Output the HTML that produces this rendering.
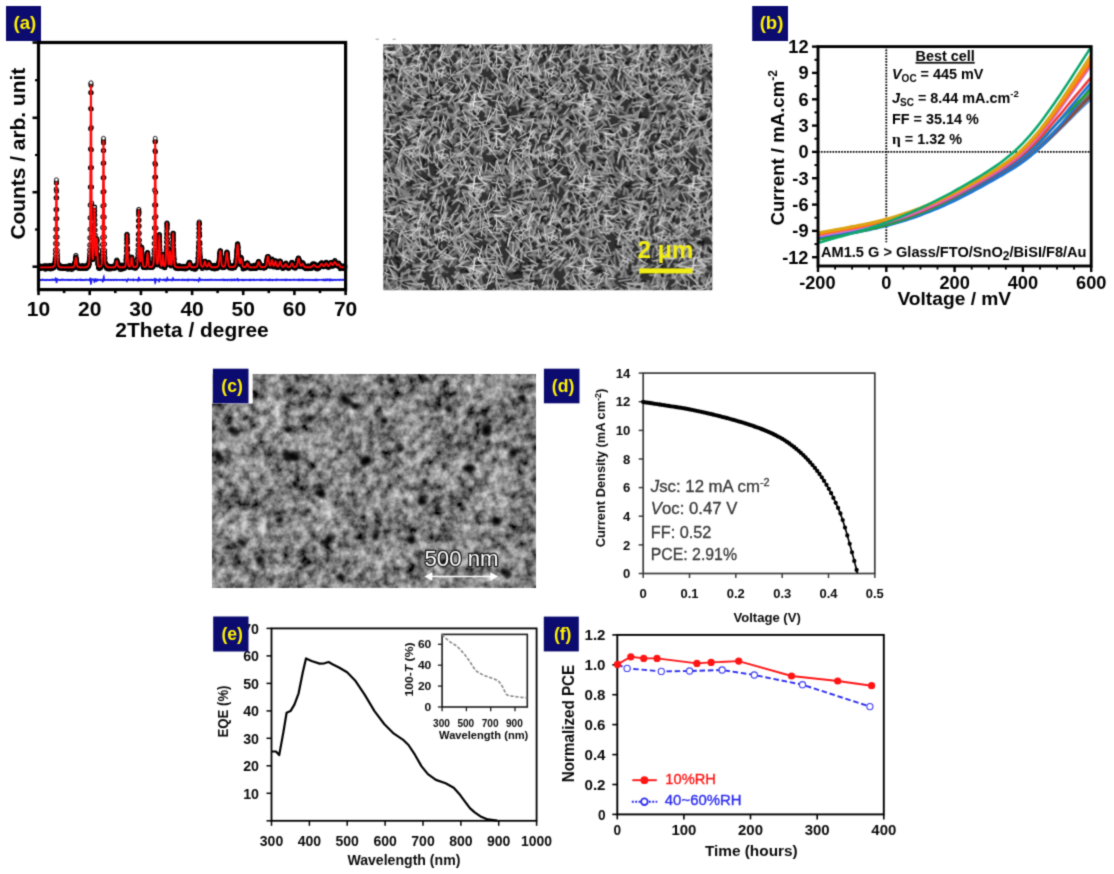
<!DOCTYPE html>
<html><head><meta charset="utf-8"><title>figure</title>
<style>html,body{margin:0;padding:0;background:#fff;overflow:hidden}svg{display:block}</style></head>
<body>
<svg width="1114" height="874" viewBox="0 0 1114 874" font-family="'Liberation Sans', sans-serif">
<defs><filter id="soft" x="0" y="0" width="1114" height="874" filterUnits="userSpaceOnUse" color-interpolation-filters="sRGB"><feConvolveMatrix order="3" kernelMatrix="1 4 1 4 16 4 1 4 1" divisor="36" edgeMode="duplicate" preserveAlpha="true"/></filter></defs>
<g filter="url(#soft)">
<rect width="1114" height="874" fill="#fff"/>
<defs>
<pattern id="ndA" x="383.3" y="44.2" width="131.6" height="123.0" patternUnits="userSpaceOnUse">
<rect width="131.6" height="123.0" fill="#303030"/>
<path d="M64 68l-9 2M63 70l8 5M79 96l8 2M14 97l-4 5M132 114l-5 9M132 -9l-5 9M0 114l-5 9M0 -9l-5 9M21 -1l-1 6M21 122l-1 6M20 29l9 1M58 98l-1 10M65 78l1 8M136 120l-10 5M136 -3l-10 5M4 120l-10 5M4 -3l-10 5M39 26l4 5M105 47l-8 4M122 104l7 0M124 58l-9 1M13 75l-6 5M17 40l-11 1M12 29l6 2M106 17l-2 9M20 88l10 4M12 49l6 5M124 94l7 10M-7 94l7 10M32 46l-9 5M10 119l6 5M10 -4l6 5M100 38l4 5M8 68l7 7M54 55l-9 1M73 105l6 4M117 98l5 5M92 112l10 7M115 71l2 7M1 115l8 7M1 -8l8 7M35 97l-2 8M19 88l7 2M75 101l-3 7M117 25l8 0M55 5l7 5M73 11l5 11M132 77l-6 8M0 77l-6 8M12 4l12 1M87 118l10 1M60 84l7 11M14 63l-8 9M102 83l-10 8M52 82l-12 4M59 95l-9 4M84 42l-3 10M17 79l-12 0M99 44l-7 7M53 102l11 3M4 70l0 8M94 55l-4 12M31 -3l6 9M31 120l6 9M32 19l-10 3M55 105l6 9M31 49l-10 7M117 43l-2 8M23 58l-10 6M91 114l5 5M56 31l7 6M79 56l7 10M126 55l6 1M-5 55l6 1M118 1l-6 8M37 97l7 0M63 1l-7 4M20 2l-4 8M88 77l-10 7M90 21l1 7M4 55l-5 6M135 55l-5 6M39 39l-6 8M79 88l4 11M125 10l-11 2M19 50l-5 11M55 68l-11 4M126 54l-3 7M97 96l-5 10M34 110l-13 1M67 92l7 10M108 42l9 2M72 91l0 6M109 6l-6 4M41 95l6 3M73 86l-9 5M128 60l-7 1M26 60l7 9M88 62l-9 5M46 44l-11 6M32 104l-10 1M76 20l-1 9M84 3l-10 1M54 94l-2 9M91 4l-1 9M123 110l6 7M22 50l-10 7M58 36l9 6M124 14l-5 4M28 25l-5 7M42 74l11 4M14 60l5 5M68 50l3 8M65 17l8 6M89 63l-9 5M117 24l-8 8M115 34l7 10M32 122l-7 2M32 -1l-7 2M29 87l5 5M112 50l-5 4M49 84l7 0M93 112l-7 1M67 88l-0 11M22 8l6 2" stroke="#5c5c5c" stroke-width="2.8" stroke-linecap="round" fill="none"/>
<path d="M73 60l-2 7M30 22l-12 7M115 10l13 3M58 90l5 8M69 50l-2 6M88 101l8 5M94 48l6 4M73 -0l-12 4M73 123l-12 4M95 102l-4 8M85 62l-12 1M38 108l-8 9M113 48l-12 4M95 91l-7 6M93 4l5 9M4 39l-5 10M135 39l-5 10M33 112l-4 8M87 66l-1 9M135 74l-7 10M4 74l-7 10M131 -3l-4 11M131 120l-4 11M-1 -3l-4 11M-1 120l-4 11M30 49l7 1M45 7l9 9M78 62l-10 1M134 77l-5 4M2 77l-5 4M72 92l13 2M17 56l9 5M85 6l-9 2M68 70l3 8M83 64l7 9M37 -0l5 4M37 123l5 4M18 87l4 12M105 6l-14 0M9 107l2 10M129 23l-1 13M101 57l-13 1M81 10l-4 9M27 3l-1 7M58 78l1 8M81 48l-8 7M134 114l-5 6M2 114l-5 6M19 106l-9 7M50 29l-6 9M81 75l-5 5M39 119l-13 3M39 -4l-13 3M2 4l6 7M82 9l-1 7M12 78l-2 11M46 56l7 5M95 102l7 2M109 74l-6 5M60 29l-7 5M83 117l5 9M83 -6l5 9M97 109l2 9M10 107l6 2M77 56l-5 7M98 6l9 7M15 33l-8 9M35 12l5 11M51 10l-6 8M125 114l-9 3M103 34l5 8M120 107l6 6M47 40l3 9M30 66l-8 6M105 66l10 6M111 34l10 1M77 69l-11 1M107 2l-2 12M16 5l-9 10M6 75l11 5M81 26l9 8M67 90l3 8M127 78l0 10M99 86l-9 2M114 79l-11 6M115 109l-11 1M73 85l-8 5M60 13l-10 10M46 18l8 6M34 118l8 2M18 77l-6 5M10 50l-3 13M2 11l6 4M32 84l-2 7M19 31l10 6M45 65l-8 5M38 108l-8 2M72 114l0 8M10 114l-7 5M65 58l9 11M82 29l10 0M52 94l-7 9M19 16l4 7M117 57l-6 13M30 63l11 6M6 98l-11 6M137 98l-11 6M13 31l-4 5M68 57l-11 1M117 34l-7 6M124 9l-7 4M66 62l11 6M37 37l8 2M59 83l5 10M13 42l2 14M105 80l9 0M94 24l-2 9M4 120l-6 5M4 -3l-6 5M136 120l-6 5M136 -3l-6 5M79 31l4 10M37 36l4 11M37 21l-6 6M127 66l-6 7M106 10l6 3M85 85l8 5M106 72l8 2M20 12l2 6M121 47l-0 11M99 97l3 8M52 -4l4 11M52 119l4 11M132 92l-5 10M0 92l-5 10M-0 36l5 10M131 36l5 10M14 40l-0 12" stroke="#6e6e6e" stroke-width="2.6" stroke-linecap="round" fill="none"/>
<path d="M103 72l11 6M117 63l4 9M24 88l-10 0M89 99l11 8M79 23l8 2M72 80l7 12M41 54l13 5M19 106l-1 10M80 31l-13 4M102 72l12 5M34 107l8 7M110 20l-1 7M11 22l-14 1M143 22l-14 1M90 33l-6 10M53 71l-5 4M22 56l8 4M75 17l-1 8M76 38l-3 6M94 17l-11 1M64 45l-4 11M99 85l1 14M109 101l3 9M75 106l-1 10M55 109l3 5M99 107l-7 8M100 34l-2 6M16 50l-0 9M7 82l-1 8M38 46l5 4M123 113l-6 11M123 -10l-6 11M51 95l9 8M69 109l12 4M19 66l-6 1M30 34l3 6M116 96l3 8M70 5l13 1M47 60l-14 3M58 20l8 11M122 22l-8 4M69 19l-13 5M21 74l11 7M9 10l-6 6M121 104l-4 6M91 112l1 7M32 35l-5 6M27 24l-6 11M54 80l-10 4M36 36l-11 3M30 77l13 4M58 62l-1 6M75 31l9 9M14 32l-6 6M31 64l11 7M129 -2l1 12M129 121l1 12M-2 -2l1 12M-2 121l1 12M51 111l0 7M71 74l5 10M103 57l-0 13M94 63l-7 1M104 17l-3 7M63 91l-10 8M27 57l8 7M67 -1l-4 11M67 122l-4 11M72 105l6 4M1 56l2 9M28 97l13 3M78 64l-6 5M15 38l8 1M78 61l7 8M8 99l7 4M26 82l-11 6M6 47l3 7M128 -1l0 12M128 122l0 12M129 12l2 12M-3 12l2 12M9 28l-7 2M51 33l2 6M9 119l-9 8M9 -4l-9 8M140 119l-9 8M140 -4l-9 8M31 27l-1 8M59 111l4 8M125 75l9 1M-7 75l9 1M83 2l5 10M118 71l-9 3M49 98l4 11M24 40l9 6M18 22l8 6M46 55l-11 0M112 22l2 6M89 42l4 5M22 26l4 13M93 30l3 7M128 40l-9 8M117 -1l5 8M117 122l5 8M8 103l6 10M67 3l3 7M6 16l-2 6M42 49l-1 7M97 28l-7 9M16 21l7 9M57 46l-7 3M36 40l5 4M5 71l-3 12M132 31l-7 11M0 31l-7 11M32 79l-7 12M116 26l-3 6M52 47l9 2M41 58l5 6M48 56l10 6M29 7l4 8M23 67l-6 8M91 -1l3 8M91 122l3 8M3 49l10 2M75 54l4 7M8 41l-10 4M140 41l-10 4M30 79l8 5M79 113l4 10M79 -10l4 10M126 90l-4 10M50 46l8 10M119 46l-6 2M15 59l5 7M125 16l6 4M-6 16l6 4M84 29l10 0" stroke="#808080" stroke-width="2.4" stroke-linecap="round" fill="none"/>
<path d="M52 24l0 11M73 71l-2 12M124 35l6 12M45 83l-7 9M122 99l10 5M-10 99l10 5M63 66l3 8M96 63l6 5M43 18l-0 7M3 7l11 4M19 52l-7 6M24 105l-6 3M37 60l-7 5M97 28l-5 7M49 90l-11 6M78 47l-7 9M105 97l8 3M86 27l5 3M81 115l-7 1M92 47l-4 8M117 121l12 2M117 -2l12 2M12 1l7 9M12 124l7 9M129 12l3 5M-2 12l3 5M70 56l3 8M102 100l6 7M86 94l-9 1M94 65l-6 4M27 12l-8 2M63 12l3 5M76 14l-3 8M28 56l3 7M11 7l-8 3M10 15l1 14M26 102l0 9M101 48l10 2M82 71l9 10M113 116l2 12M113 -7l2 12M92 21l7 1M13 4l5 11M37 63l8 0M127 -5l-1 12M127 118l-1 12M102 85l4 12M112 94l-7 0M127 46l-5 6M121 -1l-2 8M121 122l-2 8M54 40l-6 11M46 75l4 7M115 38l8 3M101 22l-7 7M86 21l7 2M41 53l10 0M54 33l-2 14M24 103l6 10M13 115l3 13M13 -8l3 13M31 47l-4 6M40 83l-8 1M28 44l-7 0M85 43l-3 7M86 107l-10 5M60 68l12 4M93 52l-5 8M52 23l-3 10M70 -0l-4 9M70 123l-4 9M82 72l-7 2M65 119l-6 6M65 -4l-6 6M95 116l4 12M95 -7l4 12M17 118l0 8M17 -5l0 8M117 79l-12 2M108 63l-7 0M110 83l9 9M63 64l-7 3M32 78l10 2M99 56l9 9M114 88l-2 13M103 16l3 6M11 40l-12 5M142 40l-12 5M13 16l4 12M74 109l14 3M33 75l-11 4M25 79l1 6M46 35l-3 8M76 84l6 4M88 56l6 3M122 72l3 7M134 82l-6 7M2 82l-6 7M36 48l10 5M55 96l3 9M64 111l5 10M27 66l8 10M40 101l-5 8M127 44l-7 8M58 4l2 8M55 113l7 9M55 -10l7 9M87 27l2 7M117 27l2 8M109 100l-3 10M9 109l9 2M51 85l-4 8M113 116l11 1M61 40l1 8M95 74l-14 1M135 46l-10 6M4 46l-10 6M88 122l9 2M88 -1l9 2M47 76l11 9M23 44l8 4M93 7l10 6" stroke="#909090" stroke-width="2.1" stroke-linecap="round" fill="none"/>
<path d="M80 90l3 3M95 95l3 1M4 105l-5 1M136 105l-5 1M3 42l-0 3M14 96l2 3M16 69l2 1M68 35l-2 2M53 6l2 2M74 56l-2 1M114 19l-3 0M56 74l-4 2M52 0l4 2M52 123l4 2M95 87l3 2M2 12l3 4M83 104l3 0M8 31l4 2M44 58l-2 4M125 68l-0 5M53 36l-2 2M48 51l0 3M54 55l4 1M8 63l-0 3M29 11l1 2M65 27l-2 2M2 50l-2 0M134 50l-2 0M77 117l1 3M49 35l-1 3M42 59l-0 4M6 11l2 2M106 52l-3 1M35 83l5 1M108 39l2 4M102 79l4 1M7 74l-1 5M86 2l-4 1M77 -0l-2 2M77 123l-2 2M90 121l-2 0M104 53l-2 2M58 53l2 1M95 8l4 2M87 67l2 1M41 115l-1 5M28 49l-1 4M16 107l0 2M58 44l-2 4M64 83l1 4M12 90l3 2M25 42l2 1M77 62l1 3M111 43l-1 3M130 39l-1 2M35 89l-1 2M8 100l2 4M57 74l-1 5M120 55l0 2" stroke="#141414" stroke-width="2.4" stroke-linecap="round" fill="none"/>
</pattern>
<pattern id="ndB" x="383.3" y="44.2" width="109.7" height="82.0" patternUnits="userSpaceOnUse">
<path d="M79 3l7 10M5 52l-2 10M43 11l-12 2M91 6l-6 5M23 41l-2 7M90 46l-13 4M81 29l-12 2M35 67l-5 6M28 -2l-1 8M28 80l-1 8M28 19l9 4M27 20l6 8M102 10l-12 5M70 41l-7 8M75 73l-6 5M3 71l5 11M3 -11l5 11M23 32l5 11M104 37l-2 9M19 76l13 5M75 5l-6 2M66 10l-8 0M97 2l-3 6M9 47l-11 1M119 47l-11 1M94 61l-0 7M58 11l-1 9M58 12l-6 7M53 1l0 10M103 44l8 3M-7 44l8 3M44 56l-14 3M110 73l-12 6M1 73l-12 6M4 35l-3 11M114 35l-3 11M70 50l-7 1M54 78l7 1M92 78l6 0M91 51l-1 11M80 66l7 0M91 78l-8 5M91 -4l-8 5M31 28l12 1M29 44l-1 9M69 33l10 9M16 9l7 7M82 23l8 8M24 38l9 9M18 16l5 7M84 52l-8 6M6 60l6 5M44 77l3 8M44 -5l3 8M99 78l2 7M99 -4l2 7M84 59l6 11M43 18l-3 11M47 67l10 0M45 4l-7 2M29 71l-13 2M32 74l11 5M99 13l10 5M-11 13l10 5M102 59l-10 2M36 5l9 10M6 12l3 6M29 13l9 4M63 43l-7 7M101 5l5 4M39 61l-10 2M18 23l-2 8" stroke="#a0a0a0" stroke-width="1.6" stroke-linecap="round" fill="none"/>
<path d="M86 74l1 11M86 -8l1 11M87 34l11 8M111 -1l-7 6M111 81l-7 6M1 -1l-7 6M1 81l-7 6M1 10l10 6M110 10l10 6M18 -2l10 8M18 80l10 8M54 50l1 7M-2 24l8 1M107 24l8 1M67 25l1 11M40 27l-10 4M45 40l1 9M107 18l-13 3M97 6l-0 14M34 11l-5 6M68 12l-8 1M8 52l5 9M55 71l-0 9M-3 37l7 8M106 37l7 8M65 37l10 3M57 52l-8 1M52 5l-6 5M86 61l9 9M56 28l-2 13M50 35l8 10M52 26l6 4M98 65l-13 1M79 60l-8 10M91 12l-7 5M22 75l10 1M40 59l-5 12M97 52l11 2M16 79l-8 3M16 -3l-8 3M25 52l-10 10M70 8l-4 5M100 59l-10 8M65 73l-4 9M65 -9l-4 9M39 29l7 1M90 13l-6 11M74 39l4 7M24 47l-7 11M40 75l-8 2M110 50l-12 1M1 50l-12 1M37 18l-1 10M4 66l-1 10M77 17l9 6M23 26l6 1M44 42l-11 2M42 30l7 7M104 4l2 11M87 39l-6 12M100 14l-2 14M60 13l-5 4M13 41l8 9M84 22l-8 7M77 34l1 7M55 77l-6 2M11 18l-5 8" stroke="#b6b6b6" stroke-width="1.3" stroke-linecap="round" fill="none"/>
<path d="M14 33l-1 4M45 52l-2 3M4 58l2 1M51 1l3 1M53 8l-4 1M52 46l2 4M12 24l3 3M55 32l1 4M29 64l-2 2M40 35l0 2M67 32l2 3M51 38l-3 1M43 73l-4 0M45 54l-2 2M80 76l-2 3M46 52l3 2M58 79l2 3M58 -3l2 3M3 33l-2 2M112 33l-2 2M67 16l1 4M20 75l3 1M90 67l1 3M79 61l-2 2M28 56l-1 3M109 10l-2 2M-0 10l-2 2M79 77l2 2M56 40l3 2" stroke="#1a1a1a" stroke-width="1.8" stroke-linecap="round" fill="none"/>
<path d="M94 49l8 10M48 7l-3 10M60 74l-3 14M60 -8l-3 14M34 61l8 2M80 54l-8 5M30 26l-1 6M37 52l8 4M93 74l5 5M18 3l-10 8M31 38l-4 5M85 67l10 8M80 26l-7 3M51 19l2 13M67 50l-8 0M18 47l13 7M36 30l3 13M96 53l8 5M84 15l-13 5M20 26l9 8M-1 56l13 3M108 56l13 3M57 47l6 2M41 74l-4 13M41 -8l-4 13M1 8l12 1M110 8l12 1M22 17l-6 11M32 34l7 9M36 26l6 6M25 -3l6 9M25 79l6 9M34 7l-9 5M62 23l-12 4M71 50l-6 9M45 27l-0 10M64 39l-11 9M23 -1l4 5M23 81l4 5M85 48l5 6M99 63l-7 10M80 32l3 10M103 80l-13 3M103 -2l-13 3M14 20l-11 1M61 23l-10 4M112 6l-6 0M2 6l-6 0M18 29l-3 6M60 71l3 13M60 -11l3 13M61 45l9 5M95 52l8 6M61 22l-3 11M4 15l-4 7M114 15l-4 7M4 56l7 13M63 5l-3 8" stroke="#cccccc" stroke-width="1.05" stroke-linecap="round" fill="none"/>
<path d="M92 57l-5 5M0 64l7 3M110 64l7 3M3 6l1 16M39 19l-7 4M73 50l-6 1M65 29l-7 4M78 7l0 16M32 21l-12 3M4 12l7 6M99 57l-13 1M72 27l-7 8M4 35l4 11M10 2l-10 1M120 2l-10 1M38 5l-4 15M20 34l0 14M57 16l11 7M5 70l8 1M54 63l-5 13M76 58l14 2M13 13l6 1M93 30l6 2M96 49l-6 2M9 21l6 4M19 51l7 4M54 28l10 5M55 29l1 6M66 13l3 5M95 43l4 11M101 5l5 12M44 57l-6 2M36 19l-10 10M73 73l8 5M86 60l15 5M79 66l5 11M107 66l-4 14M113 62l-7 14M4 62l-7 14" stroke="#e4e4e4" stroke-width="0.95" stroke-linecap="round" fill="none"/>
<path d="M16 30l-1 7M87 1l-3 8M31 47l9 6M91 77l7 7M91 -5l7 7M80 14l-7 4M58 28l6 0M-5 21l10 12M105 21l10 12M73 2l-5 6M60 56l-14 7M45 22l3 9M83 35l-4 6M81 76l10 7M81 -6l10 7M17 -1l2 8M17 81l2 8M84 40l-8 13M1 7l11 1M92 49l-2 14M42 6l-3 6M22 1l6 3M22 83l6 3M61 4l-5 13M41 4l-7 11M99 38l-4 14" stroke="#fcfcfc" stroke-width="0.85" stroke-linecap="round" fill="none"/>
</pattern>
</defs>
<rect x="383.3" y="44.2" width="329.0" height="246.0" fill="url(#ndA)"/>
<rect x="383.3" y="44.2" width="329.0" height="246.0" fill="url(#ndB)"/>
<path d="M375.6 39.3h3.2M392.6 39.3h3.2" stroke="#9a9a9a" stroke-width="1.1"/>
<rect x="639.3" y="268.4" width="53.2" height="5" fill="#f2ee14"/>
<text x="665.4" y="258.2" font-size="24.5" font-weight="bold" text-anchor="middle" fill="#f2ee14" textLength="56" lengthAdjust="spacingAndGlyphs">2 µm</text>
<g id="pb">
<clipPath id="cb"><rect x="818.0" y="46.6" width="273.20000000000005" height="219.4"/></clipPath>
<line x1="818.0" y1="151.9" x2="1091.2" y2="151.9" stroke="#000" stroke-width="1.8" stroke-dasharray="1.7 1.2"/>
<line x1="886.3" y1="46.6" x2="886.3" y2="242.3" stroke="#000" stroke-width="1.8" stroke-dasharray="1.7 1.2"/>
<polyline points="818.0,238.9 821.4,238.3 824.8,237.7 828.2,237.1 831.7,236.5 835.1,235.9 838.5,235.3 841.9,234.7 845.3,234.0 848.7,233.4 852.1,232.8 855.6,232.2 859.0,231.5 862.4,230.8 865.8,230.2 869.2,229.4 872.6,228.7 876.1,227.9 879.5,227.1 882.9,226.3 886.3,225.4 889.7,224.5 893.1,223.5 896.5,222.5 900.0,221.5 903.4,220.4 906.8,219.3 910.2,218.1 913.6,216.9 917.0,215.6 920.5,214.4 923.9,213.0 927.3,211.7 930.7,210.3 934.1,208.8 937.5,207.4 940.9,205.9 944.4,204.3 947.8,202.8 951.2,201.2 954.6,199.5 958.0,197.9 961.4,196.1 964.8,194.4 968.3,192.6 971.7,190.8 975.1,189.0 978.5,187.2 981.9,185.3 985.3,183.5 988.8,181.6 992.2,179.7 995.6,177.8 999.0,175.9 1002.4,173.9 1005.8,171.9 1009.2,169.9 1012.7,167.8 1016.1,165.7 1019.5,163.4 1022.9,161.1 1026.3,158.7 1029.7,156.2 1033.1,153.5 1036.6,150.7 1040.0,147.8 1043.4,144.8 1046.8,141.7 1050.2,138.6 1053.6,135.3 1057.0,132.0 1060.5,128.6 1063.9,125.3 1067.3,121.9 1070.7,118.5 1074.1,115.1 1077.5,111.7 1081.0,108.4 1084.4,105.0 1087.8,101.7 1091.2,98.3" fill="none" stroke="#5b8fd0" stroke-width="2.6" clip-path="url(#cb)"/>
<polyline points="818.0,237.1 821.4,236.5 824.8,236.0 828.2,235.4 831.7,234.8 835.1,234.2 838.5,233.6 841.9,233.1 845.3,232.5 848.7,231.9 852.1,231.3 855.6,230.7 859.0,230.0 862.4,229.4 865.8,228.7 869.2,228.0 872.6,227.3 876.1,226.5 879.5,225.7 882.9,224.9 886.3,224.0 889.7,223.1 893.1,222.2 896.5,221.1 900.0,220.1 903.4,219.0 906.8,217.9 910.2,216.7 913.6,215.4 917.0,214.2 920.5,212.9 923.9,211.5 927.3,210.1 930.7,208.7 934.1,207.2 937.5,205.8 940.9,204.2 944.4,202.7 947.8,201.1 951.2,199.5 954.6,197.9 958.0,196.2 961.4,194.5 964.8,192.8 968.3,191.0 971.7,189.2 975.1,187.4 978.5,185.6 981.9,183.8 985.3,181.9 988.8,180.1 992.2,178.2 995.6,176.3 999.0,174.4 1002.4,172.4 1005.8,170.5 1009.2,168.4 1012.7,166.3 1016.1,164.1 1019.5,161.8 1022.9,159.4 1026.3,156.9 1029.7,154.3 1033.1,151.5 1036.6,148.6 1040.0,145.5 1043.4,142.3 1046.8,139.0 1050.2,135.6 1053.6,132.2 1057.0,128.6 1060.5,125.1 1063.9,121.5 1067.3,117.9 1070.7,114.3 1074.1,110.8 1077.5,107.2 1081.0,103.7 1084.4,100.1 1087.8,96.6 1091.2,93.1" fill="none" stroke="#6b6b6b" stroke-width="2.6" clip-path="url(#cb)"/>
<polyline points="818.0,238.0 821.4,237.4 824.8,236.8 828.2,236.2 831.7,235.6 835.1,235.0 838.5,234.4 841.9,233.8 845.3,233.2 848.7,232.6 852.1,231.9 855.6,231.3 859.0,230.6 862.4,230.0 865.8,229.3 869.2,228.6 872.6,227.8 876.1,227.0 879.5,226.2 882.9,225.4 886.3,224.5 889.7,223.6 893.1,222.6 896.5,221.6 900.0,220.6 903.4,219.5 906.8,218.4 910.2,217.2 913.6,216.0 917.0,214.7 920.5,213.4 923.9,212.1 927.3,210.8 930.7,209.4 934.1,207.9 937.5,206.5 940.9,205.0 944.4,203.5 947.8,201.9 951.2,200.3 954.6,198.7 958.0,197.1 961.4,195.4 964.8,193.7 968.3,192.0 971.7,190.2 975.1,188.4 978.5,186.6 981.9,184.8 985.3,183.0 988.8,181.2 992.2,179.3 995.6,177.5 999.0,175.6 1002.4,173.7 1005.8,171.8 1009.2,169.8 1012.7,167.7 1016.1,165.6 1019.5,163.4 1022.9,161.1 1026.3,158.7 1029.7,156.1 1033.1,153.4 1036.6,150.6 1040.0,147.6 1043.4,144.5 1046.8,141.3 1050.2,138.0 1053.6,134.6 1057.0,131.1 1060.5,127.6 1063.9,124.1 1067.3,120.5 1070.7,116.9 1074.1,113.4 1077.5,109.8 1081.0,106.3 1084.4,102.7 1087.8,99.2 1091.2,95.7" fill="none" stroke="#8a4a3a" stroke-width="2.6" clip-path="url(#cb)"/>
<polyline points="818.0,239.3 821.4,238.7 824.8,238.1 828.2,237.5 831.7,236.9 835.1,236.3 838.5,235.7 841.9,235.1 845.3,234.5 848.7,233.9 852.1,233.2 855.6,232.6 859.0,231.9 862.4,231.3 865.8,230.6 869.2,229.9 872.6,229.1 876.1,228.4 879.5,227.6 882.9,226.8 886.3,225.9 889.7,225.0 893.1,224.1 896.5,223.1 900.0,222.1 903.4,221.0 906.8,220.0 910.2,218.8 913.6,217.7 917.0,216.5 920.5,215.2 923.9,213.9 927.3,212.6 930.7,211.3 934.1,209.9 937.5,208.5 940.9,207.0 944.4,205.5 947.8,203.9 951.2,202.3 954.6,200.7 958.0,199.1 961.4,197.3 964.8,195.6 968.3,193.8 971.7,192.0 975.1,190.2 978.5,188.3 981.9,186.5 985.3,184.6 988.8,182.7 992.2,180.8 995.6,178.9 999.0,176.9 1002.4,175.0 1005.8,173.0 1009.2,170.9 1012.7,168.8 1016.1,166.6 1019.5,164.3 1022.9,161.9 1026.3,159.4 1029.7,156.7 1033.1,153.8 1036.6,150.8 1040.0,147.6 1043.4,144.2 1046.8,140.6 1050.2,137.0 1053.6,133.1 1057.0,129.2 1060.5,125.2 1063.9,121.1 1067.3,116.9 1070.7,112.7 1074.1,108.4 1077.5,104.2 1081.0,99.9 1084.4,95.6 1087.8,91.3 1091.2,87.0" fill="none" stroke="#1f77d4" stroke-width="2.6" clip-path="url(#cb)"/>
<polyline points="818.0,239.8 821.4,239.1 824.8,238.4 828.2,237.7 831.7,237.1 835.1,236.4 838.5,235.7 841.9,235.1 845.3,234.4 848.7,233.7 852.1,233.0 855.6,232.3 859.0,231.6 862.4,230.9 865.8,230.1 869.2,229.3 872.6,228.5 876.1,227.7 879.5,226.8 882.9,225.9 886.3,225.0 889.7,224.0 893.1,223.0 896.5,221.9 900.0,220.8 903.4,219.6 906.8,218.4 910.2,217.2 913.6,215.9 917.0,214.6 920.5,213.3 923.9,211.9 927.3,210.5 930.7,209.0 934.1,207.5 937.5,206.0 940.9,204.4 944.4,202.8 947.8,201.1 951.2,199.4 954.6,197.7 958.0,196.0 961.4,194.2 964.8,192.3 968.3,190.5 971.7,188.6 975.1,186.6 978.5,184.7 981.9,182.7 985.3,180.7 988.8,178.7 992.2,176.7 995.6,174.6 999.0,172.5 1002.4,170.4 1005.8,168.2 1009.2,165.9 1012.7,163.6 1016.1,161.2 1019.5,158.6 1022.9,155.9 1026.3,153.1 1029.7,150.2 1033.1,147.2 1036.6,144.0 1040.0,140.7 1043.4,137.3 1046.8,133.9 1050.2,130.4 1053.6,126.9 1057.0,123.4 1060.5,119.8 1063.9,116.3 1067.3,112.9 1070.7,109.4 1074.1,106.1 1077.5,102.7 1081.0,99.4 1084.4,96.1 1087.8,92.8 1091.2,89.5" fill="none" stroke="#2aa02a" stroke-width="2.6" clip-path="url(#cb)"/>
<polyline points="818.0,237.6 821.4,236.9 824.8,236.3 828.2,235.6 831.7,235.0 835.1,234.3 838.5,233.7 841.9,233.0 845.3,232.4 848.7,231.7 852.1,231.1 855.6,230.4 859.0,229.7 862.4,229.0 865.8,228.2 869.2,227.5 872.6,226.7 876.1,225.9 879.5,225.0 882.9,224.2 886.3,223.2 889.7,222.3 893.1,221.3 896.5,220.3 900.0,219.2 903.4,218.1 906.8,216.9 910.2,215.7 913.6,214.5 917.0,213.2 920.5,211.9 923.9,210.5 927.3,209.2 930.7,207.8 934.1,206.3 937.5,204.8 940.9,203.3 944.4,201.8 947.8,200.2 951.2,198.6 954.6,196.9 958.0,195.2 961.4,193.5 964.8,191.8 968.3,190.0 971.7,188.2 975.1,186.4 978.5,184.5 981.9,182.7 985.3,180.8 988.8,178.9 992.2,177.0 995.6,175.0 999.0,173.1 1002.4,171.1 1005.8,169.0 1009.2,166.9 1012.7,164.7 1016.1,162.3 1019.5,159.9 1022.9,157.3 1026.3,154.6 1029.7,151.7 1033.1,148.6 1036.6,145.4 1040.0,142.0 1043.4,138.4 1046.8,134.8 1050.2,131.0 1053.6,127.1 1057.0,123.1 1060.5,119.1 1063.9,115.1 1067.3,111.0 1070.7,106.9 1074.1,102.9 1077.5,98.8 1081.0,94.7 1084.4,90.7 1087.8,86.6 1091.2,82.6" fill="none" stroke="#1f77d4" stroke-width="2.6" clip-path="url(#cb)"/>
<polyline points="818.0,234.1 821.4,233.6 824.8,233.1 828.2,232.6 831.7,232.1 835.1,231.6 838.5,231.1 841.9,230.6 845.3,230.1 848.7,229.6 852.1,229.1 855.6,228.6 859.0,228.0 862.4,227.5 865.8,226.9 869.2,226.2 872.6,225.6 876.1,224.9 879.5,224.2 882.9,223.4 886.3,222.6 889.7,221.7 893.1,220.8 896.5,219.8 900.0,218.8 903.4,217.7 906.8,216.6 910.2,215.4 913.6,214.2 917.0,212.9 920.5,211.6 923.9,210.2 927.3,208.8 930.7,207.3 934.1,205.8 937.5,204.3 940.9,202.7 944.4,201.1 947.8,199.4 951.2,197.8 954.6,196.0 958.0,194.3 961.4,192.5 964.8,190.7 968.3,188.9 971.7,187.0 975.1,185.1 978.5,183.2 981.9,181.2 985.3,179.3 988.8,177.3 992.2,175.3 995.6,173.2 999.0,171.1 1002.4,169.0 1005.8,166.8 1009.2,164.5 1012.7,162.1 1016.1,159.6 1019.5,157.0 1022.9,154.2 1026.3,151.2 1029.7,148.1 1033.1,144.8 1036.6,141.3 1040.0,137.7 1043.4,134.0 1046.8,130.2 1050.2,126.2 1053.6,122.2 1057.0,118.2 1060.5,114.1 1063.9,110.0 1067.3,105.8 1070.7,101.7 1074.1,97.6 1077.5,93.6 1081.0,89.5 1084.4,85.4 1087.8,81.4 1091.2,77.3" fill="none" stroke="#f03c3c" stroke-width="2.6" clip-path="url(#cb)"/>
<polyline points="818.0,236.3 821.4,235.6 824.8,235.0 828.2,234.4 831.7,233.8 835.1,233.1 838.5,232.5 841.9,231.9 845.3,231.3 848.7,230.6 852.1,230.0 855.6,229.3 859.0,228.6 862.4,227.9 865.8,227.2 869.2,226.5 872.6,225.7 876.1,224.9 879.5,224.1 882.9,223.2 886.3,222.3 889.7,221.3 893.1,220.3 896.5,219.3 900.0,218.2 903.4,217.0 906.8,215.9 910.2,214.6 913.6,213.4 917.0,212.0 920.5,210.7 923.9,209.3 927.3,207.9 930.7,206.4 934.1,204.9 937.5,203.4 940.9,201.8 944.4,200.2 947.8,198.5 951.2,196.9 954.6,195.1 958.0,193.4 961.4,191.6 964.8,189.8 968.3,187.9 971.7,186.1 975.1,184.2 978.5,182.2 981.9,180.3 985.3,178.3 988.8,176.3 992.2,174.3 995.6,172.2 999.0,170.1 1002.4,167.9 1005.8,165.7 1009.2,163.3 1012.7,160.8 1016.1,158.2 1019.5,155.4 1022.9,152.4 1026.3,149.3 1029.7,145.9 1033.1,142.4 1036.6,138.7 1040.0,134.7 1043.4,130.6 1046.8,126.4 1050.2,122.0 1053.6,117.5 1057.0,112.9 1060.5,108.3 1063.9,103.6 1067.3,98.8 1070.7,94.0 1074.1,89.2 1077.5,84.4 1081.0,79.6 1084.4,74.8 1087.8,69.9 1091.2,65.1" fill="none" stroke="#d070d0" stroke-width="2.6" clip-path="url(#cb)"/>
<polyline points="818.0,234.5 821.4,233.9 824.8,233.2 828.2,232.6 831.7,232.0 835.1,231.4 838.5,230.8 841.9,230.1 845.3,229.5 848.7,228.9 852.1,228.2 855.6,227.6 859.0,226.9 862.4,226.2 865.8,225.5 869.2,224.7 872.6,224.0 876.1,223.2 879.5,222.3 882.9,221.4 886.3,220.5 889.7,219.6 893.1,218.6 896.5,217.5 900.0,216.4 903.4,215.3 906.8,214.1 910.2,212.9 913.6,211.6 917.0,210.3 920.5,208.9 923.9,207.5 927.3,206.1 930.7,204.6 934.1,203.1 937.5,201.6 940.9,200.0 944.4,198.4 947.8,196.8 951.2,195.1 954.6,193.4 958.0,191.7 961.4,189.9 964.8,188.1 968.3,186.2 971.7,184.4 975.1,182.5 978.5,180.6 981.9,178.6 985.3,176.6 988.8,174.6 992.2,172.6 995.6,170.5 999.0,168.4 1002.4,166.2 1005.8,163.9 1009.2,161.5 1012.7,158.9 1016.1,156.2 1019.5,153.4 1022.9,150.3 1026.3,147.1 1029.7,143.7 1033.1,140.1 1036.6,136.3 1040.0,132.3 1043.4,128.1 1046.8,123.9 1050.2,119.4 1053.6,114.9 1057.0,110.3 1060.5,105.7 1063.9,100.9 1067.3,96.2 1070.7,91.4 1074.1,86.6 1077.5,81.8 1081.0,77.0 1084.4,72.1 1087.8,67.3 1091.2,62.5" fill="none" stroke="#ff6a10" stroke-width="2.6" clip-path="url(#cb)"/>
<polyline points="818.0,233.2 821.4,232.6 824.8,232.0 828.2,231.4 831.7,230.8 835.1,230.2 838.5,229.6 841.9,229.0 845.3,228.4 848.7,227.7 852.1,227.1 855.6,226.5 859.0,225.8 862.4,225.2 865.8,224.5 869.2,223.7 872.6,223.0 876.1,222.2 879.5,221.4 882.9,220.5 886.3,219.7 889.7,218.7 893.1,217.7 896.5,216.7 900.0,215.6 903.4,214.5 906.8,213.4 910.2,212.2 913.6,210.9 917.0,209.6 920.5,208.3 923.9,206.9 927.3,205.5 930.7,204.1 934.1,202.6 937.5,201.1 940.9,199.5 944.4,197.9 947.8,196.3 951.2,194.6 954.6,192.9 958.0,191.2 961.4,189.4 964.8,187.6 968.3,185.8 971.7,183.9 975.1,182.0 978.5,180.1 981.9,178.1 985.3,176.1 988.8,174.1 992.2,172.0 995.6,169.9 999.0,167.8 1002.4,165.5 1005.8,163.2 1009.2,160.7 1012.7,158.1 1016.1,155.4 1019.5,152.5 1022.9,149.4 1026.3,146.1 1029.7,142.6 1033.1,138.9 1036.6,135.0 1040.0,130.9 1043.4,126.7 1046.8,122.3 1050.2,117.7 1053.6,113.1 1057.0,108.4 1060.5,103.6 1063.9,98.7 1067.3,93.9 1070.7,88.9 1074.1,84.0 1077.5,79.0 1081.0,74.0 1084.4,69.0 1087.8,64.0 1091.2,59.0" fill="none" stroke="#ff8c1a" stroke-width="2.6" clip-path="url(#cb)"/>
<polyline points="818.0,232.7 821.4,232.1 824.8,231.5 828.2,230.9 831.7,230.2 835.1,229.6 838.5,229.0 841.9,228.4 845.3,227.7 848.7,227.1 852.1,226.4 855.6,225.8 859.0,225.1 862.4,224.4 865.8,223.7 869.2,223.0 872.6,222.2 876.1,221.4 879.5,220.6 882.9,219.7 886.3,218.8 889.7,217.9 893.1,216.9 896.5,215.9 900.0,214.8 903.4,213.7 906.8,212.6 910.2,211.4 913.6,210.2 917.0,208.9 920.5,207.6 923.9,206.2 927.3,204.9 930.7,203.4 934.1,202.0 937.5,200.5 940.9,198.9 944.4,197.4 947.8,195.8 951.2,194.1 954.6,192.4 958.0,190.7 961.4,188.9 964.8,187.1 968.3,185.3 971.7,183.4 975.1,181.5 978.5,179.6 981.9,177.6 985.3,175.6 988.8,173.6 992.2,171.5 995.6,169.3 999.0,167.1 1002.4,164.9 1005.8,162.5 1009.2,160.0 1012.7,157.4 1016.1,154.5 1019.5,151.6 1022.9,148.4 1026.3,145.0 1029.7,141.4 1033.1,137.7 1036.6,133.7 1040.0,129.5 1043.4,125.1 1046.8,120.6 1050.2,116.0 1053.6,111.2 1057.0,106.3 1060.5,101.3 1063.9,96.3 1067.3,91.2 1070.7,86.0 1074.1,80.9 1077.5,75.6 1081.0,70.4 1084.4,65.1 1087.8,59.9 1091.2,54.6" fill="none" stroke="#d9a514" stroke-width="2.6" clip-path="url(#cb)"/>
<polyline points="818.0,242.8 821.4,241.9 824.8,240.9 828.2,240.0 831.7,239.0 835.1,238.1 838.5,237.1 841.9,236.2 845.3,235.2 848.7,234.2 852.1,233.3 855.6,232.3 859.0,231.3 862.4,230.3 865.8,229.2 869.2,228.2 872.6,227.1 876.1,225.9 879.5,224.8 882.9,223.6 886.3,222.4 889.7,221.1 893.1,219.9 896.5,218.5 900.0,217.2 903.4,215.8 906.8,214.3 910.2,212.9 913.6,211.3 917.0,209.8 920.5,208.2 923.9,206.6 927.3,205.0 930.7,203.3 934.1,201.6 937.5,199.9 940.9,198.2 944.4,196.4 947.8,194.6 951.2,192.8 954.6,190.9 958.0,189.0 961.4,187.1 964.8,185.1 968.3,183.2 971.7,181.2 975.1,179.1 978.5,177.1 981.9,175.0 985.3,172.8 988.8,170.6 992.2,168.4 995.6,166.1 999.0,163.7 1002.4,161.2 1005.8,158.6 1009.2,155.8 1012.7,152.9 1016.1,149.8 1019.5,146.5 1022.9,143.1 1026.3,139.4 1029.7,135.6 1033.1,131.6 1036.6,127.4 1040.0,123.0 1043.4,118.5 1046.8,113.8 1050.2,109.1 1053.6,104.2 1057.0,99.2 1060.5,94.2 1063.9,89.0 1067.3,83.9 1070.7,78.7 1074.1,73.4 1077.5,68.1 1081.0,62.8 1084.4,57.4 1087.8,52.1 1091.2,46.7" fill="none" stroke="#10a870" stroke-width="2.6" clip-path="url(#cb)"/>
<rect x="818.0" y="46.6" width="273.20000000000005" height="219.4" fill="none" stroke="#000" stroke-width="2.9"/>
<line x1="812.0" y1="257.2" x2="818.0" y2="257.2" stroke="#000" stroke-width="2.4"/>
<text x="808.5" y="263.6" font-size="18.2" font-weight="bold" text-anchor="end" fill="#000">-12</text>
<line x1="812.0" y1="230.9" x2="818.0" y2="230.9" stroke="#000" stroke-width="2.4"/>
<text x="808.5" y="237.3" font-size="18.2" font-weight="bold" text-anchor="end" fill="#000">-9</text>
<line x1="812.0" y1="204.6" x2="818.0" y2="204.6" stroke="#000" stroke-width="2.4"/>
<text x="808.5" y="211.0" font-size="18.2" font-weight="bold" text-anchor="end" fill="#000">-6</text>
<line x1="812.0" y1="178.2" x2="818.0" y2="178.2" stroke="#000" stroke-width="2.4"/>
<text x="808.5" y="184.6" font-size="18.2" font-weight="bold" text-anchor="end" fill="#000">-3</text>
<line x1="812.0" y1="151.9" x2="818.0" y2="151.9" stroke="#000" stroke-width="2.4"/>
<text x="808.5" y="158.3" font-size="18.2" font-weight="bold" text-anchor="end" fill="#000">0</text>
<line x1="812.0" y1="125.6" x2="818.0" y2="125.6" stroke="#000" stroke-width="2.4"/>
<text x="808.5" y="132.0" font-size="18.2" font-weight="bold" text-anchor="end" fill="#000">3</text>
<line x1="812.0" y1="99.3" x2="818.0" y2="99.3" stroke="#000" stroke-width="2.4"/>
<text x="808.5" y="105.7" font-size="18.2" font-weight="bold" text-anchor="end" fill="#000">6</text>
<line x1="812.0" y1="72.9" x2="818.0" y2="72.9" stroke="#000" stroke-width="2.4"/>
<text x="808.5" y="79.3" font-size="18.2" font-weight="bold" text-anchor="end" fill="#000">9</text>
<line x1="812.0" y1="46.6" x2="818.0" y2="46.6" stroke="#000" stroke-width="2.4"/>
<text x="808.5" y="53.0" font-size="18.2" font-weight="bold" text-anchor="end" fill="#000">12</text>
<line x1="814.5" y1="244.1" x2="818.0" y2="244.1" stroke="#000" stroke-width="2"/>
<line x1="814.5" y1="217.7" x2="818.0" y2="217.7" stroke="#000" stroke-width="2"/>
<line x1="814.5" y1="191.4" x2="818.0" y2="191.4" stroke="#000" stroke-width="2"/>
<line x1="814.5" y1="165.1" x2="818.0" y2="165.1" stroke="#000" stroke-width="2"/>
<line x1="814.5" y1="138.7" x2="818.0" y2="138.7" stroke="#000" stroke-width="2"/>
<line x1="814.5" y1="112.4" x2="818.0" y2="112.4" stroke="#000" stroke-width="2"/>
<line x1="814.5" y1="86.1" x2="818.0" y2="86.1" stroke="#000" stroke-width="2"/>
<line x1="814.5" y1="59.8" x2="818.0" y2="59.8" stroke="#000" stroke-width="2"/>
<line x1="818.0" y1="266.0" x2="818.0" y2="272.0" stroke="#000" stroke-width="2.4"/>
<text x="817.4" y="289.4" font-size="18.2" font-weight="bold" text-anchor="middle" fill="#000">-200</text>
<line x1="886.3" y1="266.0" x2="886.3" y2="272.0" stroke="#000" stroke-width="2.4"/>
<text x="886.3" y="289.4" font-size="18.2" font-weight="bold" text-anchor="middle" fill="#000">0</text>
<line x1="954.6" y1="266.0" x2="954.6" y2="272.0" stroke="#000" stroke-width="2.4"/>
<text x="954.6" y="289.4" font-size="18.2" font-weight="bold" text-anchor="middle" fill="#000">200</text>
<line x1="1022.9" y1="266.0" x2="1022.9" y2="272.0" stroke="#000" stroke-width="2.4"/>
<text x="1022.9" y="289.4" font-size="18.2" font-weight="bold" text-anchor="middle" fill="#000">400</text>
<line x1="1091.2" y1="266.0" x2="1091.2" y2="272.0" stroke="#000" stroke-width="2.4"/>
<text x="1091.2" y="289.4" font-size="18.2" font-weight="bold" text-anchor="middle" fill="#000">600</text>
<line x1="835.1" y1="266.0" x2="835.1" y2="269.5" stroke="#000" stroke-width="1.8"/>
<line x1="852.1" y1="266.0" x2="852.1" y2="269.5" stroke="#000" stroke-width="1.8"/>
<line x1="869.2" y1="266.0" x2="869.2" y2="269.5" stroke="#000" stroke-width="1.8"/>
<line x1="903.4" y1="266.0" x2="903.4" y2="269.5" stroke="#000" stroke-width="1.8"/>
<line x1="920.5" y1="266.0" x2="920.5" y2="269.5" stroke="#000" stroke-width="1.8"/>
<line x1="937.5" y1="266.0" x2="937.5" y2="269.5" stroke="#000" stroke-width="1.8"/>
<line x1="971.7" y1="266.0" x2="971.7" y2="269.5" stroke="#000" stroke-width="1.8"/>
<line x1="988.8" y1="266.0" x2="988.8" y2="269.5" stroke="#000" stroke-width="1.8"/>
<line x1="1005.8" y1="266.0" x2="1005.8" y2="269.5" stroke="#000" stroke-width="1.8"/>
<line x1="1040.0" y1="266.0" x2="1040.0" y2="269.5" stroke="#000" stroke-width="1.8"/>
<line x1="1057.0" y1="266.0" x2="1057.0" y2="269.5" stroke="#000" stroke-width="1.8"/>
<line x1="1074.1" y1="266.0" x2="1074.1" y2="269.5" stroke="#000" stroke-width="1.8"/>
<text x="954.3" y="305.4" font-size="19.2" font-weight="bold" text-anchor="middle" fill="#000">Voltage / mV</text>
<text transform="translate(783.6,147.8) rotate(-90)" font-size="18.6" font-weight="bold" text-anchor="middle" fill="#000">Current / mA.cm<tspan font-size="12" dy="-7">-2</tspan></text>
<text x="945.1" y="60.9" font-size="14.4" font-weight="bold" fill="#000" text-anchor="middle" text-decoration="underline">Best cell</text>
<line x1="915.8" y1="63" x2="974.4" y2="63" stroke="#111" stroke-width="1.2"/>
<text x="892" y="78.7" font-size="14.4" font-weight="bold" fill="#000"><tspan font-style="italic">V</tspan><tspan font-size="10" dy="3.5">OC</tspan><tspan dy="-3.5"> = 445 mV</tspan></text>
<text x="892" y="102.6" font-size="14.4" font-weight="bold" fill="#000"><tspan font-style="italic">J</tspan><tspan font-size="10" dy="3.5">SC</tspan><tspan dy="-3.5"> = 8.44 mA.cm</tspan><tspan font-size="9.5" dy="-6">-2</tspan></text>
<text x="892" y="124.4" font-size="14.4" font-weight="bold" fill="#000">FF = 35.14 %</text>
<text x="892" y="143.6" font-size="14.4" font-weight="bold" fill="#000"><tspan font-family="'Liberation Serif', serif" font-size="15.5">η</tspan> = 1.32 %</text>
<text x="821" y="257.2" font-size="14.6" font-weight="bold" fill="#000">AM1.5 G &gt; Glass/FTO/SnO<tspan font-size="12" dy="3">2</tspan><tspan dy="-3">/BiSI/F8/Au</tspan></text>
</g>
<rect x="752.2" y="6" width="35.8" height="35" fill="#0b0b70"/>
<text x="771.5" y="29.4" font-size="18.6" font-weight="bold" fill="#fff200" text-anchor="middle">(b)</text>
<defs><filter id="fc" x="0" y="0" width="100%" height="100%" color-interpolation-filters="sRGB"><feTurbulence type="fractalNoise" baseFrequency="0.035" numOctaves="2" seed="4" result="n1"/><feColorMatrix in="n1" type="matrix" values="1 0 0 0 0  1 0 0 0 0  1 0 0 0 0  0 0 0 0 1" result="a"/><feTurbulence type="fractalNoise" baseFrequency="0.12" numOctaves="3" seed="9" result="n2"/><feColorMatrix in="n2" type="matrix" values="1 0 0 0 0  1 0 0 0 0  1 0 0 0 0  0 0 0 0 1" result="b"/><feComposite in="a" in2="b" operator="arithmetic" k1="0" k2="0.7" k3="1.2" k4="-0.48"/><feComponentTransfer><feFuncR type="gamma" exponent="0.7" amplitude="0.86"/><feFuncG type="gamma" exponent="0.7" amplitude="0.86"/><feFuncB type="gamma" exponent="0.7" amplitude="0.86"/></feComponentTransfer></filter><filter id="hb" x="-20%" y="-20%" width="140%" height="140%"><feGaussianBlur stdDeviation="1.4"/></filter><clipPath id="cc"><rect x="212.1" y="374.4" width="323.5" height="212.9"/></clipPath></defs>
<rect x="212.1" y="374.4" width="323.5" height="212.9" fill="#888" filter="url(#fc)"/>
<g clip-path="url(#cc)"><g filter="url(#hb)" fill="#000" fill-opacity="0.8">
<ellipse cx="296.3" cy="458.3" rx="4.0" ry="3.4" transform="rotate(-29 296.3 458.3)"/>
<ellipse cx="294.3" cy="456.1" rx="4.7" ry="4.6" transform="rotate(27 294.3 456.1)"/>
<ellipse cx="288.0" cy="456.2" rx="6.5" ry="4.7" transform="rotate(42 288.0 456.2)"/>
<ellipse cx="355.8" cy="406.6" rx="3.4" ry="3.7" transform="rotate(14 355.8 406.6)"/>
<ellipse cx="352.0" cy="404.1" rx="2.7" ry="3.0" transform="rotate(-10 352.0 404.1)"/>
<ellipse cx="356.1" cy="406.2" rx="4.3" ry="2.5" transform="rotate(-28 356.1 406.2)"/>
<ellipse cx="343.3" cy="396.9" rx="3.3" ry="2.5" transform="rotate(15 343.3 396.9)"/>
<ellipse cx="344.1" cy="399.6" rx="3.7" ry="3.8" transform="rotate(7 344.1 399.6)"/>
<ellipse cx="346.9" cy="400.8" rx="4.3" ry="3.5" transform="rotate(25 346.9 400.8)"/>
<ellipse cx="309.2" cy="419.6" rx="3.9" ry="2.2" transform="rotate(46 309.2 419.6)"/>
<ellipse cx="309.4" cy="418.4" rx="3.4" ry="2.3" transform="rotate(-15 309.4 418.4)"/>
<ellipse cx="312.4" cy="417.3" rx="3.7" ry="2.5" transform="rotate(8 312.4 417.3)"/>
<ellipse cx="367.0" cy="459.8" rx="4.1" ry="4.1" transform="rotate(42 367.0 459.8)"/>
<ellipse cx="363.9" cy="461.0" rx="4.9" ry="3.9" transform="rotate(-29 363.9 461.0)"/>
<ellipse cx="366.8" cy="460.7" rx="4.5" ry="3.3" transform="rotate(-12 366.8 460.7)"/>
<ellipse cx="321.3" cy="494.4" rx="4.0" ry="3.4" transform="rotate(33 321.3 494.4)"/>
<ellipse cx="318.9" cy="492.6" rx="4.5" ry="3.4" transform="rotate(-4 318.9 492.6)"/>
<ellipse cx="321.1" cy="493.9" rx="3.2" ry="3.9" transform="rotate(42 321.1 493.9)"/>
<ellipse cx="324.6" cy="542.4" rx="4.5" ry="2.4" transform="rotate(23 324.6 542.4)"/>
<ellipse cx="328.7" cy="539.5" rx="3.1" ry="3.6" transform="rotate(-37 328.7 539.5)"/>
<ellipse cx="329.3" cy="538.7" rx="3.2" ry="3.5" transform="rotate(-43 329.3 538.7)"/>
<ellipse cx="259.3" cy="562.9" rx="2.8" ry="2.8" transform="rotate(-28 259.3 562.9)"/>
<ellipse cx="258.2" cy="559.1" rx="2.9" ry="2.4" transform="rotate(-45 258.2 559.1)"/>
<ellipse cx="261.2" cy="559.1" rx="3.2" ry="3.5" transform="rotate(-30 261.2 559.1)"/>
<ellipse cx="243.3" cy="544.0" rx="2.4" ry="2.8" transform="rotate(-19 243.3 544.0)"/>
<ellipse cx="240.0" cy="541.7" rx="3.0" ry="2.9" transform="rotate(45 240.0 541.7)"/>
<ellipse cx="243.4" cy="542.9" rx="3.2" ry="2.4" transform="rotate(20 243.4 542.9)"/>
<ellipse cx="486.4" cy="432.4" rx="5.3" ry="4.2" transform="rotate(29 486.4 432.4)"/>
<ellipse cx="486.0" cy="430.6" rx="3.8" ry="4.0" transform="rotate(-10 486.0 430.6)"/>
<ellipse cx="487.0" cy="427.7" rx="5.0" ry="4.6" transform="rotate(16 487.0 427.7)"/>
<ellipse cx="469.0" cy="467.3" rx="4.4" ry="3.0" transform="rotate(-7 469.0 467.3)"/>
<ellipse cx="466.4" cy="468.7" rx="4.2" ry="2.8" transform="rotate(21 466.4 468.7)"/>
<ellipse cx="471.8" cy="469.1" rx="3.9" ry="3.0" transform="rotate(-29 471.8 469.1)"/>
<ellipse cx="512.6" cy="452.5" rx="3.6" ry="3.8" transform="rotate(-46 512.6 452.5)"/>
<ellipse cx="518.2" cy="450.4" rx="3.5" ry="2.6" transform="rotate(25 518.2 450.4)"/>
<ellipse cx="513.4" cy="453.4" rx="3.8" ry="2.8" transform="rotate(37 513.4 453.4)"/>
<ellipse cx="425.8" cy="482.6" rx="2.4" ry="2.0" transform="rotate(2 425.8 482.6)"/>
<ellipse cx="424.3" cy="482.6" rx="2.5" ry="2.1" transform="rotate(-48 424.3 482.6)"/>
<ellipse cx="424.4" cy="481.2" rx="2.7" ry="2.7" transform="rotate(9 424.4 481.2)"/>
<ellipse cx="421.1" cy="500.5" rx="3.0" ry="3.0" transform="rotate(47 421.1 500.5)"/>
<ellipse cx="424.0" cy="501.4" rx="3.1" ry="2.7" transform="rotate(24 424.0 501.4)"/>
<ellipse cx="421.9" cy="502.1" rx="3.9" ry="2.8" transform="rotate(-38 421.9 502.1)"/>
<ellipse cx="411.2" cy="540.6" rx="3.0" ry="4.2" transform="rotate(-35 411.2 540.6)"/>
<ellipse cx="410.9" cy="539.4" rx="5.0" ry="3.2" transform="rotate(-48 410.9 539.4)"/>
<ellipse cx="412.7" cy="540.2" rx="3.2" ry="2.8" transform="rotate(49 412.7 540.2)"/>
<ellipse cx="377.2" cy="531.6" rx="3.5" ry="2.9" transform="rotate(12 377.2 531.6)"/>
<ellipse cx="375.9" cy="536.3" rx="3.8" ry="2.3" transform="rotate(-47 375.9 536.3)"/>
<ellipse cx="375.3" cy="536.6" rx="2.8" ry="3.4" transform="rotate(-26 375.3 536.6)"/>
<ellipse cx="521.0" cy="397.9" rx="3.5" ry="2.2" transform="rotate(-6 521.0 397.9)"/>
<ellipse cx="522.6" cy="396.7" rx="2.6" ry="2.1" transform="rotate(-8 522.6 396.7)"/>
<ellipse cx="524.0" cy="400.7" rx="3.5" ry="2.0" transform="rotate(34 524.0 400.7)"/>
<ellipse cx="232.1" cy="428.6" rx="3.5" ry="2.4" transform="rotate(8 232.1 428.6)"/>
<ellipse cx="230.3" cy="430.2" rx="3.2" ry="3.2" transform="rotate(42 230.3 430.2)"/>
<ellipse cx="234.8" cy="432.3" rx="3.9" ry="3.2" transform="rotate(-13 234.8 432.3)"/>
<ellipse cx="218.8" cy="455.1" rx="3.4" ry="2.8" transform="rotate(39 218.8 455.1)"/>
<ellipse cx="220.4" cy="458.7" rx="3.3" ry="3.1" transform="rotate(-38 220.4 458.7)"/>
<ellipse cx="217.0" cy="455.1" rx="3.3" ry="3.1" transform="rotate(-42 217.0 455.1)"/>
<ellipse cx="507.3" cy="575.2" rx="3.9" ry="3.5" transform="rotate(-46 507.3 575.2)"/>
<ellipse cx="503.1" cy="571.9" rx="3.1" ry="3.3" transform="rotate(37 503.1 571.9)"/>
<ellipse cx="504.3" cy="571.2" rx="3.2" ry="2.5" transform="rotate(46 504.3 571.2)"/>
<ellipse cx="390.3" cy="380.0" rx="2.4" ry="2.4" transform="rotate(-29 390.3 380.0)"/>
<ellipse cx="392.6" cy="380.5" rx="3.1" ry="2.2" transform="rotate(-5 392.6 380.5)"/>
<ellipse cx="392.1" cy="381.0" rx="2.3" ry="2.3" transform="rotate(-47 392.1 381.0)"/>
<ellipse cx="385.2" cy="421.0" rx="3.1" ry="2.2" transform="rotate(-44 385.2 421.0)"/>
<ellipse cx="383.6" cy="421.1" rx="3.1" ry="2.9" transform="rotate(40 383.6 421.1)"/>
<ellipse cx="384.4" cy="420.9" rx="2.9" ry="2.6" transform="rotate(34 384.4 420.9)"/>
<ellipse cx="288.7" cy="390.5" rx="3.1" ry="2.4" transform="rotate(-26 288.7 390.5)"/>
<ellipse cx="290.3" cy="389.9" rx="3.5" ry="2.5" transform="rotate(-49 290.3 389.9)"/>
<ellipse cx="289.9" cy="389.3" rx="3.4" ry="2.3" transform="rotate(-28 289.9 389.3)"/>
<ellipse cx="289.0" cy="429.2" rx="3.4" ry="2.6" transform="rotate(27 289.0 429.2)"/>
<ellipse cx="286.9" cy="430.0" rx="3.5" ry="2.2" transform="rotate(21 286.9 430.0)"/>
<ellipse cx="288.8" cy="429.9" rx="3.1" ry="2.5" transform="rotate(-26 288.8 429.9)"/>
<ellipse cx="450.0" cy="410.5" rx="2.1" ry="2.6" transform="rotate(11 450.0 410.5)"/>
<ellipse cx="448.8" cy="410.3" rx="2.8" ry="2.0" transform="rotate(47 448.8 410.3)"/>
<ellipse cx="447.9" cy="407.9" rx="2.8" ry="2.8" transform="rotate(34 447.9 407.9)"/>
<ellipse cx="495.6" cy="520.4" rx="3.9" ry="3.3" transform="rotate(8 495.6 520.4)"/>
<ellipse cx="496.7" cy="520.0" rx="2.4" ry="2.1" transform="rotate(46 496.7 520.0)"/>
<ellipse cx="497.1" cy="521.2" rx="3.9" ry="3.4" transform="rotate(-18 497.1 521.2)"/>
<ellipse cx="341.0" cy="576.4" rx="3.8" ry="2.2" transform="rotate(-30 341.0 576.4)"/>
<ellipse cx="340.0" cy="577.4" rx="3.5" ry="2.2" transform="rotate(-14 340.0 577.4)"/>
<ellipse cx="340.3" cy="577.2" rx="3.0" ry="2.8" transform="rotate(-2 340.3 577.2)"/>
<ellipse cx="280.3" cy="518.8" rx="3.0" ry="2.4" transform="rotate(-33 280.3 518.8)"/>
<ellipse cx="279.9" cy="520.2" rx="3.4" ry="1.8" transform="rotate(-10 279.9 520.2)"/>
<ellipse cx="279.0" cy="520.6" rx="3.2" ry="2.6" transform="rotate(0 279.0 520.6)"/>
<ellipse cx="445.1" cy="561.8" rx="2.8" ry="2.0" transform="rotate(26 445.1 561.8)"/>
<ellipse cx="445.1" cy="561.5" rx="3.2" ry="2.5" transform="rotate(-11 445.1 561.5)"/>
<ellipse cx="442.8" cy="561.9" rx="2.9" ry="2.4" transform="rotate(-43 442.8 561.9)"/>
<ellipse cx="401.9" cy="448.6" rx="2.8" ry="1.9" transform="rotate(-4 401.9 448.6)"/>
<ellipse cx="398.8" cy="449.5" rx="2.2" ry="1.9" transform="rotate(13 398.8 449.5)"/>
<ellipse cx="399.8" cy="449.3" rx="2.9" ry="2.5" transform="rotate(6 399.8 449.3)"/>
</g></g>
<rect x="212.3" y="368" width="40.4" height="35.6" fill="#fff"/>
<g stroke="#fff" stroke-width="1.6" fill="#fff"><line x1="428" y1="576.5" x2="494.5" y2="576.5"/><path d="M424.3 576.5l8-4.2v8.4z M498.3 576.5l-8-4.2v8.4z" stroke="none"/></g>
<text x="461.5" y="565.9" font-size="22" text-anchor="middle" fill="#fff" stroke="#1c1c1c" stroke-width="2.6" paint-order="stroke" stroke-linejoin="round" textLength="74" lengthAdjust="spacingAndGlyphs">500 nm</text>
<rect x="212.9" y="368.7" width="35.6" height="34.6" fill="#0b0b70"/>
<text x="232.1" y="391.6" font-size="17.6" font-weight="bold" fill="#fff200" text-anchor="middle">(c)</text>
<g id="pd">
<rect x="643.2" y="373.1" width="231.5999999999999" height="200.39999999999998" fill="none" stroke="#3a3a3a" stroke-width="1.7"/>
<line x1="638.7" y1="573.5" x2="643.2" y2="573.5" stroke="#3a3a3a" stroke-width="1.5"/>
<text x="630.3" y="578.1" font-size="13.2" font-weight="bold" text-anchor="end" fill="#0a0a0a" textLength="7.3" lengthAdjust="spacingAndGlyphs" >0</text>
<line x1="638.7" y1="544.9" x2="643.2" y2="544.9" stroke="#3a3a3a" stroke-width="1.5"/>
<text x="630.3" y="549.5" font-size="13.2" font-weight="bold" text-anchor="end" fill="#0a0a0a" textLength="7.3" lengthAdjust="spacingAndGlyphs" >2</text>
<line x1="638.7" y1="516.2" x2="643.2" y2="516.2" stroke="#3a3a3a" stroke-width="1.5"/>
<text x="630.3" y="520.8" font-size="13.2" font-weight="bold" text-anchor="end" fill="#0a0a0a" textLength="7.3" lengthAdjust="spacingAndGlyphs" >4</text>
<line x1="638.7" y1="487.6" x2="643.2" y2="487.6" stroke="#3a3a3a" stroke-width="1.5"/>
<text x="630.3" y="492.2" font-size="13.2" font-weight="bold" text-anchor="end" fill="#0a0a0a" textLength="7.3" lengthAdjust="spacingAndGlyphs" >6</text>
<line x1="638.7" y1="459.0" x2="643.2" y2="459.0" stroke="#3a3a3a" stroke-width="1.5"/>
<text x="630.3" y="463.6" font-size="13.2" font-weight="bold" text-anchor="end" fill="#0a0a0a" textLength="7.3" lengthAdjust="spacingAndGlyphs" >8</text>
<line x1="638.7" y1="430.4" x2="643.2" y2="430.4" stroke="#3a3a3a" stroke-width="1.5"/>
<text x="630.3" y="435.0" font-size="13.2" font-weight="bold" text-anchor="end" fill="#0a0a0a" textLength="14.6" lengthAdjust="spacingAndGlyphs" >10</text>
<line x1="638.7" y1="401.7" x2="643.2" y2="401.7" stroke="#3a3a3a" stroke-width="1.5"/>
<text x="630.3" y="406.3" font-size="13.2" font-weight="bold" text-anchor="end" fill="#0a0a0a" textLength="14.6" lengthAdjust="spacingAndGlyphs" >12</text>
<line x1="638.7" y1="373.1" x2="643.2" y2="373.1" stroke="#3a3a3a" stroke-width="1.5"/>
<text x="630.3" y="377.7" font-size="13.2" font-weight="bold" text-anchor="end" fill="#0a0a0a" textLength="14.6" lengthAdjust="spacingAndGlyphs" >14</text>
<line x1="643.2" y1="573.5" x2="643.2" y2="578.0" stroke="#3a3a3a" stroke-width="1.5"/>
<text x="643.2" y="597.8" font-size="13.2" font-weight="bold" text-anchor="middle" fill="#0a0a0a" textLength="7.3" lengthAdjust="spacingAndGlyphs" >0</text>
<line x1="689.5" y1="573.5" x2="689.5" y2="578.0" stroke="#3a3a3a" stroke-width="1.5"/>
<text x="689.5" y="597.8" font-size="13.2" font-weight="bold" text-anchor="middle" fill="#0a0a0a" textLength="18.0" lengthAdjust="spacingAndGlyphs" >0.1</text>
<line x1="735.8" y1="573.5" x2="735.8" y2="578.0" stroke="#3a3a3a" stroke-width="1.5"/>
<text x="735.8" y="597.8" font-size="13.2" font-weight="bold" text-anchor="middle" fill="#0a0a0a" textLength="18.0" lengthAdjust="spacingAndGlyphs" >0.2</text>
<line x1="782.2" y1="573.5" x2="782.2" y2="578.0" stroke="#3a3a3a" stroke-width="1.5"/>
<text x="782.2" y="597.8" font-size="13.2" font-weight="bold" text-anchor="middle" fill="#0a0a0a" textLength="18.0" lengthAdjust="spacingAndGlyphs" >0.3</text>
<line x1="828.5" y1="573.5" x2="828.5" y2="578.0" stroke="#3a3a3a" stroke-width="1.5"/>
<text x="828.5" y="597.8" font-size="13.2" font-weight="bold" text-anchor="middle" fill="#0a0a0a" textLength="18.0" lengthAdjust="spacingAndGlyphs" >0.4</text>
<line x1="874.8" y1="573.5" x2="874.8" y2="578.0" stroke="#3a3a3a" stroke-width="1.5"/>
<text x="874.8" y="597.8" font-size="13.2" font-weight="bold" text-anchor="middle" fill="#0a0a0a" textLength="18.0" lengthAdjust="spacingAndGlyphs" >0.5</text>
<text x="767.1" y="621.8" font-size="13.4" font-weight="bold" text-anchor="middle" fill="#0a0a0a" textLength="67.4" lengthAdjust="spacingAndGlyphs" >Voltage (V)</text>
<text transform="translate(605.2,468) rotate(-90)" font-size="13.2" font-weight="bold" text-anchor="middle" fill="#0a0a0a" textLength="158.5" lengthAdjust="spacingAndGlyphs">Current Density (mA cm<tspan font-size="9" dy="-4.5">-2</tspan><tspan dy="4.5">)</tspan></text>
<polyline points="643.2,402.0 646.5,402.5 649.9,403.0 653.3,403.5 656.7,404.0 660.0,404.6 663.4,405.1 666.7,405.6 670.1,406.1 673.5,406.7 676.8,407.2 680.2,407.7 683.6,408.3 686.9,408.9 690.3,409.5 693.6,410.1 696.9,410.8 700.3,411.6 703.6,412.3 706.9,413.1 710.2,413.9 713.5,414.7 716.8,415.5 720.2,416.3 723.5,417.2 726.7,418.0 730.0,418.9 733.3,419.8 736.6,420.8 739.9,421.7 743.1,422.7 746.4,423.7 749.6,424.8 752.8,425.9 756.1,427.0 759.3,428.2 762.4,429.4 765.6,430.7 768.7,432.0 771.8,433.4 774.9,434.9 777.9,436.5 780.9,438.1 783.8,439.8 786.7,441.7 789.5,443.7 792.2,445.7 794.9,447.8 797.6,449.9 800.1,452.2 802.6,454.5 805.1,456.9 807.4,459.3 809.7,461.8 812.0,464.4 814.1,467.0 816.2,469.7 818.3,472.4 820.3,475.2 822.2,478.0 824.1,480.8 825.9,483.7 827.6,486.7 829.2,489.7 830.8,492.7 832.4,495.7 833.9,498.8 835.3,501.9 836.7,504.9 838.1,508.1 839.4,511.2 840.7,514.4 841.8,517.6 842.9,520.8 843.9,524.0 844.9,527.3 845.9,530.6 846.9,533.8 847.8,537.1 848.7,540.4 849.6,543.7 850.5,547.0 851.4,550.2 852.3,553.5 853.2,556.8 854.1,560.1 854.9,563.4 855.8,566.7 856.6,570.0 857.5,573.3" fill="none" stroke="#000" stroke-width="1.7"/>
<path d="M643.2 402.0h0M645.5 402.4h0M647.8 402.7h0M650.1 403.0h0M652.5 403.4h0M654.8 403.8h0M657.1 404.1h0M659.4 404.5h0M661.7 404.8h0M664.1 405.2h0M666.4 405.6h0M668.7 405.9h0M671.0 406.3h0M673.3 406.6h0M675.7 407.0h0M678.0 407.4h0M680.3 407.7h0M682.6 408.1h0M684.9 408.5h0M687.3 408.9h0M689.6 409.4h0M691.9 409.8h0M694.2 410.3h0M696.5 410.8h0M698.9 411.3h0M701.2 411.8h0M703.5 412.3h0M705.8 412.8h0M708.1 413.4h0M710.5 413.9h0M712.8 414.5h0M715.1 415.1h0M717.4 415.6h0M719.7 416.2h0M722.1 416.8h0M724.4 417.4h0M726.7 418.0h0M729.0 418.6h0M731.3 419.3h0M733.7 419.9h0M736.0 420.6h0M738.3 421.3h0M740.6 421.9h0M742.9 422.6h0M745.3 423.4h0M747.6 424.1h0M749.9 424.9h0M752.2 425.6h0M754.5 426.5h0M756.9 427.3h0M759.2 428.1h0M761.5 429.0h0M763.8 429.9h0M766.1 430.9h0M768.5 431.9h0M770.8 432.9h0M773.1 434.0h0M775.4 435.2h0M777.7 436.4h0M780.1 437.6h0M782.4 438.9h0M784.7 440.3h0M787.0 441.9h0M789.3 443.5h0M791.7 445.3h0M794.0 447.0h0M796.3 448.9h0M798.6 450.8h0M800.9 452.9h0M803.3 455.1h0M805.6 457.4h0M807.9 459.8h0M810.2 462.4h0M812.5 465.1h0M814.9 467.9h0M817.2 470.9h0M819.5 474.0h0M821.8 477.3h0M824.1 480.9h0M826.5 484.8h0M828.8 488.8h0M831.1 493.2h0M833.4 497.9h0M835.7 502.8h0M838.1 507.9h0M840.4 513.5h0M842.7 520.1h0M845.0 527.6h0M847.3 535.5h0M849.7 543.8h0M852.0 552.3h0M854.3 561.0h0M856.6 570.0h0" fill="none" stroke="#000" stroke-width="4.3" stroke-linecap="round"/>
<text x="650.8" y="491.9" font-size="16.2" text-anchor="start" fill="#383838" textLength="118.8" lengthAdjust="spacingAndGlyphs" stroke="#383838" stroke-width="0.3"><tspan font-style="italic">J</tspan>sc: 12 mA cm<tspan font-size="10.5" dy="-6">-2</tspan></text>
<text x="650.8" y="514.3" font-size="16.2" text-anchor="start" fill="#383838" textLength="86.5" lengthAdjust="spacingAndGlyphs" stroke="#383838" stroke-width="0.3"><tspan font-style="italic">V</tspan>oc: 0.47 V</text>
<text x="650.8" y="537.6" font-size="16.2" text-anchor="start" fill="#383838" textLength="60.6" lengthAdjust="spacingAndGlyphs" stroke="#383838" stroke-width="0.3">FF: 0.52</text>
<text x="650.8" y="560.3" font-size="16.2" text-anchor="start" fill="#383838" textLength="86.2" lengthAdjust="spacingAndGlyphs" stroke="#383838" stroke-width="0.3">PCE: 2.91%</text>
</g>
<rect x="543.9" y="368.7" width="35.6" height="34.6" fill="#0b0b70"/>
<text x="563.1" y="391.6" font-size="17.6" font-weight="bold" fill="#fff200" text-anchor="middle">(d)</text>
<g id="pe">
<rect x="271.5" y="628.4" width="265.1" height="192.39999999999998" fill="none" stroke="#000" stroke-width="1.8"/>
<line x1="266.5" y1="820.8" x2="271.5" y2="820.8" stroke="#000" stroke-width="1.5"/>
<line x1="266.5" y1="793.3" x2="271.5" y2="793.3" stroke="#000" stroke-width="1.5"/>
<text x="259.0" y="798.5" font-size="14.6" font-weight="bold" text-anchor="end" fill="#0a0a0a" textLength="15.8" lengthAdjust="spacingAndGlyphs" >10</text>
<line x1="266.5" y1="765.8" x2="271.5" y2="765.8" stroke="#000" stroke-width="1.5"/>
<text x="259.0" y="771.0" font-size="14.6" font-weight="bold" text-anchor="end" fill="#0a0a0a" textLength="15.8" lengthAdjust="spacingAndGlyphs" >20</text>
<line x1="266.5" y1="738.3" x2="271.5" y2="738.3" stroke="#000" stroke-width="1.5"/>
<text x="259.0" y="743.5" font-size="14.6" font-weight="bold" text-anchor="end" fill="#0a0a0a" textLength="15.8" lengthAdjust="spacingAndGlyphs" >30</text>
<line x1="266.5" y1="710.9" x2="271.5" y2="710.9" stroke="#000" stroke-width="1.5"/>
<text x="259.0" y="716.1" font-size="14.6" font-weight="bold" text-anchor="end" fill="#0a0a0a" textLength="15.8" lengthAdjust="spacingAndGlyphs" >40</text>
<line x1="266.5" y1="683.4" x2="271.5" y2="683.4" stroke="#000" stroke-width="1.5"/>
<text x="259.0" y="688.6" font-size="14.6" font-weight="bold" text-anchor="end" fill="#0a0a0a" textLength="15.8" lengthAdjust="spacingAndGlyphs" >50</text>
<line x1="266.5" y1="655.9" x2="271.5" y2="655.9" stroke="#000" stroke-width="1.5"/>
<text x="259.0" y="661.1" font-size="14.6" font-weight="bold" text-anchor="end" fill="#0a0a0a" textLength="15.8" lengthAdjust="spacingAndGlyphs" >60</text>
<line x1="266.5" y1="628.4" x2="271.5" y2="628.4" stroke="#000" stroke-width="1.5"/>
<text x="259.0" y="633.6" font-size="14.6" font-weight="bold" text-anchor="end" fill="#0a0a0a" textLength="15.8" lengthAdjust="spacingAndGlyphs" >70</text>
<line x1="271.5" y1="820.8" x2="271.5" y2="825.8" stroke="#000" stroke-width="1.5"/>
<text x="271.5" y="846.4" font-size="13.8" font-weight="bold" text-anchor="middle" fill="#0a0a0a" textLength="23.4" lengthAdjust="spacingAndGlyphs" >300</text>
<line x1="309.4" y1="820.8" x2="309.4" y2="825.8" stroke="#000" stroke-width="1.5"/>
<text x="309.4" y="846.4" font-size="13.8" font-weight="bold" text-anchor="middle" fill="#0a0a0a" textLength="23.4" lengthAdjust="spacingAndGlyphs" >400</text>
<line x1="347.2" y1="820.8" x2="347.2" y2="825.8" stroke="#000" stroke-width="1.5"/>
<text x="347.2" y="846.4" font-size="13.8" font-weight="bold" text-anchor="middle" fill="#0a0a0a" textLength="23.4" lengthAdjust="spacingAndGlyphs" >500</text>
<line x1="385.1" y1="820.8" x2="385.1" y2="825.8" stroke="#000" stroke-width="1.5"/>
<text x="385.1" y="846.4" font-size="13.8" font-weight="bold" text-anchor="middle" fill="#0a0a0a" textLength="23.4" lengthAdjust="spacingAndGlyphs" >600</text>
<line x1="423.0" y1="820.8" x2="423.0" y2="825.8" stroke="#000" stroke-width="1.5"/>
<text x="423.0" y="846.4" font-size="13.8" font-weight="bold" text-anchor="middle" fill="#0a0a0a" textLength="23.4" lengthAdjust="spacingAndGlyphs" >700</text>
<line x1="460.9" y1="820.8" x2="460.9" y2="825.8" stroke="#000" stroke-width="1.5"/>
<text x="460.9" y="846.4" font-size="13.8" font-weight="bold" text-anchor="middle" fill="#0a0a0a" textLength="23.4" lengthAdjust="spacingAndGlyphs" >800</text>
<line x1="498.7" y1="820.8" x2="498.7" y2="825.8" stroke="#000" stroke-width="1.5"/>
<text x="498.7" y="846.4" font-size="13.8" font-weight="bold" text-anchor="middle" fill="#0a0a0a" textLength="23.4" lengthAdjust="spacingAndGlyphs" >900</text>
<line x1="536.6" y1="820.8" x2="536.6" y2="825.8" stroke="#000" stroke-width="1.5"/>
<text x="536.6" y="846.4" font-size="13.8" font-weight="bold" text-anchor="middle" fill="#0a0a0a" textLength="31" lengthAdjust="spacingAndGlyphs" >1000</text>
<text x="403.9" y="864.6" font-size="13.8" font-weight="bold" text-anchor="middle" fill="#0a0a0a" textLength="113" lengthAdjust="spacingAndGlyphs" >Wavelength (nm)</text>
<text transform="translate(227.6,711.5) rotate(-90)" font-size="14.2" font-weight="bold" text-anchor="middle" fill="#0a0a0a" textLength="52" lengthAdjust="spacingAndGlyphs">EQE (%)</text>
<polyline points="271.8,751.5 276.0,751.5 279.2,755.1 283.4,732.1 286.6,712.7 290.5,711.1 294.4,704.6 298.6,693.3 302.8,672.3 306.0,658.4 311.5,661.0 319.6,663.6 324.4,663.3 328.6,662.0 332.5,664.2 339.0,667.5 347.1,672.3 355.1,680.4 364.8,694.9 374.5,711.1 384.2,724.0 393.9,733.7 403.6,740.2 408.5,745.0 414.9,754.7 421.4,766.1 427.9,774.1 435.9,779.9 445.6,783.2 453.7,787.7 460.2,795.1 465.0,801.6 469.9,808.1 474.7,812.3 481.2,816.8 487.7,819.4 497.3,820.7" fill="none" stroke="#000" stroke-width="2.2" stroke-linejoin="round"/>
<rect x="442.1" y="634.4" width="85.19999999999993" height="72.60000000000002" fill="#fff" stroke="#1a1a1a" stroke-width="1.6"/>
<line x1="437.90000000000003" y1="707.0" x2="442.1" y2="707.0" stroke="#1a1a1a" stroke-width="1.3"/>
<text x="431.3" y="710.8" font-size="10.8" font-weight="bold" text-anchor="end" fill="#0a0a0a" textLength="6.7" lengthAdjust="spacingAndGlyphs" >0</text>
<line x1="437.90000000000003" y1="686.1" x2="442.1" y2="686.1" stroke="#1a1a1a" stroke-width="1.3"/>
<text x="431.3" y="689.9" font-size="10.8" font-weight="bold" text-anchor="end" fill="#0a0a0a" textLength="13.4" lengthAdjust="spacingAndGlyphs" >20</text>
<line x1="437.90000000000003" y1="665.2" x2="442.1" y2="665.2" stroke="#1a1a1a" stroke-width="1.3"/>
<text x="431.3" y="669.0" font-size="10.8" font-weight="bold" text-anchor="end" fill="#0a0a0a" textLength="13.4" lengthAdjust="spacingAndGlyphs" >40</text>
<line x1="437.90000000000003" y1="644.3" x2="442.1" y2="644.3" stroke="#1a1a1a" stroke-width="1.3"/>
<text x="431.3" y="648.1" font-size="10.8" font-weight="bold" text-anchor="end" fill="#0a0a0a" textLength="13.4" lengthAdjust="spacingAndGlyphs" >60</text>
<line x1="442.1" y1="707.0" x2="442.1" y2="711.2" stroke="#1a1a1a" stroke-width="1.3"/>
<text x="441.5" y="727.2" font-size="10.8" font-weight="bold" text-anchor="middle" fill="#0a0a0a" textLength="16.8" lengthAdjust="spacingAndGlyphs" >300</text>
<line x1="466.4" y1="707.0" x2="466.4" y2="711.2" stroke="#1a1a1a" stroke-width="1.3"/>
<text x="465.8" y="727.2" font-size="10.8" font-weight="bold" text-anchor="middle" fill="#0a0a0a" textLength="16.8" lengthAdjust="spacingAndGlyphs" >500</text>
<line x1="490.7" y1="707.0" x2="490.7" y2="711.2" stroke="#1a1a1a" stroke-width="1.3"/>
<text x="490.1" y="727.2" font-size="10.8" font-weight="bold" text-anchor="middle" fill="#0a0a0a" textLength="16.8" lengthAdjust="spacingAndGlyphs" >700</text>
<line x1="515.0" y1="707.0" x2="515.0" y2="711.2" stroke="#1a1a1a" stroke-width="1.3"/>
<text x="514.4" y="727.2" font-size="10.8" font-weight="bold" text-anchor="middle" fill="#0a0a0a" textLength="16.8" lengthAdjust="spacingAndGlyphs" >900</text>
<text x="483.7" y="739.0" font-size="11.2" font-weight="bold" text-anchor="middle" fill="#0a0a0a" textLength="89.2" lengthAdjust="spacingAndGlyphs" >Wavelength (nm)</text>
<text transform="translate(412.6,669.5) rotate(-90)" font-size="10.8" font-weight="bold" text-anchor="middle" fill="#0a0a0a" textLength="54" lengthAdjust="spacingAndGlyphs">100-<tspan font-style="italic">T</tspan> (%)</text>
<polyline points="442.1,634.4 443.8,636.3 445.6,638.0 447.3,639.6 449.0,641.1 450.8,642.4 452.5,643.5 454.3,644.5 456.0,645.6 457.7,647.0 459.5,648.7 461.2,650.6 462.9,652.5 464.7,654.6 466.4,656.9 468.2,659.3 469.9,661.7 471.6,664.4 473.4,667.3 475.1,669.8 476.8,671.4 478.6,672.6 480.3,673.5 482.0,674.4 483.8,675.2 485.5,675.9 487.3,676.5 489.0,677.2 490.7,677.8 492.5,678.4 494.2,679.0 495.9,679.7 497.7,680.7 499.4,682.1 501.1,684.6 502.9,687.3 504.6,691.1 506.4,694.5 508.1,695.4 509.8,695.8 511.6,696.1 513.3,696.3 515.0,696.6 516.8,696.8 518.5,697.0 520.3,697.2 522.0,697.4 523.7,697.5 525.5,697.6 527.2,697.7" fill="none" stroke="#858585" stroke-width="1.6" stroke-dasharray="3.3 1.7"/>
</g>
<rect x="213.2" y="616.5" width="35.3" height="35.0" fill="#0b0b70"/>
<text x="232.2" y="639.6" font-size="17.6" font-weight="bold" fill="#fff200" text-anchor="middle">(e)</text>
<g id="pf">
<rect x="617.3" y="634.9" width="266.5" height="179.5" fill="none" stroke="#000" stroke-width="1.9"/>
<line x1="612.3" y1="814.4" x2="617.3" y2="814.4" stroke="#000" stroke-width="1.6"/>
<text x="605.5" y="819.5" font-size="14.6" font-weight="bold" text-anchor="end" fill="#0a0a0a" textLength="7.6" lengthAdjust="spacingAndGlyphs" >0</text>
<line x1="612.3" y1="784.5" x2="617.3" y2="784.5" stroke="#000" stroke-width="1.6"/>
<text x="605.5" y="789.6" font-size="14.6" font-weight="bold" text-anchor="end" fill="#0a0a0a" textLength="21" lengthAdjust="spacingAndGlyphs" >0.2</text>
<line x1="612.3" y1="754.6" x2="617.3" y2="754.6" stroke="#000" stroke-width="1.6"/>
<text x="605.5" y="759.7" font-size="14.6" font-weight="bold" text-anchor="end" fill="#0a0a0a" textLength="21" lengthAdjust="spacingAndGlyphs" >0.4</text>
<line x1="612.3" y1="724.6" x2="617.3" y2="724.6" stroke="#000" stroke-width="1.6"/>
<text x="605.5" y="729.8" font-size="14.6" font-weight="bold" text-anchor="end" fill="#0a0a0a" textLength="21" lengthAdjust="spacingAndGlyphs" >0.6</text>
<line x1="612.3" y1="694.7" x2="617.3" y2="694.7" stroke="#000" stroke-width="1.6"/>
<text x="605.5" y="699.8" font-size="14.6" font-weight="bold" text-anchor="end" fill="#0a0a0a" textLength="21" lengthAdjust="spacingAndGlyphs" >0.8</text>
<line x1="612.3" y1="664.8" x2="617.3" y2="664.8" stroke="#000" stroke-width="1.6"/>
<text x="605.5" y="669.9" font-size="14.6" font-weight="bold" text-anchor="end" fill="#0a0a0a" textLength="21" lengthAdjust="spacingAndGlyphs" >1.0</text>
<line x1="612.3" y1="634.9" x2="617.3" y2="634.9" stroke="#000" stroke-width="1.6"/>
<text x="605.5" y="640.0" font-size="14.6" font-weight="bold" text-anchor="end" fill="#0a0a0a" textLength="21" lengthAdjust="spacingAndGlyphs" >1.2</text>
<line x1="617.3" y1="814.4" x2="617.3" y2="819.4" stroke="#000" stroke-width="1.6"/>
<text x="617.3" y="835.4" font-size="14.4" font-weight="bold" text-anchor="middle" fill="#0a0a0a" textLength="7.6" lengthAdjust="spacingAndGlyphs" >0</text>
<line x1="683.9" y1="814.4" x2="683.9" y2="819.4" stroke="#000" stroke-width="1.6"/>
<text x="683.9" y="835.4" font-size="14.4" font-weight="bold" text-anchor="middle" fill="#0a0a0a" textLength="25" lengthAdjust="spacingAndGlyphs" >100</text>
<line x1="750.5" y1="814.4" x2="750.5" y2="819.4" stroke="#000" stroke-width="1.6"/>
<text x="750.5" y="835.4" font-size="14.4" font-weight="bold" text-anchor="middle" fill="#0a0a0a" textLength="25" lengthAdjust="spacingAndGlyphs" >200</text>
<line x1="817.2" y1="814.4" x2="817.2" y2="819.4" stroke="#000" stroke-width="1.6"/>
<text x="817.2" y="835.4" font-size="14.4" font-weight="bold" text-anchor="middle" fill="#0a0a0a" textLength="25" lengthAdjust="spacingAndGlyphs" >300</text>
<line x1="883.8" y1="814.4" x2="883.8" y2="819.4" stroke="#000" stroke-width="1.6"/>
<text x="883.8" y="835.4" font-size="14.4" font-weight="bold" text-anchor="middle" fill="#0a0a0a" textLength="25" lengthAdjust="spacingAndGlyphs" >400</text>
<text x="751.3" y="856.0" font-size="15" font-weight="bold" text-anchor="middle" fill="#0a0a0a" textLength="92.8" lengthAdjust="spacingAndGlyphs" >Time (hours)</text>
<text transform="translate(573.6,723.5) rotate(-90)" font-size="15.6" font-weight="bold" text-anchor="middle" fill="#0a0a0a" textLength="117.4" lengthAdjust="spacingAndGlyphs">Normalized PCE</text>
<polyline points="617.5,664.4 627.1,668.4 661.3,671.4 689.6,671.0 722.1,670.0 754.3,675.0 802.5,684.7 869.9,706.6" fill="none" stroke="#2b2bf0" stroke-width="1.9" stroke-dasharray="5.5 2.8"/>
<circle cx="627.1" cy="668.4" r="3.1" fill="#fff" stroke="#3a3af2" stroke-width="1.1"/>
<circle cx="661.3" cy="671.4" r="3.1" fill="#fff" stroke="#3a3af2" stroke-width="1.1"/>
<circle cx="689.6" cy="671.0" r="3.1" fill="#fff" stroke="#3a3af2" stroke-width="1.1"/>
<circle cx="722.1" cy="670.0" r="3.1" fill="#fff" stroke="#3a3af2" stroke-width="1.1"/>
<circle cx="754.3" cy="675.0" r="3.1" fill="#fff" stroke="#3a3af2" stroke-width="1.1"/>
<circle cx="802.5" cy="684.7" r="3.1" fill="#fff" stroke="#3a3af2" stroke-width="1.1"/>
<circle cx="869.9" cy="706.6" r="3.1" fill="#fff" stroke="#3a3af2" stroke-width="1.1"/>
<polyline points="617.5,664.4 630.8,656.8 643.7,658.4 657.0,658.4 696.9,663.4 711.1,662.4 738.7,661.1 791.5,676.0 837.7,681.0 871.6,685.7" fill="none" stroke="#ff1414" stroke-width="1.9"/>
<circle cx="617.5" cy="664.4" r="3.6" fill="#ff1414"/>
<circle cx="630.8" cy="656.8" r="3.6" fill="#ff1414"/>
<circle cx="643.7" cy="658.4" r="3.6" fill="#ff1414"/>
<circle cx="657.0" cy="658.4" r="3.6" fill="#ff1414"/>
<circle cx="696.9" cy="663.4" r="3.6" fill="#ff1414"/>
<circle cx="711.1" cy="662.4" r="3.6" fill="#ff1414"/>
<circle cx="738.7" cy="661.1" r="3.6" fill="#ff1414"/>
<circle cx="791.5" cy="676.0" r="3.6" fill="#ff1414"/>
<circle cx="837.7" cy="681.0" r="3.6" fill="#ff1414"/>
<circle cx="871.6" cy="685.7" r="3.6" fill="#ff1414"/>
<line x1="632.3" y1="780.2" x2="656.8" y2="780.2" stroke="#ff1414" stroke-width="1.9"/><circle cx="644.4" cy="780.2" r="3.9" fill="#ff1414"/>
<line x1="631.8" y1="801.7" x2="657.3" y2="801.7" stroke="#2b2bf0" stroke-width="2" stroke-dasharray="2 1.4"/><circle cx="644.4" cy="801.7" r="3.3" fill="#fff" stroke="#2b2bf0" stroke-width="1.8"/>
<text x="665.3" y="783.5" font-size="15.2" text-anchor="start" fill="#ff1414" textLength="50.6" lengthAdjust="spacingAndGlyphs" stroke="#ff1414" stroke-width="0.35">10%RH</text>
<text x="664.8" y="804.8" font-size="15.2" text-anchor="start" fill="#2b2bf0" textLength="76.8" lengthAdjust="spacingAndGlyphs" stroke="#2b2bf0" stroke-width="0.35">40~60%RH</text>
</g>
<rect x="543.8" y="616.6" width="35.0" height="34.8" fill="#0b0b70"/>
<text x="562.7" y="639.6" font-size="17.6" font-weight="bold" fill="#fff200" text-anchor="middle">(f)</text>
<g id="pa">
<defs><marker id="oc" markerWidth="6" markerHeight="6" refX="3" refY="3" markerUnits="userSpaceOnUse"><circle cx="3" cy="3" r="1.95" fill="none" stroke="#000" stroke-width="1.1"/></marker></defs>
<clipPath id="ca"><rect x="38.5" y="42.5" width="308.6" height="247.10000000000002"/></clipPath>
<polyline clip-path="url(#ca)" points="38.5,267.0 38.6,267.5 38.7,265.6 38.8,267.5 38.9,267.2 39.0,266.2 39.1,267.9 39.2,267.7 39.3,267.2 39.4,267.5 39.5,268.1 39.6,267.4 39.7,267.6 39.8,266.9 39.9,268.5 40.0,267.8 40.1,266.5 40.2,266.0 40.3,268.4 40.4,266.8 40.5,268.0 40.6,267.9 40.8,267.9 40.9,267.6 41.0,266.6 41.1,266.8 41.2,267.3 41.3,267.6 41.4,267.3 41.5,267.4 41.6,266.7 41.7,267.7 41.8,267.3 41.9,267.4 42.0,267.3 42.1,267.1 42.2,267.2 42.3,266.4 42.4,267.4 42.5,266.2 42.6,267.5 42.7,267.6 42.8,267.2 42.9,267.1 43.0,267.1 43.1,266.4 43.2,266.5 43.3,267.0 43.4,267.5 43.5,267.4 43.6,266.3 43.7,267.1 43.8,268.2 43.9,267.8 44.0,267.7 44.1,266.5 44.2,267.4 44.3,265.7 44.4,266.8 44.5,267.2 44.6,267.6 44.7,266.6 44.8,267.5 44.9,267.9 45.1,266.9 45.2,267.3 45.3,266.5 45.4,267.4 45.5,269.3 45.6,266.7 45.7,268.6 45.8,266.2 45.9,266.0 46.0,267.6 46.1,268.1 46.2,268.3 46.3,266.7 46.4,267.4 46.5,267.7 46.6,267.5 46.7,265.8 46.8,267.1 46.9,266.8 47.0,266.8 47.1,266.6 47.2,266.6 47.3,267.8 47.4,267.5 47.5,267.8 47.6,267.8 47.7,266.5 47.8,267.7 47.9,267.4 48.0,267.8 48.1,267.7 48.2,266.7 48.3,267.6 48.4,267.6 48.5,267.0 48.6,266.9 48.7,266.7 48.8,267.2 48.9,268.5 49.0,266.9 49.1,266.9 49.2,266.6 49.4,267.9 49.5,265.5 49.6,268.2 49.7,266.8 49.8,267.3 49.9,267.6 50.0,266.7 50.1,267.5 50.2,268.9 50.3,268.1 50.4,267.0 50.5,265.7 50.6,268.3 50.7,267.3 50.8,266.3 50.9,266.8 51.0,267.5 51.1,268.3 51.2,268.5 51.3,267.8 51.4,267.5 51.5,268.8 51.6,268.4 51.7,267.0 51.8,267.5 51.9,267.7 52.0,267.5 52.1,267.8 52.2,266.5 52.3,266.0 52.4,265.7 52.5,266.6 52.6,266.6 52.7,266.1 52.8,265.8 52.9,266.0 53.0,266.1 53.1,267.4 53.2,268.0 53.3,266.2 53.4,266.9 53.5,266.8 53.7,267.3 53.8,267.5 53.9,265.5 54.0,266.1 54.1,267.0 54.2,265.9 54.3,265.8 54.4,265.5 54.5,264.1 54.6,265.4 54.7,265.9 54.8,264.5 54.9,264.4 55.0,262.6 55.1,261.6 55.2,259.8 55.3,257.9 55.4,253.9 55.5,250.0 55.6,243.6 55.7,237.1 55.8,229.3 55.9,218.7 56.0,209.4 56.1,197.7 56.2,189.2 56.3,182.6 56.4,180.4 56.5,183.0 56.6,191.2 56.7,197.8 56.8,209.5 56.9,218.4 57.0,229.0 57.1,237.0 57.2,244.1 57.3,250.4 57.4,254.3 57.5,257.2 57.6,260.3 57.7,262.7 57.8,263.4 57.9,263.7 58.1,263.7 58.2,264.4 58.3,265.1 58.4,266.3 58.5,265.2 58.6,266.0 58.7,266.3 58.8,265.7 58.9,266.0 59.0,266.2 59.1,267.4 59.2,267.1 59.3,267.9 59.4,266.7 59.5,266.8 59.6,266.3 59.7,266.8 59.8,267.2 59.9,265.5 60.0,267.8 60.1,268.0 60.2,267.5 60.3,266.8 60.4,267.4 60.5,267.5 60.6,268.0 60.7,266.2 60.8,267.6 60.9,268.0 61.0,267.3 61.1,267.8 61.2,267.4 61.3,266.3 61.4,267.6 61.5,267.3 61.6,267.5 61.7,267.4 61.8,266.7 61.9,266.9 62.0,267.5 62.1,267.9 62.2,267.4 62.4,266.7 62.5,267.3 62.6,267.4 62.7,268.6 62.8,266.6 62.9,268.3 63.0,268.2 63.1,267.6 63.2,267.3 63.3,267.3 63.4,267.8 63.5,267.5 63.6,267.7 63.7,268.6 63.8,267.5 63.9,267.8 64.0,267.0 64.1,267.4 64.2,266.6 64.3,266.8 64.4,266.7 64.5,266.5 64.6,266.8 64.7,267.4 64.8,266.4 64.9,267.9 65.0,267.3 65.1,266.7 65.2,267.5 65.3,266.8 65.4,267.9 65.5,267.7 65.6,266.9 65.7,266.8 65.8,266.5 65.9,267.3 66.0,267.1 66.1,266.9 66.2,267.0 66.3,268.2 66.4,267.7 66.5,266.3 66.7,268.2 66.8,266.9 66.9,267.6 67.0,266.6 67.1,267.8 67.2,267.3 67.3,268.7 67.4,267.3 67.5,266.5 67.6,268.3 67.7,266.5 67.8,267.8 67.9,267.3 68.0,269.2 68.1,266.5 68.2,267.9 68.3,267.7 68.4,268.2 68.5,268.0 68.6,266.5 68.7,267.7 68.8,266.7 68.9,267.4 69.0,267.1 69.1,267.6 69.2,267.0 69.3,265.5 69.4,266.8 69.5,266.9 69.6,267.6 69.7,266.6 69.8,266.3 69.9,268.5 70.0,268.3 70.1,265.8 70.2,267.0 70.3,267.2 70.4,266.9 70.5,266.5 70.6,266.7 70.7,267.4 70.8,265.8 71.0,267.3 71.1,267.9 71.2,267.7 71.3,267.4 71.4,267.5 71.5,267.4 71.6,267.0 71.7,269.5 71.8,267.8 71.9,266.6 72.0,266.8 72.1,267.7 72.2,267.7 72.3,266.4 72.4,267.4 72.5,267.6 72.6,265.9 72.7,267.4 72.8,266.7 72.9,267.2 73.0,267.1 73.1,267.8 73.2,267.7 73.3,266.2 73.4,267.9 73.5,266.8 73.6,267.8 73.7,267.1 73.8,266.9 73.9,267.9 74.0,265.9 74.1,266.7 74.2,265.5 74.3,266.8 74.4,265.3 74.5,263.9 74.6,265.0 74.7,265.1 74.8,263.8 74.9,263.4 75.0,262.9 75.1,262.0 75.2,261.5 75.4,260.0 75.5,259.7 75.6,259.3 75.7,257.5 75.8,257.8 75.9,255.6 76.0,257.8 76.1,258.6 76.2,259.1 76.3,259.2 76.4,260.8 76.5,262.0 76.6,260.8 76.7,263.6 76.8,262.4 76.9,264.0 77.0,265.4 77.1,264.0 77.2,265.7 77.3,266.6 77.4,266.1 77.5,265.5 77.6,266.1 77.7,266.1 77.8,265.6 77.9,266.7 78.0,266.7 78.1,267.1 78.2,268.0 78.3,267.2 78.4,266.0 78.5,268.3 78.6,266.2 78.7,267.0 78.8,267.8 78.9,267.1 79.0,265.9 79.1,267.6 79.2,266.6 79.3,266.4 79.4,267.8 79.5,266.8 79.7,266.9 79.8,267.6 79.9,266.8 80.0,267.5 80.1,267.7 80.2,268.1 80.3,267.0 80.4,267.6 80.5,267.7 80.6,268.1 80.7,268.2 80.8,267.8 80.9,266.8 81.0,267.8 81.1,266.3 81.2,267.0 81.3,267.2 81.4,268.1 81.5,265.9 81.6,268.3 81.7,266.9 81.8,266.1 81.9,267.4 82.0,267.8 82.1,267.3 82.2,266.6 82.3,266.3 82.4,266.9 82.5,268.0 82.6,267.8 82.7,267.1 82.8,268.2 82.9,267.5 83.0,265.7 83.1,268.0 83.2,266.5 83.3,267.9 83.4,267.5 83.5,267.3 83.6,268.3 83.7,267.4 83.8,266.4 84.0,266.8 84.1,266.8 84.2,267.8 84.3,267.4 84.4,267.1 84.5,266.8 84.6,266.3 84.7,268.0 84.8,266.1 84.9,267.5 85.0,267.4 85.1,268.1 85.2,267.3 85.3,267.4 85.4,268.1 85.5,267.4 85.6,267.1 85.7,267.5 85.8,266.6 85.9,267.9 86.0,266.5 86.1,267.3 86.2,266.8 86.3,268.4 86.4,267.0 86.5,267.1 86.6,266.3 86.7,267.8 86.8,266.0 86.9,267.6 87.0,265.9 87.1,266.4 87.2,267.2 87.3,265.1 87.4,267.4 87.5,266.6 87.6,266.3 87.7,265.9 87.8,266.0 87.9,265.5 88.0,265.6 88.1,265.7 88.3,266.2 88.4,265.6 88.5,264.5 88.6,265.7 88.7,264.5 88.8,265.7 88.9,264.3 89.0,264.4 89.1,261.8 89.2,263.2 89.3,261.0 89.4,258.8 89.5,256.9 89.6,254.0 89.7,249.9 89.8,245.0 89.9,237.8 90.0,229.2 90.1,217.7 90.2,204.9 90.3,187.1 90.4,167.8 90.5,149.1 90.6,128.8 90.7,108.6 90.8,92.4 90.9,83.5 91.0,85.3 91.1,92.7 91.2,109.0 91.3,127.6 91.4,149.8 91.5,167.6 91.6,187.0 91.7,203.0 91.8,217.2 91.9,229.1 92.0,237.1 92.1,244.7 92.2,249.9 92.3,252.7 92.4,255.7 92.5,257.9 92.7,257.8 92.8,259.5 92.9,259.2 93.0,258.4 93.1,257.7 93.2,256.4 93.3,254.6 93.4,253.7 93.5,251.6 93.6,246.7 93.7,243.1 93.8,239.9 93.9,234.3 94.0,229.8 94.1,225.1 94.2,218.0 94.3,213.7 94.4,210.2 94.5,207.1 94.6,207.3 94.7,210.9 94.8,214.9 94.9,220.3 95.0,224.4 95.1,230.1 95.2,234.9 95.3,240.1 95.4,244.9 95.5,248.5 95.6,252.3 95.7,252.6 95.8,255.3 95.9,255.1 96.0,255.8 96.1,254.3 96.2,252.1 96.3,250.4 96.4,247.9 96.5,242.6 96.6,241.5 96.7,238.9 96.8,238.7 97.0,240.2 97.1,241.2 97.2,245.1 97.3,248.7 97.4,253.9 97.5,255.3 97.6,257.6 97.7,260.1 97.8,262.2 97.9,262.5 98.0,264.1 98.1,264.6 98.2,264.7 98.3,265.1 98.4,267.0 98.5,266.0 98.6,266.9 98.7,267.8 98.8,266.3 98.9,267.8 99.0,266.9 99.1,268.4 99.2,267.4 99.3,267.0 99.4,266.7 99.5,267.1 99.6,267.3 99.7,267.3 99.8,265.6 99.9,267.0 100.0,266.7 100.1,265.2 100.2,267.7 100.3,267.9 100.4,267.1 100.5,266.6 100.6,267.0 100.7,266.1 100.8,266.0 100.9,266.9 101.0,265.6 101.1,266.5 101.3,264.8 101.4,264.9 101.5,263.2 101.6,263.8 101.7,264.0 101.8,263.0 101.9,262.2 102.0,261.7 102.1,260.5 102.2,256.4 102.3,253.0 102.4,250.1 102.5,244.4 102.6,237.4 102.7,227.4 102.8,216.7 102.9,205.9 103.0,191.9 103.1,177.8 103.2,163.2 103.3,150.4 103.4,141.4 103.5,139.2 103.6,142.9 103.7,150.6 103.8,162.9 103.9,177.6 104.0,191.6 104.1,205.0 104.2,216.9 104.3,228.1 104.4,236.7 104.5,244.1 104.6,250.5 104.7,253.6 104.8,257.1 104.9,258.8 105.0,262.0 105.1,262.8 105.2,263.0 105.3,265.1 105.4,264.5 105.6,265.1 105.7,265.3 105.8,265.5 105.9,267.1 106.0,265.7 106.1,265.9 106.2,265.3 106.3,265.2 106.4,266.1 106.5,265.8 106.6,268.2 106.7,266.2 106.8,265.9 106.9,266.1 107.0,266.6 107.1,267.1 107.2,267.1 107.3,266.9 107.4,266.7 107.5,266.6 107.6,267.1 107.7,267.9 107.8,265.8 107.9,267.7 108.0,269.0 108.1,266.1 108.2,266.4 108.3,267.0 108.4,266.5 108.5,266.9 108.6,267.8 108.7,267.1 108.8,268.1 108.9,267.7 109.0,267.8 109.1,267.1 109.2,266.5 109.3,267.7 109.4,266.9 109.5,268.8 109.6,268.0 109.7,266.9 109.8,266.6 110.0,266.6 110.1,266.5 110.2,268.4 110.3,267.6 110.4,269.1 110.5,267.4 110.6,267.1 110.7,267.5 110.8,267.9 110.9,267.0 111.0,266.9 111.1,267.2 111.2,267.7 111.3,267.3 111.4,267.2 111.5,267.1 111.6,266.8 111.7,267.3 111.8,268.3 111.9,267.5 112.0,267.0 112.1,267.6 112.2,267.1 112.3,267.8 112.4,266.3 112.5,267.0 112.6,267.2 112.7,266.7 112.8,266.7 112.9,267.2 113.0,266.6 113.1,266.8 113.2,267.1 113.3,267.2 113.4,268.0 113.5,267.1 113.6,267.1 113.7,267.8 113.8,266.3 113.9,267.2 114.0,267.9 114.1,267.5 114.3,267.2 114.4,267.2 114.5,267.7 114.6,267.1 114.7,268.1 114.8,267.3 114.9,266.7 115.0,267.4 115.1,266.4 115.2,266.2 115.3,267.0 115.4,268.1 115.5,265.6 115.6,265.0 115.7,266.7 115.8,265.1 115.9,264.6 116.0,265.5 116.1,264.2 116.2,262.5 116.3,262.6 116.4,262.2 116.5,260.9 116.6,261.8 116.7,262.3 116.8,260.0 116.9,261.6 117.0,261.4 117.1,260.9 117.2,262.0 117.3,262.7 117.4,263.7 117.5,263.4 117.6,262.8 117.7,265.2 117.8,266.0 117.9,265.4 118.0,266.4 118.1,266.1 118.2,266.4 118.3,266.2 118.4,266.5 118.6,266.6 118.7,266.0 118.8,267.6 118.9,267.0 119.0,266.8 119.1,267.9 119.2,267.8 119.3,267.3 119.4,267.5 119.5,266.4 119.6,267.1 119.7,265.1 119.8,267.4 119.9,267.4 120.0,265.6 120.1,267.6 120.2,265.7 120.3,269.4 120.4,267.7 120.5,266.2 120.6,266.1 120.7,266.9 120.8,267.7 120.9,267.3 121.0,266.7 121.1,267.0 121.2,266.6 121.3,267.7 121.4,266.6 121.5,266.3 121.6,265.1 121.7,266.7 121.8,266.7 121.9,267.8 122.0,268.1 122.1,268.8 122.2,266.9 122.3,265.8 122.4,267.3 122.5,268.9 122.6,267.1 122.7,267.3 122.9,267.4 123.0,265.9 123.1,266.3 123.2,266.1 123.3,267.7 123.4,266.9 123.5,267.9 123.6,266.3 123.7,267.9 123.8,266.2 123.9,266.9 124.0,266.9 124.1,268.0 124.2,266.5 124.3,268.2 124.4,267.8 124.5,267.5 124.6,265.4 124.7,266.7 124.8,267.2 124.9,266.3 125.0,264.9 125.1,266.6 125.2,267.1 125.3,267.0 125.4,266.0 125.5,264.5 125.6,265.4 125.7,264.8 125.8,264.6 125.9,263.6 126.0,260.6 126.1,259.3 126.2,256.9 126.3,255.5 126.4,251.0 126.5,247.7 126.6,243.2 126.7,239.9 126.8,237.7 126.9,235.0 127.0,234.2 127.1,235.3 127.3,238.1 127.4,240.0 127.5,242.7 127.6,248.0 127.7,250.2 127.8,254.7 127.9,257.4 128.0,259.5 128.1,261.5 128.2,262.0 128.3,263.0 128.4,266.4 128.5,264.6 128.6,265.3 128.7,264.7 128.8,266.7 128.9,266.2 129.0,265.5 129.1,265.8 129.2,265.4 129.3,267.1 129.4,267.1 129.5,266.2 129.6,267.6 129.7,266.3 129.8,265.9 129.9,266.2 130.0,267.3 130.1,266.6 130.2,266.3 130.3,265.5 130.4,265.3 130.5,265.3 130.6,265.7 130.7,265.2 130.8,263.9 130.9,263.1 131.0,262.0 131.1,261.4 131.2,259.8 131.3,259.3 131.4,258.0 131.6,257.6 131.7,257.0 131.8,258.3 131.9,258.8 132.0,259.7 132.1,259.7 132.2,260.2 132.3,260.8 132.4,262.4 132.5,263.4 132.6,263.5 132.7,264.7 132.8,265.9 132.9,265.1 133.0,266.2 133.1,267.3 133.2,266.6 133.3,267.2 133.4,266.8 133.5,267.3 133.6,267.1 133.7,267.4 133.8,267.1 133.9,266.6 134.0,266.9 134.1,267.0 134.2,266.3 134.3,268.0 134.4,267.0 134.5,266.3 134.6,266.7 134.7,266.3 134.8,267.7 134.9,266.3 135.0,267.5 135.1,266.2 135.2,266.8 135.3,266.4 135.4,267.5 135.5,267.1 135.6,268.2 135.7,266.6 135.9,266.3 136.0,266.5 136.1,265.9 136.2,266.3 136.3,266.5 136.4,266.1 136.5,266.8 136.6,265.7 136.7,266.0 136.8,265.8 136.9,266.0 137.0,266.1 137.1,266.1 137.2,265.2 137.3,264.0 137.4,265.0 137.5,262.6 137.6,258.8 137.7,259.2 137.8,257.0 137.9,253.4 138.0,249.9 138.1,245.0 138.2,239.5 138.3,234.3 138.4,226.4 138.5,220.8 138.6,214.7 138.7,211.5 138.8,209.4 138.9,211.5 139.0,213.3 139.1,220.0 139.2,226.1 139.3,233.3 139.4,240.3 139.5,244.8 139.6,248.8 139.7,252.9 139.8,256.4 139.9,258.8 140.0,260.7 140.2,261.2 140.3,261.0 140.4,261.1 140.5,260.9 140.6,260.9 140.7,259.8 140.8,258.8 140.9,257.2 141.0,255.7 141.1,253.8 141.2,252.6 141.3,250.9 141.4,248.3 141.5,247.3 141.6,249.0 141.7,247.3 141.8,248.1 141.9,249.0 142.0,252.7 142.1,254.2 142.2,255.2 142.3,256.7 142.4,259.2 142.5,259.2 142.6,260.6 142.7,262.0 142.8,262.9 142.9,265.0 143.0,265.0 143.1,267.0 143.2,265.1 143.3,265.2 143.4,266.0 143.5,267.1 143.6,266.5 143.7,266.0 143.8,267.5 143.9,266.6 144.0,266.3 144.1,267.4 144.2,267.2 144.3,266.1 144.4,266.4 144.6,265.9 144.7,266.7 144.8,267.6 144.9,266.9 145.0,267.3 145.1,267.1 145.2,266.5 145.3,265.8 145.4,266.7 145.5,265.4 145.6,267.6 145.7,266.7 145.8,266.4 145.9,267.7 146.0,267.1 146.1,265.9 146.2,265.2 146.3,264.5 146.4,264.1 146.5,263.6 146.6,263.4 146.7,261.4 146.8,259.1 146.9,258.7 147.0,258.1 147.1,256.2 147.2,254.7 147.3,253.1 147.4,253.6 147.5,252.6 147.6,252.8 147.7,254.1 147.8,255.1 147.9,256.6 148.0,257.6 148.1,258.8 148.2,261.1 148.3,261.5 148.4,261.4 148.5,263.4 148.6,265.5 148.7,263.8 148.9,265.5 149.0,265.6 149.1,265.7 149.2,266.5 149.3,267.2 149.4,267.1 149.5,266.5 149.6,266.8 149.7,267.0 149.8,265.4 149.9,266.7 150.0,266.2 150.1,265.5 150.2,266.8 150.3,267.2 150.4,267.1 150.5,266.9 150.6,265.7 150.7,266.2 150.8,267.1 150.9,267.3 151.0,266.4 151.1,265.6 151.2,267.3 151.3,265.7 151.4,266.6 151.5,266.7 151.6,266.9 151.7,267.1 151.8,266.9 151.9,265.7 152.0,267.4 152.1,266.7 152.2,266.3 152.3,267.0 152.4,266.4 152.5,266.9 152.6,265.4 152.7,265.2 152.8,266.4 152.9,264.3 153.0,265.7 153.2,266.0 153.3,265.5 153.4,263.5 153.5,264.8 153.6,262.4 153.7,260.9 153.8,258.8 153.9,257.4 154.0,253.2 154.1,250.0 154.2,243.5 154.3,237.6 154.4,227.9 154.5,217.7 154.6,205.0 154.7,190.1 154.8,177.3 154.9,163.2 155.0,150.7 155.1,141.8 155.2,140.4 155.3,141.5 155.4,151.7 155.5,164.5 155.6,177.1 155.7,192.3 155.8,204.9 155.9,216.5 156.0,227.9 156.1,237.4 156.2,243.8 156.3,248.0 156.4,253.6 156.5,255.5 156.6,258.0 156.7,261.5 156.8,261.1 156.9,263.5 157.0,262.7 157.1,263.1 157.2,263.9 157.3,265.0 157.5,264.2 157.6,264.1 157.7,263.3 157.8,263.3 157.9,262.4 158.0,262.2 158.1,262.1 158.2,259.7 158.3,257.1 158.4,256.8 158.5,254.6 158.6,252.8 158.7,247.4 158.8,246.5 158.9,242.1 159.0,240.0 159.1,237.9 159.2,236.2 159.3,234.4 159.4,235.1 159.5,237.5 159.6,240.5 159.7,242.0 159.8,245.5 159.9,248.9 160.0,251.4 160.1,254.9 160.2,256.2 160.3,258.9 160.4,260.5 160.5,262.6 160.6,262.8 160.7,263.4 160.8,265.4 160.9,264.7 161.0,265.0 161.1,264.6 161.2,264.9 161.3,266.3 161.4,265.0 161.5,265.5 161.6,265.9 161.7,266.1 161.9,264.5 162.0,264.1 162.1,264.2 162.2,262.8 162.3,262.1 162.4,261.0 162.5,259.6 162.6,257.0 162.7,255.8 162.8,254.8 162.9,254.5 163.0,255.0 163.1,255.4 163.2,258.6 163.3,258.5 163.4,261.3 163.5,262.1 163.6,263.0 163.7,264.0 163.8,264.4 163.9,265.9 164.0,264.5 164.1,265.2 164.2,265.7 164.3,265.7 164.4,266.5 164.5,267.4 164.6,267.2 164.7,265.8 164.8,267.8 164.9,264.8 165.0,265.4 165.1,266.1 165.2,265.5 165.3,265.8 165.4,264.2 165.5,263.0 165.6,261.4 165.7,261.7 165.8,258.2 165.9,256.6 166.0,254.1 166.2,250.8 166.3,246.9 166.4,241.9 166.5,237.8 166.6,233.9 166.7,230.8 166.8,226.9 166.9,223.7 167.0,223.1 167.1,224.8 167.2,225.4 167.3,228.6 167.4,234.0 167.5,239.0 167.6,243.1 167.7,247.8 167.8,251.5 167.9,253.6 168.0,256.7 168.1,258.1 168.2,258.5 168.3,261.6 168.4,262.9 168.5,263.5 168.6,263.8 168.7,263.4 168.8,264.4 168.9,263.8 169.0,264.8 169.1,264.1 169.2,262.8 169.3,260.9 169.4,260.8 169.5,257.6 169.6,257.3 169.7,254.6 169.8,253.0 169.9,250.6 170.0,251.9 170.1,252.4 170.2,253.2 170.3,254.3 170.5,256.3 170.6,259.4 170.7,260.8 170.8,262.6 170.9,261.6 171.0,263.4 171.1,263.8 171.2,266.1 171.3,264.7 171.4,265.0 171.5,264.0 171.6,265.4 171.7,262.8 171.8,262.5 171.9,261.5 172.0,261.4 172.1,257.5 172.2,256.6 172.3,254.1 172.4,251.5 172.5,248.6 172.6,245.0 172.7,241.7 172.8,237.8 172.9,235.5 173.0,234.5 173.1,233.2 173.2,233.3 173.3,236.3 173.4,238.7 173.5,241.1 173.6,244.9 173.7,248.9 173.8,251.3 173.9,253.8 174.0,256.5 174.1,258.9 174.2,259.5 174.3,263.2 174.4,263.1 174.5,263.7 174.6,265.4 174.8,265.8 174.9,266.1 175.0,265.8 175.1,266.2 175.2,265.9 175.3,265.5 175.4,266.9 175.5,266.5 175.6,266.4 175.7,268.1 175.8,266.9 175.9,268.0 176.0,267.4 176.1,267.6 176.2,266.2 176.3,267.4 176.4,267.5 176.5,266.6 176.6,267.2 176.7,268.1 176.8,266.4 176.9,266.5 177.0,267.4 177.1,268.3 177.2,267.7 177.3,267.9 177.4,266.1 177.5,267.7 177.6,266.7 177.7,266.4 177.8,267.0 177.9,267.0 178.0,266.4 178.1,266.7 178.2,268.3 178.3,266.6 178.4,268.8 178.5,267.8 178.6,266.7 178.7,268.6 178.8,266.6 178.9,265.8 179.0,267.5 179.2,268.6 179.3,266.2 179.4,268.0 179.5,268.2 179.6,268.1 179.7,267.7 179.8,267.8 179.9,266.0 180.0,268.0 180.1,268.5 180.2,268.5 180.3,267.7 180.4,266.2 180.5,268.4 180.6,267.5 180.7,266.9 180.8,267.6 180.9,267.6 181.0,267.7 181.1,267.1 181.2,267.9 181.3,266.4 181.4,268.6 181.5,266.7 181.6,266.6 181.7,267.3 181.8,267.6 181.9,266.5 182.0,268.0 182.1,267.5 182.2,268.0 182.3,267.2 182.4,268.0 182.5,267.8 182.6,266.9 182.7,267.4 182.8,267.2 182.9,266.2 183.0,268.7 183.1,267.8 183.2,267.3 183.3,266.4 183.5,268.1 183.6,267.4 183.7,267.0 183.8,268.1 183.9,267.7 184.0,267.3 184.1,267.7 184.2,266.9 184.3,266.7 184.4,267.6 184.5,266.9 184.6,267.0 184.7,267.3 184.8,267.8 184.9,266.2 185.0,268.1 185.1,267.1 185.2,266.7 185.3,269.1 185.4,267.8 185.5,268.6 185.6,267.4 185.7,266.9 185.8,267.8 185.9,267.2 186.0,266.8 186.1,267.8 186.2,267.5 186.3,268.0 186.4,266.9 186.5,267.5 186.6,266.2 186.7,266.4 186.8,268.2 186.9,267.1 187.0,267.1 187.1,267.1 187.2,266.9 187.3,267.3 187.4,266.5 187.5,266.6 187.6,266.8 187.8,267.4 187.9,266.1 188.0,267.8 188.1,266.0 188.2,266.1 188.3,267.0 188.4,265.8 188.5,264.3 188.6,265.6 188.7,265.7 188.8,264.8 188.9,264.2 189.0,263.0 189.1,264.0 189.2,262.8 189.3,263.1 189.4,262.2 189.5,262.7 189.6,263.8 189.7,262.7 189.8,262.7 189.9,264.0 190.0,265.7 190.1,265.2 190.2,264.9 190.3,264.8 190.4,266.0 190.5,265.2 190.6,266.5 190.7,267.3 190.8,266.2 190.9,267.2 191.0,265.9 191.1,266.1 191.2,267.2 191.3,267.5 191.4,266.9 191.5,266.3 191.6,267.0 191.7,267.2 191.8,266.4 191.9,266.7 192.0,267.7 192.2,267.7 192.3,268.7 192.4,267.4 192.5,267.5 192.6,266.9 192.7,267.7 192.8,267.5 192.9,267.5 193.0,267.6 193.1,267.5 193.2,267.7 193.3,266.4 193.4,267.4 193.5,267.0 193.6,267.0 193.7,268.0 193.8,268.6 193.9,268.0 194.0,267.5 194.1,267.2 194.2,268.2 194.3,266.8 194.4,267.5 194.5,266.7 194.6,267.9 194.7,269.2 194.8,266.8 194.9,266.9 195.0,265.6 195.1,267.1 195.2,266.9 195.3,265.9 195.4,269.0 195.5,268.1 195.6,268.4 195.7,266.8 195.8,267.2 195.9,266.6 196.0,268.0 196.1,267.4 196.2,266.9 196.3,267.0 196.5,267.0 196.6,266.0 196.7,267.1 196.8,266.9 196.9,266.8 197.0,265.9 197.1,266.9 197.2,266.7 197.3,266.4 197.4,266.5 197.5,265.1 197.6,264.8 197.7,265.1 197.8,263.0 197.9,261.3 198.0,258.6 198.1,257.8 198.2,254.3 198.3,252.2 198.4,248.1 198.5,246.1 198.6,242.2 198.7,237.1 198.8,232.9 198.9,228.6 199.0,224.9 199.1,223.8 199.2,222.0 199.3,223.3 199.4,223.9 199.5,228.7 199.6,233.0 199.7,235.7 199.8,242.3 199.9,244.1 200.0,248.7 200.1,252.6 200.2,255.5 200.3,257.6 200.4,259.4 200.5,261.8 200.6,262.3 200.8,263.0 200.9,264.3 201.0,263.8 201.1,265.9 201.2,265.5 201.3,265.2 201.4,265.7 201.5,265.2 201.6,265.6 201.7,267.2 201.8,265.5 201.9,266.9 202.0,265.8 202.1,266.6 202.2,265.9 202.3,268.4 202.4,266.2 202.5,266.8 202.6,265.6 202.7,265.6 202.8,265.7 202.9,266.7 203.0,266.5 203.1,267.0 203.2,266.3 203.3,266.1 203.4,265.6 203.5,264.7 203.6,266.1 203.7,265.0 203.8,264.4 203.9,264.6 204.0,265.2 204.1,263.9 204.2,263.6 204.3,263.6 204.4,262.2 204.5,262.3 204.6,261.9 204.7,261.4 204.8,261.5 204.9,261.2 205.1,261.3 205.2,261.9 205.3,262.1 205.4,262.3 205.5,263.5 205.6,263.0 205.7,263.2 205.8,264.6 205.9,263.9 206.0,264.8 206.1,265.2 206.2,264.5 206.3,266.9 206.4,265.6 206.5,266.8 206.6,266.3 206.7,268.1 206.8,266.0 206.9,265.8 207.0,267.4 207.1,265.5 207.2,267.0 207.3,266.6 207.4,267.2 207.5,266.0 207.6,266.5 207.7,266.1 207.8,265.8 207.9,266.3 208.0,264.9 208.1,265.2 208.2,263.8 208.3,264.4 208.4,263.7 208.5,263.5 208.6,262.7 208.7,262.3 208.8,263.1 208.9,263.8 209.0,263.2 209.1,263.6 209.2,263.1 209.3,264.0 209.5,263.9 209.6,264.3 209.7,264.6 209.8,265.8 209.9,264.7 210.0,266.0 210.1,267.1 210.2,266.7 210.3,266.7 210.4,266.9 210.5,266.5 210.6,267.2 210.7,266.8 210.8,266.4 210.9,267.7 211.0,267.6 211.1,266.2 211.2,266.9 211.3,266.6 211.4,267.4 211.5,267.3 211.6,267.4 211.7,267.8 211.8,266.5 211.9,268.1 212.0,267.8 212.1,268.1 212.2,266.1 212.3,267.9 212.4,266.5 212.5,268.3 212.6,265.9 212.7,265.6 212.8,267.4 212.9,266.3 213.0,268.2 213.1,267.6 213.2,266.4 213.3,267.3 213.4,267.7 213.5,267.3 213.6,267.7 213.8,267.8 213.9,266.7 214.0,268.6 214.1,267.7 214.2,267.3 214.3,266.7 214.4,267.2 214.5,267.6 214.6,268.9 214.7,265.3 214.8,267.8 214.9,266.8 215.0,268.2 215.1,266.7 215.2,268.3 215.3,267.7 215.4,267.2 215.5,268.1 215.6,266.7 215.7,267.2 215.8,266.4 215.9,266.6 216.0,267.5 216.1,268.0 216.2,267.4 216.3,266.4 216.4,268.3 216.5,266.4 216.6,268.2 216.7,266.7 216.8,266.7 216.9,267.7 217.0,268.0 217.1,267.0 217.2,266.6 217.3,267.8 217.4,266.6 217.5,266.6 217.6,267.6 217.7,268.0 217.8,266.6 217.9,266.7 218.1,267.3 218.2,266.7 218.3,264.4 218.4,265.1 218.5,264.8 218.6,265.3 218.7,264.2 218.8,262.9 218.9,263.6 219.0,262.6 219.1,261.5 219.2,260.7 219.3,258.9 219.4,258.7 219.5,256.8 219.6,255.6 219.7,254.4 219.8,253.3 219.9,253.4 220.0,252.6 220.1,252.4 220.2,250.9 220.3,250.8 220.4,251.3 220.5,251.4 220.6,253.6 220.7,253.8 220.8,255.6 220.9,256.3 221.0,258.6 221.1,259.2 221.2,260.8 221.3,262.0 221.4,263.6 221.5,262.2 221.6,263.3 221.7,262.1 221.8,264.6 221.9,264.8 222.0,266.1 222.1,264.9 222.2,266.4 222.4,264.6 222.5,264.5 222.6,267.7 222.7,267.0 222.8,267.4 222.9,267.2 223.0,267.5 223.1,266.4 223.2,265.8 223.3,266.6 223.4,265.7 223.5,266.4 223.6,265.9 223.7,265.6 223.8,267.2 223.9,265.5 224.0,267.2 224.1,267.2 224.2,265.9 224.3,267.1 224.4,267.1 224.5,265.7 224.6,266.3 224.7,266.3 224.8,266.2 224.9,266.1 225.0,265.0 225.1,264.9 225.2,264.8 225.3,262.3 225.4,262.8 225.5,263.5 225.6,261.6 225.7,261.5 225.8,260.6 225.9,257.9 226.0,257.4 226.1,257.1 226.2,255.5 226.3,256.3 226.4,253.9 226.5,253.1 226.6,253.5 226.8,253.8 226.9,252.1 227.0,252.4 227.1,253.1 227.2,253.6 227.3,254.4 227.4,254.7 227.5,255.3 227.6,257.6 227.7,257.4 227.8,259.6 227.9,260.7 228.0,261.3 228.1,261.5 228.2,262.3 228.3,263.3 228.4,264.6 228.5,263.7 228.6,265.1 228.7,265.3 228.8,266.1 228.9,264.6 229.0,266.3 229.1,267.2 229.2,265.8 229.3,266.5 229.4,266.0 229.5,266.1 229.6,268.0 229.7,267.0 229.8,265.2 229.9,266.5 230.0,266.6 230.1,266.2 230.2,266.1 230.3,267.0 230.4,266.4 230.5,266.5 230.6,266.9 230.7,267.0 230.8,266.5 230.9,266.8 231.1,267.7 231.2,268.0 231.3,267.1 231.4,267.1 231.5,266.1 231.6,267.1 231.7,267.1 231.8,267.4 231.9,266.9 232.0,266.8 232.1,266.3 232.2,267.4 232.3,266.7 232.4,266.4 232.5,268.3 232.6,266.9 232.7,267.7 232.8,267.4 232.9,267.2 233.0,267.3 233.1,267.6 233.2,266.9 233.3,266.6 233.4,267.2 233.5,267.7 233.6,267.3 233.7,265.8 233.8,266.5 233.9,267.2 234.0,267.6 234.1,266.6 234.2,266.6 234.3,265.2 234.4,267.7 234.5,266.3 234.6,265.8 234.7,265.6 234.8,267.3 234.9,265.8 235.0,265.9 235.1,265.5 235.2,265.2 235.4,265.7 235.5,264.5 235.6,265.1 235.7,265.0 235.8,263.8 235.9,262.6 236.0,260.8 236.1,261.4 236.2,259.2 236.3,259.8 236.4,258.5 236.5,257.8 236.6,255.5 236.7,254.1 236.8,252.1 236.9,251.5 237.0,249.7 237.1,249.3 237.2,247.3 237.3,244.9 237.4,245.9 237.5,244.6 237.6,243.8 237.7,244.2 237.8,245.3 237.9,246.4 238.0,247.9 238.1,247.4 238.2,250.8 238.3,251.4 238.4,253.4 238.5,254.4 238.6,256.2 238.7,256.7 238.8,257.2 238.9,259.3 239.0,259.9 239.1,260.6 239.2,261.7 239.3,260.8 239.4,263.2 239.5,263.3 239.7,262.5 239.8,263.1 239.9,263.4 240.0,262.3 240.1,264.5 240.2,262.4 240.3,261.4 240.4,262.7 240.5,259.3 240.6,260.5 240.7,259.9 240.8,259.3 240.9,259.1 241.0,257.3 241.1,259.5 241.2,259.2 241.3,258.3 241.4,258.6 241.5,260.2 241.6,259.2 241.7,261.4 241.8,261.7 241.9,262.3 242.0,262.5 242.1,263.3 242.2,263.5 242.3,263.7 242.4,264.1 242.5,265.7 242.6,265.8 242.7,264.7 242.8,265.5 242.9,265.7 243.0,267.2 243.1,268.9 243.2,266.3 243.3,265.1 243.4,268.2 243.5,266.6 243.6,266.8 243.7,268.4 243.8,266.1 243.9,266.8 244.1,267.5 244.2,266.6 244.3,267.2 244.4,266.3 244.5,265.8 244.6,267.2 244.7,266.6 244.8,265.8 244.9,267.9 245.0,267.0 245.1,267.7 245.2,266.4 245.3,267.7 245.4,266.7 245.5,267.2 245.6,266.6 245.7,267.0 245.8,268.1 245.9,267.7 246.0,265.5 246.1,265.3 246.2,266.2 246.3,265.5 246.4,266.3 246.5,265.9 246.6,266.1 246.7,264.9 246.8,263.2 246.9,265.0 247.0,263.3 247.1,263.3 247.2,263.1 247.3,264.7 247.4,264.4 247.5,262.9 247.6,265.1 247.7,264.2 247.8,264.7 247.9,264.8 248.0,264.4 248.1,265.6 248.2,264.8 248.4,265.2 248.5,267.2 248.6,266.2 248.7,266.7 248.8,266.5 248.9,267.2 249.0,266.9 249.1,265.9 249.2,266.9 249.3,267.8 249.4,267.0 249.5,266.7 249.6,268.2 249.7,267.5 249.8,267.5 249.9,266.7 250.0,267.4 250.1,267.4 250.2,266.9 250.3,266.8 250.4,267.5 250.5,265.8 250.6,266.9 250.7,266.6 250.8,267.4 250.9,267.5 251.0,268.0 251.1,268.8 251.2,266.4 251.3,267.3 251.4,268.0 251.5,267.5 251.6,266.7 251.7,267.2 251.8,266.5 251.9,268.3 252.0,267.3 252.1,267.4 252.2,266.3 252.3,266.9 252.4,266.8 252.5,266.4 252.7,266.8 252.8,268.3 252.9,266.3 253.0,266.8 253.1,267.3 253.2,267.0 253.3,266.1 253.4,266.7 253.5,267.3 253.6,266.8 253.7,267.8 253.8,266.9 253.9,267.3 254.0,267.0 254.1,268.5 254.2,268.3 254.3,265.3 254.4,267.4 254.5,267.3 254.6,266.8 254.7,267.4 254.8,267.0 254.9,268.4 255.0,267.2 255.1,267.2 255.2,268.5 255.3,268.2 255.4,266.5 255.5,267.8 255.6,267.7 255.7,266.8 255.8,267.4 255.9,268.6 256.0,267.3 256.1,267.2 256.2,267.2 256.3,266.1 256.4,266.6 256.5,267.3 256.6,264.9 256.7,266.6 256.8,267.5 257.0,266.6 257.1,267.0 257.2,266.5 257.3,265.7 257.4,266.1 257.5,264.3 257.6,264.6 257.7,264.8 257.8,264.4 257.9,263.8 258.0,263.4 258.1,263.6 258.2,262.2 258.3,263.7 258.4,262.1 258.5,261.8 258.6,261.8 258.7,261.4 258.8,262.8 258.9,261.9 259.0,264.1 259.1,263.7 259.2,264.3 259.3,263.3 259.4,265.7 259.5,263.8 259.6,264.8 259.7,265.5 259.8,266.4 259.9,265.9 260.0,264.3 260.1,267.7 260.2,266.7 260.3,266.1 260.4,266.3 260.5,266.5 260.6,267.1 260.7,266.9 260.8,267.7 260.9,266.3 261.0,267.5 261.1,267.5 261.2,266.6 261.4,267.3 261.5,266.5 261.6,267.6 261.7,267.7 261.8,267.5 261.9,267.5 262.0,267.5 262.1,267.0 262.2,267.0 262.3,267.3 262.4,266.8 262.5,266.9 262.6,266.6 262.7,267.4 262.8,267.5 262.9,267.2 263.0,265.9 263.1,266.1 263.2,267.0 263.3,267.7 263.4,266.7 263.5,266.1 263.6,265.9 263.7,266.7 263.8,267.9 263.9,267.8 264.0,267.5 264.1,266.3 264.2,267.4 264.3,266.7 264.4,268.1 264.5,266.4 264.6,266.6 264.7,267.5 264.8,267.1 264.9,267.2 265.0,266.7 265.1,267.0 265.2,267.3 265.3,266.8 265.4,266.9 265.5,266.1 265.7,266.4 265.8,266.5 265.9,266.3 266.0,265.8 266.1,265.2 266.2,264.9 266.3,265.2 266.4,264.3 266.5,263.5 266.6,262.4 266.7,261.5 266.8,261.6 266.9,260.2 267.0,259.2 267.1,259.3 267.2,257.6 267.3,259.4 267.4,257.5 267.5,257.4 267.6,257.1 267.7,257.2 267.8,257.1 267.9,256.4 268.0,257.3 268.1,257.2 268.2,258.3 268.3,256.7 268.4,258.8 268.5,260.3 268.6,261.4 268.7,262.7 268.8,262.3 268.9,261.7 269.0,263.2 269.1,263.7 269.2,263.1 269.3,264.4 269.4,264.5 269.5,265.1 269.6,264.7 269.7,265.3 269.8,266.0 270.0,266.0 270.1,264.9 270.2,265.2 270.3,265.1 270.4,264.3 270.5,265.7 270.6,264.4 270.7,266.0 270.8,264.2 270.9,264.3 271.0,263.6 271.1,263.4 271.2,261.2 271.3,261.9 271.4,260.7 271.5,261.3 271.6,260.3 271.7,260.3 271.8,260.4 271.9,259.9 272.0,259.4 272.1,259.0 272.2,260.4 272.3,261.8 272.4,260.6 272.5,262.3 272.6,262.1 272.7,263.8 272.8,263.5 272.9,263.8 273.0,264.4 273.1,264.1 273.2,265.7 273.3,264.5 273.4,266.5 273.5,264.6 273.6,265.0 273.7,265.4 273.8,266.9 273.9,265.3 274.0,266.0 274.1,265.8 274.3,265.2 274.4,263.7 274.5,264.8 274.6,265.4 274.7,264.7 274.8,263.2 274.9,263.6 275.0,262.9 275.1,261.0 275.2,262.0 275.3,261.8 275.4,262.3 275.5,262.3 275.6,262.2 275.7,261.5 275.8,260.8 275.9,262.8 276.0,262.6 276.1,262.8 276.2,264.6 276.3,264.3 276.4,265.1 276.5,264.7 276.6,265.7 276.7,266.0 276.8,267.1 276.9,266.0 277.0,266.0 277.1,265.8 277.2,266.5 277.3,265.4 277.4,267.6 277.5,267.0 277.6,267.6 277.7,266.1 277.8,265.5 277.9,266.3 278.0,265.6 278.1,265.6 278.2,267.0 278.3,266.5 278.4,266.1 278.5,266.0 278.7,266.5 278.8,266.1 278.9,263.4 279.0,263.4 279.1,264.3 279.2,263.8 279.3,265.3 279.4,264.3 279.5,263.9 279.6,262.8 279.7,262.0 279.8,261.0 279.9,262.3 280.0,261.8 280.1,262.6 280.2,261.8 280.3,262.8 280.4,261.2 280.5,261.9 280.6,262.6 280.7,263.3 280.8,263.1 280.9,263.7 281.0,264.7 281.1,264.9 281.2,264.2 281.3,265.4 281.4,266.4 281.5,265.1 281.6,264.5 281.7,265.7 281.8,266.8 281.9,266.7 282.0,266.0 282.1,266.1 282.2,266.4 282.3,266.6 282.4,266.4 282.5,266.5 282.6,267.5 282.7,268.5 282.8,266.9 283.0,266.7 283.1,266.0 283.2,267.4 283.3,267.3 283.4,267.9 283.5,267.6 283.6,266.2 283.7,265.0 283.8,266.6 283.9,266.3 284.0,265.8 284.1,267.0 284.2,266.1 284.3,265.2 284.4,267.1 284.5,265.1 284.6,264.6 284.7,264.5 284.8,264.6 284.9,265.6 285.0,264.3 285.1,266.3 285.2,265.4 285.3,264.0 285.4,264.1 285.5,263.9 285.6,263.9 285.7,263.7 285.8,264.8 285.9,263.1 286.0,264.2 286.1,264.7 286.2,264.4 286.3,265.0 286.4,264.7 286.5,265.8 286.6,266.0 286.7,266.9 286.8,266.6 286.9,266.4 287.0,266.6 287.1,264.9 287.3,266.2 287.4,266.7 287.5,266.0 287.6,265.8 287.7,266.4 287.8,267.6 287.9,267.4 288.0,266.4 288.1,268.1 288.2,267.6 288.3,268.1 288.4,267.5 288.5,267.9 288.6,267.5 288.7,266.9 288.8,268.3 288.9,265.3 289.0,266.8 289.1,267.4 289.2,266.2 289.3,266.7 289.4,266.8 289.5,266.8 289.6,266.9 289.7,267.1 289.8,266.8 289.9,266.3 290.0,266.5 290.1,266.0 290.2,266.4 290.3,265.7 290.4,265.5 290.5,266.2 290.6,266.3 290.7,264.7 290.8,265.5 290.9,264.8 291.0,264.9 291.1,265.3 291.2,265.1 291.3,264.1 291.4,264.4 291.6,264.2 291.7,263.8 291.8,262.3 291.9,262.9 292.0,262.8 292.1,263.4 292.2,265.0 292.3,263.4 292.4,262.5 292.5,263.9 292.6,263.7 292.7,265.7 292.8,264.8 292.9,265.0 293.0,264.8 293.1,265.8 293.2,265.5 293.3,267.1 293.4,266.7 293.5,266.6 293.6,266.2 293.7,266.2 293.8,267.6 293.9,266.4 294.0,265.5 294.1,266.7 294.2,265.8 294.3,266.0 294.4,266.1 294.5,266.7 294.6,267.7 294.7,267.3 294.8,266.3 294.9,265.9 295.0,267.0 295.1,266.0 295.2,268.3 295.3,267.1 295.4,266.4 295.5,266.5 295.6,267.0 295.7,267.3 295.8,267.1 296.0,266.6 296.1,265.8 296.2,266.7 296.3,266.8 296.4,265.9 296.5,264.5 296.6,266.0 296.7,266.4 296.8,265.1 296.9,264.5 297.0,264.6 297.1,263.6 297.2,263.5 297.3,263.1 297.4,261.8 297.5,261.3 297.6,260.9 297.7,260.7 297.8,260.8 297.9,260.1 298.0,259.6 298.1,259.6 298.2,258.6 298.3,259.0 298.4,257.9 298.5,258.3 298.6,258.4 298.7,258.7 298.8,259.7 298.9,259.4 299.0,260.7 299.1,259.8 299.2,260.7 299.3,260.9 299.4,261.1 299.5,261.0 299.6,263.6 299.7,263.1 299.8,263.6 299.9,263.6 300.0,263.4 300.1,264.8 300.3,263.8 300.4,264.5 300.5,266.7 300.6,266.6 300.7,265.9 300.8,265.6 300.9,265.3 301.0,264.8 301.1,264.7 301.2,264.9 301.3,266.5 301.4,265.0 301.5,265.3 301.6,265.2 301.7,264.7 301.8,265.3 301.9,264.1 302.0,264.5 302.1,265.0 302.2,264.1 302.3,264.4 302.4,264.0 302.5,262.7 302.6,263.5 302.7,262.9 302.8,263.5 302.9,265.4 303.0,263.0 303.1,264.4 303.2,264.9 303.3,267.0 303.4,264.8 303.5,266.6 303.6,264.6 303.7,266.2 303.8,265.7 303.9,266.2 304.0,266.6 304.1,266.4 304.2,265.2 304.3,267.2 304.4,266.9 304.6,265.8 304.7,267.5 304.8,267.3 304.9,267.5 305.0,267.6 305.1,266.5 305.2,266.5 305.3,267.1 305.4,267.2 305.5,268.2 305.6,268.3 305.7,267.8 305.8,267.1 305.9,266.4 306.0,266.5 306.1,268.7 306.2,267.3 306.3,266.8 306.4,267.9 306.5,266.8 306.6,268.4 306.7,267.7 306.8,267.9 306.9,266.9 307.0,266.8 307.1,268.2 307.2,267.0 307.3,266.7 307.4,267.2 307.5,267.6 307.6,268.3 307.7,267.4 307.8,267.6 307.9,266.1 308.0,267.6 308.1,267.4 308.2,268.8 308.3,266.7 308.4,267.9 308.5,266.1 308.6,267.5 308.7,266.5 308.9,266.4 309.0,266.5 309.1,267.4 309.2,266.9 309.3,267.1 309.4,267.7 309.5,268.3 309.6,268.2 309.7,267.8 309.8,266.9 309.9,267.8 310.0,267.0 310.1,267.0 310.2,267.5 310.3,266.9 310.4,267.3 310.5,267.5 310.6,267.2 310.7,267.1 310.8,268.2 310.9,266.3 311.0,268.5 311.1,266.8 311.2,266.4 311.3,265.9 311.4,266.4 311.5,265.9 311.6,266.3 311.7,267.5 311.8,264.9 311.9,266.1 312.0,267.9 312.1,266.8 312.2,265.6 312.3,266.7 312.4,266.1 312.5,267.2 312.6,265.7 312.7,264.6 312.8,264.3 312.9,263.8 313.0,265.5 313.1,264.9 313.3,266.1 313.4,265.1 313.5,264.5 313.6,265.2 313.7,265.0 313.8,265.9 313.9,264.6 314.0,264.6 314.1,266.0 314.2,264.3 314.3,265.1 314.4,265.6 314.5,264.3 314.6,265.2 314.7,264.0 314.8,266.1 314.9,265.9 315.0,265.9 315.1,267.6 315.2,265.2 315.3,266.2 315.4,266.6 315.5,266.1 315.6,266.2 315.7,266.6 315.8,267.3 315.9,266.3 316.0,266.6 316.1,266.4 316.2,266.9 316.3,268.4 316.4,267.1 316.5,267.6 316.6,268.5 316.7,267.5 316.8,266.4 316.9,268.2 317.0,267.9 317.1,266.8 317.2,268.9 317.3,266.7 317.4,266.8 317.6,268.4 317.7,266.7 317.8,267.5 317.9,268.1 318.0,265.3 318.1,267.8 318.2,268.0 318.3,266.8 318.4,266.2 318.5,267.4 318.6,266.8 318.7,265.9 318.8,266.6 318.9,266.1 319.0,267.9 319.1,266.9 319.2,266.0 319.3,267.3 319.4,266.8 319.5,266.7 319.6,264.7 319.7,266.2 319.8,266.1 319.9,265.4 320.0,266.6 320.1,266.5 320.2,265.8 320.3,264.2 320.4,264.8 320.5,264.6 320.6,264.5 320.7,264.8 320.8,264.9 320.9,263.8 321.0,264.0 321.1,264.1 321.2,264.3 321.3,264.1 321.4,263.1 321.5,263.8 321.6,264.4 321.7,262.8 321.9,265.2 322.0,263.3 322.1,265.1 322.2,263.4 322.3,263.6 322.4,265.1 322.5,264.4 322.6,264.1 322.7,266.0 322.8,266.4 322.9,264.4 323.0,266.1 323.1,265.9 323.2,264.9 323.3,266.7 323.4,265.9 323.5,265.3 323.6,266.8 323.7,265.9 323.8,265.9 323.9,266.1 324.0,266.4 324.1,265.9 324.2,266.2 324.3,265.4 324.4,266.4 324.5,264.7 324.6,265.8 324.7,264.3 324.8,264.2 324.9,265.5 325.0,264.4 325.1,264.5 325.2,264.4 325.3,263.8 325.4,264.1 325.5,264.8 325.6,264.3 325.7,263.6 325.8,262.7 325.9,264.0 326.0,262.7 326.2,262.3 326.3,264.3 326.4,264.2 326.5,262.8 326.6,263.5 326.7,265.3 326.8,262.8 326.9,263.9 327.0,265.7 327.1,265.2 327.2,264.8 327.3,265.1 327.4,264.8 327.5,265.5 327.6,265.6 327.7,266.0 327.8,266.0 327.9,265.7 328.0,266.4 328.1,265.5 328.2,266.0 328.3,267.6 328.4,265.8 328.5,265.6 328.6,264.4 328.7,265.7 328.8,266.3 328.9,266.9 329.0,266.0 329.1,265.2 329.2,264.8 329.3,266.0 329.4,266.0 329.5,264.5 329.6,265.7 329.7,265.4 329.8,264.0 329.9,263.9 330.0,263.7 330.1,263.4 330.2,265.0 330.3,263.4 330.4,263.3 330.6,262.7 330.7,263.6 330.8,262.9 330.9,263.0 331.0,264.5 331.1,264.6 331.2,262.6 331.3,262.9 331.4,263.0 331.5,263.3 331.6,264.0 331.7,263.6 331.8,264.5 331.9,264.4 332.0,265.0 332.1,266.1 332.2,265.9 332.3,264.9 332.4,264.2 332.5,265.3 332.6,264.9 332.7,265.5 332.8,266.2 332.9,265.1 333.0,264.8 333.1,264.9 333.2,265.0 333.3,264.3 333.4,264.2 333.5,263.7 333.6,263.7 333.7,263.6 333.8,263.5 333.9,263.5 334.0,263.9 334.1,262.2 334.2,262.9 334.3,261.8 334.4,262.0 334.5,262.0 334.6,262.6 334.7,263.1 334.9,260.6 335.0,262.7 335.1,262.2 335.2,262.2 335.3,262.5 335.4,262.8 335.5,263.3 335.6,262.5 335.7,262.9 335.8,263.4 335.9,263.5 336.0,264.2 336.1,263.8 336.2,264.6 336.3,263.5 336.4,263.6 336.5,264.4 336.6,265.5 336.7,265.7 336.8,264.9 336.9,264.1 337.0,265.5 337.1,265.0 337.2,264.3 337.3,265.8 337.4,264.3 337.5,263.9 337.6,264.9 337.7,265.4 337.8,265.5 337.9,264.1 338.0,264.6 338.1,263.4 338.2,263.4 338.3,263.7 338.4,264.0 338.5,264.1 338.6,264.0 338.7,263.1 338.8,265.3 338.9,264.0 339.0,265.2 339.2,264.7 339.3,266.3 339.4,264.6 339.5,266.3 339.6,266.1 339.7,267.0 339.8,266.3 339.9,266.9 340.0,266.4 340.1,265.4 340.2,266.5 340.3,268.0 340.4,268.7 340.5,267.0 340.6,267.9 340.7,266.5 340.8,267.3 340.9,266.8 341.0,266.0 341.1,266.4 341.2,267.2 341.3,267.6 341.4,266.1 341.5,267.0 341.6,266.7 341.7,267.1 341.8,266.3 341.9,267.1 342.0,267.4 342.1,266.4 342.2,267.1 342.3,266.5 342.4,266.4 342.5,267.5 342.6,266.4 342.7,266.6 342.8,266.2 342.9,267.2 343.0,266.9 343.1,267.0 343.2,266.3 343.3,268.2 343.5,267.6 343.6,267.2 343.7,266.9 343.8,266.6 343.9,266.6 344.0,268.2 344.1,267.3 344.2,266.1 344.3,268.7 344.4,266.7 344.5,267.7 344.6,267.4 344.7,266.9 344.8,266.2 344.9,266.9 345.0,266.0 345.1,266.6 345.2,267.0 345.3,266.2 345.4,266.1 345.5,267.0 345.6,268.7" fill="none" stroke="none" marker-start="url(#oc)" marker-mid="url(#oc)" marker-end="url(#oc)"/>
<polyline points="38.5,267.3 38.6,267.3 38.7,267.3 38.8,267.3 38.9,267.3 39.0,267.3 39.1,267.3 39.2,267.3 39.3,267.3 39.4,267.3 39.5,267.3 39.6,267.3 39.7,267.3 39.8,267.3 39.9,267.3 40.0,267.3 40.1,267.3 40.2,267.3 40.3,267.3 40.4,267.3 40.5,267.3 40.6,267.3 40.8,267.3 40.9,267.3 41.0,267.3 41.1,267.3 41.2,267.3 41.3,267.3 41.4,267.3 41.5,267.3 41.6,267.3 41.7,267.3 41.8,267.3 41.9,267.3 42.0,267.3 42.1,267.3 42.2,267.3 42.3,267.3 42.4,267.3 42.5,267.3 42.6,267.3 42.7,267.3 42.8,267.3 42.9,267.3 43.0,267.3 43.1,267.3 43.2,267.3 43.3,267.3 43.4,267.3 43.5,267.3 43.6,267.3 43.7,267.3 43.8,267.3 43.9,267.3 44.0,267.3 44.1,267.3 44.2,267.3 44.3,267.3 44.4,267.3 44.5,267.3 44.6,267.3 44.7,267.3 44.8,267.3 44.9,267.3 45.1,267.3 45.2,267.3 45.3,267.3 45.4,267.3 45.5,267.3 45.6,267.3 45.7,267.3 45.8,267.3 45.9,267.3 46.0,267.3 46.1,267.3 46.2,267.3 46.3,267.3 46.4,267.3 46.5,267.3 46.6,267.3 46.7,267.3 46.8,267.3 46.9,267.3 47.0,267.3 47.1,267.3 47.2,267.3 47.3,267.3 47.4,267.3 47.5,267.3 47.6,267.3 47.7,267.3 47.8,267.3 47.9,267.3 48.0,267.3 48.1,267.3 48.2,267.3 48.3,267.3 48.4,267.3 48.5,267.3 48.6,267.3 48.7,267.3 48.8,267.3 48.9,267.3 49.0,267.3 49.1,267.3 49.2,267.3 49.4,267.3 49.5,267.3 49.6,267.3 49.7,267.3 49.8,267.3 49.9,267.3 50.0,267.3 50.1,267.3 50.2,267.3 50.3,267.3 50.4,267.3 50.5,267.3 50.6,267.3 50.7,267.3 50.8,267.3 50.9,267.3 51.0,267.3 51.1,267.3 51.2,267.3 51.3,267.3 51.4,267.2 51.5,267.2 51.6,267.2 51.7,267.2 51.8,267.2 51.9,267.2 52.0,267.2 52.1,267.2 52.2,267.2 52.3,267.2 52.4,267.1 52.5,267.1 52.6,267.1 52.7,267.1 52.8,267.0 52.9,267.0 53.0,267.0 53.1,266.9 53.2,266.9 53.3,266.9 53.4,266.8 53.5,266.7 53.7,266.7 53.8,266.6 53.9,266.5 54.0,266.4 54.1,266.3 54.2,266.2 54.3,266.0 54.4,265.8 54.5,265.6 54.6,265.3 54.7,265.0 54.8,264.5 54.9,263.9 55.0,263.0 55.1,261.8 55.2,260.0 55.3,257.5 55.4,254.2 55.5,249.7 55.6,244.0 55.7,236.9 55.8,228.6 55.9,219.1 56.0,208.9 56.1,198.7 56.2,189.5 56.3,182.9 56.4,180.5 56.5,182.9 56.6,189.5 56.7,198.7 56.8,208.9 56.9,219.1 57.0,228.6 57.1,236.9 57.2,244.0 57.3,249.7 57.4,254.2 57.5,257.5 57.6,260.0 57.7,261.8 57.8,263.0 57.9,263.9 58.1,264.5 58.2,265.0 58.3,265.3 58.4,265.6 58.5,265.8 58.6,266.0 58.7,266.2 58.8,266.3 58.9,266.4 59.0,266.5 59.1,266.6 59.2,266.7 59.3,266.7 59.4,266.8 59.5,266.9 59.6,266.9 59.7,266.9 59.8,267.0 59.9,267.0 60.0,267.0 60.1,267.1 60.2,267.1 60.3,267.1 60.4,267.1 60.5,267.2 60.6,267.2 60.7,267.2 60.8,267.2 60.9,267.2 61.0,267.2 61.1,267.2 61.2,267.2 61.3,267.2 61.4,267.2 61.5,267.3 61.6,267.3 61.7,267.3 61.8,267.3 61.9,267.3 62.0,267.3 62.1,267.3 62.2,267.3 62.4,267.3 62.5,267.3 62.6,267.3 62.7,267.3 62.8,267.3 62.9,267.3 63.0,267.3 63.1,267.3 63.2,267.3 63.3,267.3 63.4,267.3 63.5,267.3 63.6,267.3 63.7,267.3 63.8,267.3 63.9,267.3 64.0,267.3 64.1,267.3 64.2,267.3 64.3,267.3 64.4,267.3 64.5,267.3 64.6,267.3 64.7,267.3 64.8,267.3 64.9,267.3 65.0,267.3 65.1,267.3 65.2,267.3 65.3,267.3 65.4,267.3 65.5,267.3 65.6,267.3 65.7,267.3 65.8,267.3 65.9,267.3 66.0,267.3 66.1,267.3 66.2,267.3 66.3,267.3 66.4,267.3 66.5,267.3 66.7,267.3 66.8,267.3 66.9,267.3 67.0,267.3 67.1,267.3 67.2,267.3 67.3,267.3 67.4,267.3 67.5,267.3 67.6,267.3 67.7,267.3 67.8,267.3 67.9,267.3 68.0,267.3 68.1,267.3 68.2,267.3 68.3,267.3 68.4,267.3 68.5,267.3 68.6,267.3 68.7,267.3 68.8,267.3 68.9,267.3 69.0,267.3 69.1,267.3 69.2,267.3 69.3,267.3 69.4,267.3 69.5,267.3 69.6,267.3 69.7,267.3 69.8,267.3 69.9,267.3 70.0,267.3 70.1,267.3 70.2,267.3 70.3,267.3 70.4,267.3 70.5,267.3 70.6,267.3 70.7,267.3 70.8,267.3 71.0,267.3 71.1,267.3 71.2,267.3 71.3,267.3 71.4,267.3 71.5,267.3 71.6,267.3 71.7,267.2 71.8,267.2 71.9,267.2 72.0,267.2 72.1,267.2 72.2,267.2 72.3,267.2 72.4,267.2 72.5,267.2 72.6,267.2 72.7,267.2 72.8,267.2 72.9,267.2 73.0,267.1 73.1,267.1 73.2,267.1 73.3,267.1 73.4,267.1 73.5,267.0 73.6,267.0 73.7,266.9 73.8,266.9 73.9,266.8 74.0,266.7 74.1,266.6 74.2,266.4 74.3,266.2 74.4,265.9 74.5,265.6 74.6,265.1 74.7,264.7 74.8,264.1 74.9,263.5 75.0,262.7 75.1,262.0 75.2,261.1 75.4,260.3 75.5,259.5 75.6,258.7 75.7,258.1 75.8,257.6 75.9,257.5 76.0,257.6 76.1,258.1 76.2,258.7 76.3,259.5 76.4,260.3 76.5,261.1 76.6,262.0 76.7,262.7 76.8,263.5 76.9,264.1 77.0,264.7 77.1,265.1 77.2,265.6 77.3,265.9 77.4,266.2 77.5,266.4 77.6,266.6 77.7,266.7 77.8,266.8 77.9,266.9 78.0,266.9 78.1,267.0 78.2,267.0 78.3,267.1 78.4,267.1 78.5,267.1 78.6,267.1 78.7,267.1 78.8,267.2 78.9,267.2 79.0,267.2 79.1,267.2 79.2,267.2 79.3,267.2 79.4,267.2 79.5,267.2 79.7,267.2 79.8,267.2 79.9,267.2 80.0,267.2 80.1,267.2 80.2,267.3 80.3,267.3 80.4,267.3 80.5,267.3 80.6,267.3 80.7,267.3 80.8,267.3 80.9,267.3 81.0,267.3 81.1,267.3 81.2,267.3 81.3,267.3 81.4,267.3 81.5,267.3 81.6,267.3 81.7,267.3 81.8,267.3 81.9,267.3 82.0,267.3 82.1,267.3 82.2,267.3 82.3,267.3 82.4,267.3 82.5,267.3 82.6,267.3 82.7,267.3 82.8,267.3 82.9,267.3 83.0,267.3 83.1,267.3 83.2,267.3 83.3,267.3 83.4,267.3 83.5,267.3 83.6,267.3 83.7,267.3 83.8,267.3 84.0,267.3 84.1,267.3 84.2,267.3 84.3,267.3 84.4,267.3 84.5,267.3 84.6,267.3 84.7,267.3 84.8,267.3 84.9,267.3 85.0,267.2 85.1,267.2 85.2,267.2 85.3,267.2 85.4,267.2 85.5,267.2 85.6,267.2 85.7,267.2 85.8,267.2 85.9,267.2 86.0,267.1 86.1,267.1 86.2,267.1 86.3,267.1 86.4,267.1 86.5,267.0 86.6,267.0 86.7,267.0 86.8,266.9 86.9,266.9 87.0,266.8 87.1,266.8 87.2,266.7 87.3,266.6 87.4,266.6 87.5,266.5 87.6,266.4 87.7,266.3 87.8,266.2 87.9,266.1 88.0,265.9 88.1,265.8 88.3,265.6 88.4,265.4 88.5,265.1 88.6,264.9 88.7,264.6 88.8,264.2 88.9,263.8 89.0,263.3 89.1,262.7 89.2,261.9 89.3,260.8 89.4,259.3 89.5,257.3 89.6,254.5 89.7,250.6 89.8,245.4 89.9,238.3 90.0,229.2 90.1,217.7 90.2,203.7 90.3,187.3 90.4,168.7 90.5,148.6 90.6,128.0 90.7,108.7 90.8,93.2 90.9,84.3 91.0,84.3 91.1,93.1 91.2,108.5 91.3,127.8 91.4,148.2 91.5,168.3 91.6,186.8 91.7,203.1 91.8,217.0 91.9,228.4 92.0,237.4 92.1,244.3 92.2,249.4 92.3,253.1 92.4,255.7 92.5,257.4 92.7,258.5 92.8,259.1 92.9,259.2 93.0,259.0 93.1,258.3 93.2,257.3 93.3,255.7 93.4,253.7 93.5,251.1 93.6,247.9 93.7,244.0 93.8,239.7 93.9,234.8 94.0,229.5 94.1,224.1 94.2,218.7 94.3,214.0 94.4,210.3 94.5,208.3 94.6,208.3 94.7,210.4 94.8,214.2 94.9,219.0 95.0,224.4 95.1,229.9 95.2,235.2 95.3,240.1 95.4,244.5 95.5,248.2 95.6,251.2 95.7,253.5 95.8,254.9 95.9,255.5 96.0,255.3 96.1,254.3 96.2,252.6 96.3,250.2 96.4,247.3 96.5,244.3 96.6,241.4 96.7,239.3 96.8,238.6 97.0,239.6 97.1,242.1 97.2,245.4 97.3,248.9 97.4,252.3 97.5,255.5 97.6,258.1 97.7,260.3 97.8,262.1 97.9,263.4 98.0,264.3 98.1,265.0 98.2,265.5 98.3,265.8 98.4,266.0 98.5,266.2 98.6,266.3 98.7,266.4 98.8,266.5 98.9,266.6 99.0,266.6 99.1,266.6 99.2,266.7 99.3,266.7 99.4,266.7 99.5,266.7 99.6,266.7 99.7,266.7 99.8,266.7 99.9,266.6 100.0,266.6 100.1,266.6 100.2,266.5 100.3,266.5 100.4,266.4 100.5,266.3 100.6,266.2 100.7,266.1 100.8,266.0 100.9,265.8 101.0,265.7 101.1,265.5 101.3,265.3 101.4,265.0 101.5,264.7 101.6,264.3 101.7,263.8 101.8,263.2 101.9,262.3 102.0,261.1 102.1,259.5 102.2,257.2 102.3,254.0 102.4,249.8 102.5,244.2 102.6,237.0 102.7,228.1 102.8,217.5 102.9,205.3 103.0,191.7 103.1,177.4 103.2,163.3 103.3,150.9 103.4,142.2 103.5,139.0 103.6,142.2 103.7,150.9 103.8,163.3 103.9,177.4 104.0,191.7 104.1,205.3 104.2,217.5 104.3,228.1 104.4,237.0 104.5,244.2 104.6,249.8 104.7,254.1 104.8,257.2 104.9,259.5 105.0,261.2 105.1,262.4 105.2,263.2 105.3,263.9 105.4,264.4 105.6,264.7 105.7,265.1 105.8,265.3 105.9,265.5 106.0,265.7 106.1,265.9 106.2,266.1 106.3,266.2 106.4,266.3 106.5,266.4 106.6,266.5 106.7,266.6 106.8,266.7 106.9,266.7 107.0,266.8 107.1,266.8 107.2,266.9 107.3,266.9 107.4,267.0 107.5,267.0 107.6,267.0 107.7,267.1 107.8,267.1 107.9,267.1 108.0,267.1 108.1,267.1 108.2,267.2 108.3,267.2 108.4,267.2 108.5,267.2 108.6,267.2 108.7,267.2 108.8,267.2 108.9,267.2 109.0,267.2 109.1,267.2 109.2,267.3 109.3,267.3 109.4,267.3 109.5,267.3 109.6,267.3 109.7,267.3 109.8,267.3 110.0,267.3 110.1,267.3 110.2,267.3 110.3,267.3 110.4,267.3 110.5,267.3 110.6,267.3 110.7,267.3 110.8,267.3 110.9,267.3 111.0,267.3 111.1,267.3 111.2,267.3 111.3,267.3 111.4,267.3 111.5,267.3 111.6,267.3 111.7,267.3 111.8,267.3 111.9,267.3 112.0,267.3 112.1,267.3 112.2,267.3 112.3,267.3 112.4,267.3 112.5,267.3 112.6,267.3 112.7,267.3 112.8,267.3 112.9,267.3 113.0,267.3 113.1,267.2 113.2,267.2 113.3,267.2 113.4,267.2 113.5,267.2 113.6,267.2 113.7,267.2 113.8,267.2 113.9,267.2 114.0,267.2 114.1,267.2 114.3,267.2 114.4,267.1 114.5,267.1 114.6,267.1 114.7,267.1 114.8,267.0 114.9,267.0 115.0,266.9 115.1,266.8 115.2,266.7 115.3,266.6 115.4,266.4 115.5,266.2 115.6,265.9 115.7,265.6 115.8,265.2 115.9,264.8 116.0,264.4 116.1,263.9 116.2,263.3 116.3,262.8 116.4,262.3 116.5,261.8 116.6,261.4 116.7,261.1 116.8,261.0 116.9,261.1 117.0,261.4 117.1,261.8 117.2,262.3 117.3,262.8 117.4,263.3 117.5,263.9 117.6,264.4 117.7,264.8 117.8,265.2 117.9,265.6 118.0,265.9 118.1,266.2 118.2,266.4 118.3,266.6 118.4,266.7 118.6,266.8 118.7,266.9 118.8,267.0 118.9,267.0 119.0,267.1 119.1,267.1 119.2,267.1 119.3,267.1 119.4,267.2 119.5,267.2 119.6,267.2 119.7,267.2 119.8,267.2 119.9,267.2 120.0,267.2 120.1,267.2 120.2,267.2 120.3,267.2 120.4,267.2 120.5,267.2 120.6,267.2 120.7,267.3 120.8,267.3 120.9,267.3 121.0,267.3 121.1,267.3 121.2,267.3 121.3,267.3 121.4,267.3 121.5,267.3 121.6,267.3 121.7,267.3 121.8,267.3 121.9,267.3 122.0,267.3 122.1,267.3 122.2,267.3 122.3,267.3 122.4,267.2 122.5,267.2 122.6,267.2 122.7,267.2 122.9,267.2 123.0,267.2 123.1,267.2 123.2,267.2 123.3,267.2 123.4,267.2 123.5,267.2 123.6,267.2 123.7,267.1 123.8,267.1 123.9,267.1 124.0,267.1 124.1,267.1 124.2,267.0 124.3,267.0 124.4,267.0 124.5,266.9 124.6,266.9 124.7,266.8 124.8,266.8 124.9,266.7 125.0,266.6 125.1,266.5 125.2,266.4 125.3,266.3 125.4,266.0 125.5,265.7 125.6,265.3 125.7,264.7 125.8,263.9 125.9,262.8 126.0,261.4 126.1,259.5 126.2,257.3 126.3,254.6 126.4,251.4 126.5,248.0 126.6,244.3 126.7,240.7 126.8,237.5 126.9,235.3 127.0,234.5 127.1,235.3 127.3,237.5 127.4,240.7 127.5,244.3 127.6,247.9 127.7,251.4 127.8,254.5 127.9,257.2 128.0,259.5 128.1,261.3 128.2,262.8 128.3,263.8 128.4,264.6 128.5,265.2 128.6,265.6 128.7,265.9 128.8,266.1 128.9,266.3 129.0,266.4 129.1,266.5 129.2,266.5 129.3,266.6 129.4,266.6 129.5,266.6 129.6,266.6 129.7,266.6 129.8,266.6 129.9,266.5 130.0,266.4 130.1,266.3 130.2,266.1 130.3,265.8 130.4,265.5 130.5,265.1 130.6,264.5 130.7,263.9 130.8,263.2 130.9,262.4 131.0,261.6 131.1,260.6 131.2,259.7 131.3,258.8 131.4,258.1 131.6,257.6 131.7,257.5 131.8,257.6 131.9,258.1 132.0,258.9 132.1,259.7 132.2,260.7 132.3,261.6 132.4,262.5 132.5,263.3 132.6,264.0 132.7,264.6 132.8,265.2 132.9,265.6 133.0,266.0 133.1,266.2 133.2,266.4 133.3,266.6 133.4,266.7 133.5,266.8 133.6,266.9 133.7,266.9 133.8,267.0 133.9,267.0 134.0,267.0 134.1,267.0 134.2,267.1 134.3,267.1 134.4,267.1 134.5,267.1 134.6,267.1 134.7,267.1 134.8,267.1 134.9,267.1 135.0,267.0 135.1,267.0 135.2,267.0 135.3,267.0 135.4,267.0 135.5,267.0 135.6,266.9 135.7,266.9 135.9,266.8 136.0,266.8 136.1,266.8 136.2,266.7 136.3,266.6 136.4,266.6 136.5,266.5 136.6,266.4 136.7,266.3 136.8,266.1 136.9,265.9 137.0,265.7 137.1,265.4 137.2,265.0 137.3,264.5 137.4,263.8 137.5,262.8 137.6,261.3 137.7,259.5 137.8,257.0 137.9,253.8 138.0,249.8 138.1,245.1 138.2,239.7 138.3,233.7 138.4,227.3 138.5,221.1 138.6,215.6 138.7,211.7 138.8,210.2 138.9,211.6 139.0,215.5 139.1,220.9 139.2,227.1 139.3,233.4 139.4,239.3 139.5,244.7 139.6,249.3 139.7,253.1 139.8,256.1 139.9,258.4 140.0,260.0 140.2,261.0 140.3,261.5 140.4,261.7 140.5,261.4 140.6,260.8 140.7,260.0 140.8,258.9 140.9,257.5 141.0,256.0 141.1,254.4 141.2,252.6 141.3,250.9 141.4,249.4 141.5,248.2 141.6,247.6 141.7,247.6 141.8,248.4 141.9,249.6 142.0,251.3 142.1,253.1 142.2,255.0 142.3,256.8 142.4,258.5 142.5,260.0 142.6,261.3 142.7,262.5 142.8,263.4 142.9,264.2 143.0,264.8 143.1,265.3 143.2,265.7 143.3,266.0 143.4,266.2 143.5,266.4 143.6,266.5 143.7,266.6 143.8,266.7 143.9,266.7 144.0,266.8 144.1,266.8 144.2,266.8 144.3,266.9 144.4,266.9 144.6,266.9 144.7,266.9 144.8,266.9 144.9,266.9 145.0,266.9 145.1,266.9 145.2,266.9 145.3,266.8 145.4,266.8 145.5,266.7 145.6,266.7 145.7,266.6 145.8,266.4 145.9,266.3 146.0,266.0 146.1,265.7 146.2,265.3 146.3,264.8 146.4,264.2 146.5,263.4 146.6,262.5 146.7,261.5 146.8,260.3 146.9,259.0 147.0,257.7 147.1,256.3 147.2,255.0 147.3,254.0 147.4,253.2 147.5,253.0 147.6,253.2 147.7,254.0 147.8,255.0 147.9,256.3 148.0,257.7 148.1,259.0 148.2,260.3 148.3,261.5 148.4,262.5 148.5,263.4 148.6,264.2 148.7,264.8 148.9,265.3 149.0,265.8 149.1,266.1 149.2,266.3 149.3,266.5 149.4,266.6 149.5,266.7 149.6,266.8 149.7,266.8 149.8,266.9 149.9,266.9 150.0,266.9 150.1,267.0 150.2,267.0 150.3,267.0 150.4,267.0 150.5,267.0 150.6,267.0 150.7,267.0 150.8,267.0 150.9,267.0 151.0,266.9 151.1,266.9 151.2,266.9 151.3,266.9 151.4,266.8 151.5,266.8 151.6,266.8 151.7,266.7 151.8,266.7 151.9,266.6 152.0,266.5 152.1,266.5 152.2,266.4 152.3,266.3 152.4,266.1 152.5,266.0 152.6,265.9 152.7,265.7 152.8,265.5 152.9,265.3 153.0,265.0 153.2,264.7 153.3,264.3 153.4,263.8 153.5,263.2 153.6,262.3 153.7,261.1 153.8,259.5 153.9,257.2 154.0,254.0 154.1,249.7 154.2,244.1 154.3,237.0 154.4,228.1 154.5,217.4 154.6,205.2 154.7,191.6 154.8,177.3 154.9,163.2 155.0,150.8 155.1,142.1 155.2,138.9 155.3,142.1 155.4,150.8 155.5,163.2 155.6,177.2 155.7,191.5 155.8,205.0 155.9,217.3 156.0,227.9 156.1,236.7 156.2,243.9 156.3,249.4 156.4,253.7 156.5,256.8 156.6,259.0 156.7,260.6 156.8,261.8 156.9,262.6 157.0,263.1 157.1,263.5 157.2,263.7 157.3,263.9 157.5,263.9 157.6,263.8 157.7,263.6 157.8,263.3 157.9,262.7 158.0,262.0 158.1,261.0 158.2,259.7 158.3,258.1 158.4,256.2 158.5,253.9 158.6,251.4 158.7,248.7 158.8,245.8 158.9,242.8 159.0,240.1 159.1,237.8 159.2,236.2 159.3,235.7 159.4,236.3 159.5,237.9 159.6,240.3 159.7,243.1 159.8,246.0 159.9,249.0 160.0,251.8 160.1,254.4 160.2,256.7 160.3,258.7 160.4,260.4 160.5,261.8 160.6,262.9 160.7,263.7 160.8,264.4 160.9,264.9 161.0,265.3 161.1,265.6 161.2,265.7 161.3,265.9 161.4,265.9 161.5,265.9 161.6,265.7 161.7,265.5 161.9,265.2 162.0,264.7 162.1,263.9 162.2,263.0 162.3,261.9 162.4,260.5 162.5,259.0 162.6,257.5 162.7,256.1 162.8,255.0 162.9,254.6 163.0,255.0 163.1,256.1 163.2,257.5 163.3,259.1 163.4,260.6 163.5,261.9 163.6,263.1 163.7,264.0 163.8,264.8 163.9,265.3 164.0,265.7 164.1,265.9 164.2,266.1 164.3,266.2 164.4,266.2 164.5,266.2 164.6,266.2 164.7,266.1 164.8,266.0 164.9,265.9 165.0,265.7 165.1,265.5 165.2,265.1 165.3,264.7 165.4,264.1 165.5,263.3 165.6,262.2 165.7,260.8 165.8,259.0 165.9,256.7 166.0,254.0 166.2,250.8 166.3,247.2 166.4,243.2 166.5,238.9 166.6,234.5 166.7,230.3 166.8,226.7 166.9,224.3 167.0,223.4 167.1,224.3 167.2,226.7 167.3,230.3 167.4,234.4 167.5,238.8 167.6,243.1 167.7,247.1 167.8,250.7 167.9,253.9 168.0,256.6 168.1,258.8 168.2,260.5 168.3,261.9 168.4,262.9 168.5,263.7 168.6,264.2 168.7,264.4 168.8,264.5 168.9,264.4 169.0,264.1 169.1,263.5 169.2,262.7 169.3,261.6 169.4,260.2 169.5,258.5 169.6,256.7 169.7,254.8 169.8,253.1 169.9,251.8 170.0,251.3 170.1,251.8 170.2,253.1 170.3,254.9 170.5,256.8 170.6,258.6 170.7,260.3 170.8,261.7 170.9,262.9 171.0,263.7 171.1,264.3 171.2,264.7 171.3,264.9 171.4,264.9 171.5,264.7 171.6,264.3 171.7,263.8 171.8,263.0 171.9,262.0 172.0,260.6 172.1,258.9 172.2,256.9 172.3,254.4 172.4,251.7 172.5,248.6 172.6,245.3 172.7,241.9 172.8,238.7 172.9,236.0 173.0,234.1 173.1,233.4 173.2,234.1 173.3,236.0 173.4,238.7 173.5,242.0 173.6,245.4 173.7,248.7 173.8,251.8 173.9,254.6 174.0,257.1 174.1,259.2 174.2,260.9 174.3,262.3 174.4,263.4 174.5,264.3 174.6,264.9 174.8,265.4 174.9,265.7 175.0,266.0 175.1,266.2 175.2,266.4 175.3,266.5 175.4,266.6 175.5,266.7 175.6,266.7 175.7,266.8 175.8,266.8 175.9,266.9 176.0,266.9 176.1,267.0 176.2,267.0 176.3,267.0 176.4,267.1 176.5,267.1 176.6,267.1 176.7,267.1 176.8,267.1 176.9,267.1 177.0,267.2 177.1,267.2 177.2,267.2 177.3,267.2 177.4,267.2 177.5,267.2 177.6,267.2 177.7,267.2 177.8,267.2 177.9,267.2 178.0,267.2 178.1,267.3 178.2,267.3 178.3,267.3 178.4,267.3 178.5,267.3 178.6,267.3 178.7,267.3 178.8,267.3 178.9,267.3 179.0,267.3 179.2,267.3 179.3,267.3 179.4,267.3 179.5,267.3 179.6,267.3 179.7,267.3 179.8,267.3 179.9,267.3 180.0,267.3 180.1,267.3 180.2,267.3 180.3,267.3 180.4,267.3 180.5,267.3 180.6,267.3 180.7,267.3 180.8,267.3 180.9,267.3 181.0,267.3 181.1,267.3 181.2,267.3 181.3,267.3 181.4,267.3 181.5,267.3 181.6,267.3 181.7,267.3 181.8,267.3 181.9,267.3 182.0,267.3 182.1,267.3 182.2,267.3 182.3,267.3 182.4,267.3 182.5,267.3 182.6,267.3 182.7,267.3 182.8,267.3 182.9,267.3 183.0,267.3 183.1,267.3 183.2,267.3 183.3,267.3 183.5,267.3 183.6,267.3 183.7,267.3 183.8,267.3 183.9,267.3 184.0,267.3 184.1,267.3 184.2,267.3 184.3,267.3 184.4,267.3 184.5,267.3 184.6,267.3 184.7,267.3 184.8,267.3 184.9,267.3 185.0,267.3 185.1,267.3 185.2,267.3 185.3,267.3 185.4,267.3 185.5,267.3 185.6,267.3 185.7,267.3 185.8,267.3 185.9,267.3 186.0,267.3 186.1,267.3 186.2,267.3 186.3,267.2 186.4,267.2 186.5,267.2 186.6,267.2 186.7,267.2 186.8,267.2 186.9,267.2 187.0,267.2 187.1,267.2 187.2,267.2 187.3,267.1 187.4,267.1 187.5,267.1 187.6,267.0 187.8,267.0 187.9,266.9 188.0,266.8 188.1,266.7 188.2,266.5 188.3,266.4 188.4,266.1 188.5,265.9 188.6,265.6 188.7,265.3 188.8,265.0 188.9,264.6 189.0,264.2 189.1,263.9 189.2,263.5 189.3,263.2 189.4,263.1 189.5,263.0 189.6,263.1 189.7,263.2 189.8,263.5 189.9,263.9 190.0,264.2 190.1,264.6 190.2,265.0 190.3,265.3 190.4,265.6 190.5,265.9 190.6,266.1 190.7,266.4 190.8,266.5 190.9,266.7 191.0,266.8 191.1,266.9 191.2,267.0 191.3,267.0 191.4,267.1 191.5,267.1 191.6,267.1 191.7,267.2 191.8,267.2 191.9,267.2 192.0,267.2 192.2,267.2 192.3,267.2 192.4,267.2 192.5,267.2 192.6,267.2 192.7,267.2 192.8,267.2 192.9,267.2 193.0,267.2 193.1,267.2 193.2,267.2 193.3,267.2 193.4,267.2 193.5,267.2 193.6,267.2 193.7,267.2 193.8,267.2 193.9,267.2 194.0,267.2 194.1,267.2 194.2,267.2 194.3,267.2 194.4,267.2 194.5,267.2 194.6,267.2 194.7,267.2 194.8,267.1 194.9,267.1 195.0,267.1 195.1,267.1 195.2,267.1 195.3,267.1 195.4,267.1 195.5,267.0 195.6,267.0 195.7,267.0 195.8,266.9 195.9,266.9 196.0,266.9 196.1,266.8 196.2,266.8 196.3,266.7 196.5,266.7 196.6,266.6 196.7,266.5 196.8,266.4 196.9,266.3 197.0,266.2 197.1,266.1 197.2,265.9 197.3,265.6 197.4,265.3 197.5,264.8 197.6,264.3 197.7,263.5 197.8,262.5 197.9,261.2 198.0,259.6 198.1,257.6 198.2,255.1 198.3,252.2 198.4,248.9 198.5,245.2 198.6,241.1 198.7,236.8 198.8,232.5 198.9,228.5 199.0,225.1 199.1,222.8 199.2,222.0 199.3,222.8 199.4,225.1 199.5,228.5 199.6,232.5 199.7,236.8 199.8,241.1 199.9,245.1 200.0,248.9 200.1,252.2 200.2,255.1 200.3,257.5 200.4,259.5 200.5,261.2 200.6,262.4 200.8,263.4 200.9,264.2 201.0,264.8 201.1,265.2 201.2,265.5 201.3,265.8 201.4,266.0 201.5,266.1 201.6,266.2 201.7,266.3 201.8,266.4 201.9,266.5 202.0,266.5 202.1,266.6 202.2,266.6 202.3,266.6 202.4,266.7 202.5,266.7 202.6,266.7 202.7,266.6 202.8,266.6 202.9,266.6 203.0,266.5 203.1,266.4 203.2,266.3 203.3,266.1 203.4,265.9 203.5,265.7 203.6,265.4 203.7,265.1 203.8,264.8 203.9,264.4 204.0,264.0 204.1,263.6 204.2,263.2 204.3,262.7 204.4,262.3 204.5,262.0 204.6,261.7 204.7,261.5 204.8,261.4 204.9,261.5 205.1,261.7 205.2,262.0 205.3,262.3 205.4,262.8 205.5,263.2 205.6,263.6 205.7,264.1 205.8,264.5 205.9,264.8 206.0,265.2 206.1,265.5 206.2,265.8 206.3,266.0 206.4,266.2 206.5,266.3 206.6,266.4 206.7,266.5 206.8,266.6 206.9,266.6 207.0,266.6 207.1,266.6 207.2,266.6 207.3,266.5 207.4,266.4 207.5,266.2 207.6,266.1 207.7,265.9 207.8,265.7 207.9,265.4 208.0,265.2 208.1,264.9 208.2,264.6 208.3,264.2 208.4,263.9 208.5,263.6 208.6,263.4 208.7,263.1 208.8,263.0 208.9,262.9 209.0,263.0 209.1,263.2 209.2,263.4 209.3,263.7 209.5,264.0 209.6,264.3 209.7,264.6 209.8,264.9 209.9,265.2 210.0,265.5 210.1,265.8 210.2,266.0 210.3,266.2 210.4,266.4 210.5,266.5 210.6,266.7 210.7,266.8 210.8,266.9 210.9,266.9 211.0,267.0 211.1,267.0 211.2,267.1 211.3,267.1 211.4,267.1 211.5,267.1 211.6,267.2 211.7,267.2 211.8,267.2 211.9,267.2 212.0,267.2 212.1,267.2 212.2,267.2 212.3,267.2 212.4,267.2 212.5,267.2 212.6,267.2 212.7,267.2 212.8,267.2 212.9,267.2 213.0,267.2 213.1,267.2 213.2,267.2 213.3,267.2 213.4,267.2 213.5,267.2 213.6,267.2 213.8,267.2 213.9,267.2 214.0,267.2 214.1,267.2 214.2,267.2 214.3,267.2 214.4,267.2 214.5,267.2 214.6,267.2 214.7,267.2 214.8,267.2 214.9,267.2 215.0,267.2 215.1,267.2 215.2,267.2 215.3,267.2 215.4,267.2 215.5,267.2 215.6,267.2 215.7,267.2 215.8,267.2 215.9,267.2 216.0,267.1 216.1,267.1 216.2,267.1 216.3,267.1 216.4,267.1 216.5,267.1 216.6,267.1 216.7,267.0 216.8,267.0 216.9,267.0 217.0,267.0 217.1,267.0 217.2,266.9 217.3,266.9 217.4,266.8 217.5,266.8 217.6,266.7 217.7,266.6 217.8,266.5 217.9,266.4 218.1,266.2 218.2,266.0 218.3,265.8 218.4,265.5 218.5,265.1 218.6,264.7 218.7,264.2 218.8,263.6 218.9,262.9 219.0,262.1 219.1,261.2 219.2,260.3 219.3,259.2 219.4,258.1 219.5,256.9 219.6,255.7 219.7,254.5 219.8,253.4 219.9,252.4 220.0,251.7 220.1,251.1 220.2,251.0 220.3,251.1 220.4,251.6 220.5,252.4 220.6,253.4 220.7,254.5 220.8,255.7 220.9,256.9 221.0,258.0 221.1,259.2 221.2,260.2 221.3,261.2 221.4,262.1 221.5,262.8 221.6,263.5 221.7,264.1 221.8,264.6 221.9,265.0 222.0,265.4 222.1,265.7 222.2,265.9 222.4,266.1 222.5,266.3 222.6,266.4 222.7,266.5 222.8,266.5 222.9,266.6 223.0,266.6 223.1,266.7 223.2,266.7 223.3,266.7 223.4,266.7 223.5,266.7 223.6,266.7 223.7,266.7 223.8,266.7 223.9,266.7 224.0,266.6 224.1,266.6 224.2,266.5 224.3,266.5 224.4,266.4 224.5,266.3 224.6,266.1 224.7,265.9 224.8,265.7 224.9,265.5 225.0,265.1 225.1,264.8 225.2,264.3 225.3,263.8 225.4,263.2 225.5,262.6 225.6,261.9 225.7,261.1 225.8,260.2 225.9,259.3 226.0,258.3 226.1,257.3 226.2,256.3 226.3,255.3 226.4,254.4 226.5,253.6 226.6,253.0 226.8,252.6 226.9,252.5 227.0,252.6 227.1,253.0 227.2,253.6 227.3,254.4 227.4,255.3 227.5,256.3 227.6,257.3 227.7,258.3 227.8,259.3 227.9,260.2 228.0,261.1 228.1,261.9 228.2,262.6 228.3,263.3 228.4,263.9 228.5,264.4 228.6,264.8 228.7,265.2 228.8,265.5 228.9,265.8 229.0,266.0 229.1,266.2 229.2,266.4 229.3,266.5 229.4,266.6 229.5,266.7 229.6,266.7 229.7,266.8 229.8,266.8 229.9,266.9 230.0,266.9 230.1,266.9 230.2,267.0 230.3,267.0 230.4,267.0 230.5,267.0 230.6,267.0 230.7,267.0 230.8,267.0 230.9,267.1 231.1,267.1 231.2,267.1 231.3,267.1 231.4,267.1 231.5,267.1 231.6,267.1 231.7,267.1 231.8,267.1 231.9,267.1 232.0,267.1 232.1,267.1 232.2,267.1 232.3,267.1 232.4,267.1 232.5,267.1 232.6,267.1 232.7,267.0 232.8,267.0 232.9,267.0 233.0,267.0 233.1,267.0 233.2,267.0 233.3,267.0 233.4,267.0 233.5,266.9 233.6,266.9 233.7,266.9 233.8,266.9 233.9,266.8 234.0,266.8 234.1,266.8 234.2,266.7 234.3,266.7 234.4,266.6 234.5,266.5 234.6,266.5 234.7,266.4 234.8,266.3 234.9,266.1 235.0,265.9 235.1,265.7 235.2,265.5 235.4,265.2 235.5,264.8 235.6,264.4 235.7,263.9 235.8,263.4 235.9,262.7 236.0,262.0 236.1,261.1 236.2,260.2 236.3,259.1 236.4,258.0 236.5,256.8 236.6,255.4 236.7,254.1 236.8,252.6 236.9,251.2 237.0,249.7 237.1,248.4 237.2,247.1 237.3,246.0 237.4,245.1 237.5,244.6 237.6,244.4 237.7,244.6 237.8,245.1 237.9,245.9 238.0,247.0 238.1,248.3 238.2,249.6 238.3,251.0 238.4,252.5 238.5,253.9 238.6,255.2 238.7,256.5 238.8,257.7 238.9,258.8 239.0,259.8 239.1,260.6 239.2,261.3 239.3,262.0 239.4,262.4 239.5,262.8 239.7,263.1 239.8,263.2 239.9,263.2 240.0,263.1 240.1,262.9 240.2,262.6 240.3,262.2 240.4,261.8 240.5,261.3 240.6,260.7 240.7,260.2 240.8,259.7 240.9,259.2 241.0,258.8 241.1,258.6 241.2,258.5 241.3,258.7 241.4,259.0 241.5,259.4 241.6,260.0 241.7,260.6 241.8,261.2 241.9,261.9 242.0,262.5 242.1,263.1 242.2,263.7 242.3,264.2 242.4,264.6 242.5,265.0 242.6,265.4 242.7,265.7 242.8,265.9 242.9,266.2 243.0,266.3 243.1,266.5 243.2,266.6 243.3,266.7 243.4,266.8 243.5,266.8 243.6,266.9 243.7,266.9 243.8,266.9 243.9,267.0 244.1,267.0 244.2,267.0 244.3,267.0 244.4,267.0 244.5,267.0 244.6,267.0 244.7,267.0 244.8,267.0 244.9,267.0 245.0,267.0 245.1,267.0 245.2,267.0 245.3,266.9 245.4,266.9 245.5,266.8 245.6,266.8 245.7,266.7 245.8,266.6 245.9,266.4 246.0,266.3 246.1,266.1 246.2,265.9 246.3,265.7 246.4,265.5 246.5,265.2 246.6,264.9 246.7,264.6 246.8,264.3 246.9,264.1 247.0,263.8 247.1,263.6 247.2,263.5 247.3,263.5 247.4,263.5 247.5,263.6 247.6,263.8 247.7,264.1 247.8,264.4 247.9,264.7 248.0,264.9 248.1,265.2 248.2,265.5 248.4,265.7 248.5,266.0 248.6,266.2 248.7,266.4 248.8,266.5 248.9,266.6 249.0,266.8 249.1,266.8 249.2,266.9 249.3,267.0 249.4,267.0 249.5,267.1 249.6,267.1 249.7,267.1 249.8,267.2 249.9,267.2 250.0,267.2 250.1,267.2 250.2,267.2 250.3,267.2 250.4,267.2 250.5,267.2 250.6,267.2 250.7,267.2 250.8,267.2 250.9,267.2 251.0,267.2 251.1,267.3 251.2,267.3 251.3,267.3 251.4,267.3 251.5,267.3 251.6,267.3 251.7,267.3 251.8,267.3 251.9,267.3 252.0,267.3 252.1,267.3 252.2,267.3 252.3,267.3 252.4,267.3 252.5,267.3 252.7,267.3 252.8,267.3 252.9,267.3 253.0,267.3 253.1,267.3 253.2,267.3 253.3,267.3 253.4,267.3 253.5,267.3 253.6,267.3 253.7,267.3 253.8,267.3 253.9,267.3 254.0,267.2 254.1,267.2 254.2,267.2 254.3,267.2 254.4,267.2 254.5,267.2 254.6,267.2 254.7,267.2 254.8,267.2 254.9,267.2 255.0,267.2 255.1,267.2 255.2,267.2 255.3,267.2 255.4,267.2 255.5,267.2 255.6,267.1 255.7,267.1 255.8,267.1 255.9,267.1 256.0,267.1 256.1,267.0 256.2,267.0 256.3,266.9 256.4,266.9 256.5,266.8 256.6,266.7 256.7,266.6 256.8,266.4 257.0,266.3 257.1,266.1 257.2,265.9 257.3,265.6 257.4,265.4 257.5,265.1 257.6,264.8 257.7,264.4 257.8,264.1 257.9,263.7 258.0,263.4 258.1,263.0 258.2,262.7 258.3,262.4 258.4,262.2 258.5,262.0 258.6,262.0 258.7,262.0 258.8,262.2 258.9,262.4 259.0,262.7 259.1,263.0 259.2,263.4 259.3,263.7 259.4,264.1 259.5,264.4 259.6,264.8 259.7,265.1 259.8,265.4 259.9,265.6 260.0,265.9 260.1,266.1 260.2,266.2 260.3,266.4 260.4,266.5 260.5,266.7 260.6,266.7 260.7,266.8 260.8,266.9 260.9,266.9 261.0,267.0 261.1,267.0 261.2,267.1 261.4,267.1 261.5,267.1 261.6,267.1 261.7,267.1 261.8,267.1 261.9,267.1 262.0,267.1 262.1,267.1 262.2,267.1 262.3,267.2 262.4,267.2 262.5,267.2 262.6,267.2 262.7,267.2 262.8,267.2 262.9,267.2 263.0,267.1 263.1,267.1 263.2,267.1 263.3,267.1 263.4,267.1 263.5,267.1 263.6,267.1 263.7,267.1 263.8,267.1 263.9,267.1 264.0,267.1 264.1,267.1 264.2,267.1 264.3,267.0 264.4,267.0 264.5,267.0 264.6,267.0 264.7,266.9 264.8,266.9 264.9,266.8 265.0,266.8 265.1,266.7 265.2,266.6 265.3,266.6 265.4,266.4 265.5,266.3 265.7,266.1 265.8,265.9 265.9,265.7 266.0,265.4 266.1,265.1 266.2,264.8 266.3,264.4 266.4,263.9 266.5,263.4 266.6,262.9 266.7,262.3 266.8,261.7 266.9,261.0 267.0,260.3 267.1,259.6 267.2,259.0 267.3,258.3 267.4,257.7 267.5,257.2 267.6,256.8 267.7,256.5 267.8,256.4 267.9,256.5 268.0,256.8 268.1,257.2 268.2,257.7 268.3,258.3 268.4,258.9 268.5,259.6 268.6,260.3 268.7,260.9 268.8,261.6 268.9,262.2 269.0,262.7 269.1,263.3 269.2,263.7 269.3,264.2 269.4,264.5 269.5,264.8 269.6,265.1 269.7,265.3 269.8,265.4 270.0,265.5 270.1,265.6 270.2,265.6 270.3,265.5 270.4,265.4 270.5,265.2 270.6,265.0 270.7,264.7 270.8,264.4 270.9,264.0 271.0,263.5 271.1,263.0 271.2,262.5 271.3,262.0 271.4,261.4 271.5,260.9 271.6,260.5 271.7,260.1 271.8,259.8 271.9,259.8 272.0,259.9 272.1,260.1 272.2,260.5 272.3,260.9 272.4,261.5 272.5,262.0 272.6,262.6 272.7,263.1 272.8,263.6 272.9,264.1 273.0,264.5 273.1,264.8 273.2,265.1 273.3,265.4 273.4,265.6 273.5,265.7 273.6,265.8 273.7,265.8 273.8,265.8 273.9,265.8 274.0,265.6 274.1,265.5 274.3,265.2 274.4,265.0 274.5,264.6 274.6,264.3 274.7,263.9 274.8,263.5 274.9,263.1 275.0,262.6 275.1,262.2 275.2,261.9 275.3,261.6 275.4,261.4 275.5,261.3 275.6,261.4 275.7,261.6 275.8,261.9 275.9,262.3 276.0,262.7 276.1,263.1 276.2,263.6 276.3,264.0 276.4,264.4 276.5,264.8 276.6,265.1 276.7,265.4 276.8,265.7 276.9,265.9 277.0,266.1 277.1,266.2 277.2,266.4 277.3,266.4 277.4,266.5 277.5,266.5 277.6,266.6 277.7,266.5 277.8,266.5 277.9,266.5 278.0,266.4 278.1,266.3 278.2,266.1 278.3,266.0 278.4,265.8 278.5,265.6 278.7,265.4 278.8,265.1 278.9,264.8 279.0,264.5 279.1,264.2 279.2,263.9 279.3,263.5 279.4,263.1 279.5,262.8 279.6,262.4 279.7,262.1 279.8,261.8 279.9,261.6 280.0,261.5 280.1,261.4 280.2,261.5 280.3,261.6 280.4,261.8 280.5,262.1 280.6,262.4 280.7,262.8 280.8,263.2 280.9,263.5 281.0,263.9 281.1,264.2 281.2,264.6 281.3,264.9 281.4,265.2 281.5,265.4 281.6,265.7 281.7,265.9 281.8,266.1 281.9,266.2 282.0,266.4 282.1,266.5 282.2,266.6 282.3,266.7 282.4,266.8 282.5,266.8 282.6,266.8 282.7,266.9 282.8,266.9 283.0,266.9 283.1,266.9 283.2,266.9 283.3,266.9 283.4,266.9 283.5,266.9 283.6,266.8 283.7,266.8 283.8,266.7 283.9,266.6 284.0,266.5 284.1,266.4 284.2,266.3 284.3,266.2 284.4,266.0 284.5,265.9 284.6,265.7 284.7,265.5 284.8,265.3 284.9,265.1 285.0,264.9 285.1,264.7 285.2,264.5 285.3,264.3 285.4,264.2 285.5,264.1 285.6,264.0 285.7,264.0 285.8,264.0 285.9,264.1 286.0,264.2 286.1,264.3 286.2,264.5 286.3,264.7 286.4,264.9 286.5,265.1 286.6,265.3 286.7,265.5 286.8,265.7 286.9,265.9 287.0,266.1 287.1,266.2 287.3,266.4 287.4,266.5 287.5,266.6 287.6,266.7 287.7,266.8 287.8,266.8 287.9,266.9 288.0,266.9 288.1,267.0 288.2,267.0 288.3,267.0 288.4,267.0 288.5,267.0 288.6,267.1 288.7,267.1 288.8,267.1 288.9,267.1 289.0,267.1 289.1,267.0 289.2,267.0 289.3,267.0 289.4,267.0 289.5,266.9 289.6,266.9 289.7,266.8 289.8,266.8 289.9,266.7 290.0,266.6 290.1,266.5 290.2,266.4 290.3,266.2 290.4,266.1 290.5,265.9 290.6,265.7 290.7,265.5 290.8,265.3 290.9,265.1 291.0,264.8 291.1,264.6 291.2,264.3 291.3,264.1 291.4,263.9 291.6,263.7 291.7,263.6 291.8,263.5 291.9,263.5 292.0,263.5 292.1,263.6 292.2,263.7 292.3,263.9 292.4,264.1 292.5,264.3 292.6,264.6 292.7,264.8 292.8,265.0 292.9,265.3 293.0,265.5 293.1,265.7 293.2,265.9 293.3,266.0 293.4,266.2 293.5,266.3 293.6,266.4 293.7,266.5 293.8,266.6 293.9,266.7 294.0,266.8 294.1,266.8 294.2,266.9 294.3,266.9 294.4,266.9 294.5,266.9 294.6,267.0 294.7,267.0 294.8,267.0 294.9,267.0 295.0,266.9 295.1,266.9 295.2,266.9 295.3,266.9 295.4,266.9 295.5,266.8 295.6,266.8 295.7,266.7 295.8,266.7 296.0,266.6 296.1,266.5 296.2,266.4 296.3,266.3 296.4,266.1 296.5,265.9 296.6,265.7 296.7,265.5 296.8,265.2 296.9,264.9 297.0,264.5 297.1,264.2 297.2,263.8 297.3,263.3 297.4,262.9 297.5,262.4 297.6,261.9 297.7,261.3 297.8,260.8 297.9,260.3 298.0,259.8 298.1,259.4 298.2,259.0 298.3,258.7 298.4,258.5 298.5,258.4 298.6,258.5 298.7,258.7 298.8,259.0 298.9,259.3 299.0,259.8 299.1,260.3 299.2,260.8 299.3,261.3 299.4,261.8 299.5,262.3 299.6,262.8 299.7,263.2 299.8,263.7 299.9,264.0 300.0,264.4 300.1,264.7 300.3,265.0 300.4,265.2 300.5,265.4 300.6,265.6 300.7,265.7 300.8,265.7 300.9,265.8 301.0,265.8 301.1,265.8 301.2,265.7 301.3,265.6 301.4,265.5 301.5,265.4 301.6,265.2 301.7,265.1 301.8,264.9 301.9,264.7 302.0,264.5 302.1,264.4 302.2,264.2 302.3,264.0 302.4,263.9 302.5,263.9 302.6,263.8 302.7,263.9 302.8,264.0 302.9,264.1 303.0,264.3 303.1,264.5 303.2,264.7 303.3,264.9 303.4,265.1 303.5,265.3 303.6,265.5 303.7,265.7 303.8,265.9 303.9,266.1 304.0,266.2 304.1,266.3 304.2,266.5 304.3,266.6 304.4,266.7 304.6,266.8 304.7,266.8 304.8,266.9 304.9,267.0 305.0,267.0 305.1,267.0 305.2,267.1 305.3,267.1 305.4,267.1 305.5,267.1 305.6,267.1 305.7,267.2 305.8,267.2 305.9,267.2 306.0,267.2 306.1,267.2 306.2,267.2 306.3,267.2 306.4,267.2 306.5,267.2 306.6,267.2 306.7,267.2 306.8,267.2 306.9,267.2 307.0,267.2 307.1,267.2 307.2,267.2 307.3,267.2 307.4,267.2 307.5,267.2 307.6,267.2 307.7,267.2 307.8,267.2 307.9,267.2 308.0,267.2 308.1,267.2 308.2,267.2 308.3,267.2 308.4,267.2 308.5,267.2 308.6,267.2 308.7,267.2 308.9,267.2 309.0,267.2 309.1,267.2 309.2,267.2 309.3,267.2 309.4,267.2 309.5,267.2 309.6,267.2 309.7,267.2 309.8,267.2 309.9,267.2 310.0,267.2 310.1,267.2 310.2,267.2 310.3,267.2 310.4,267.2 310.5,267.2 310.6,267.1 310.7,267.1 310.8,267.1 310.9,267.1 311.0,267.0 311.1,267.0 311.2,267.0 311.3,266.9 311.4,266.9 311.5,266.8 311.6,266.8 311.7,266.7 311.8,266.7 311.9,266.6 312.0,266.5 312.1,266.4 312.2,266.4 312.3,266.3 312.4,266.2 312.5,266.1 312.6,266.0 312.7,265.8 312.8,265.7 312.9,265.6 313.0,265.5 313.1,265.4 313.3,265.3 313.4,265.2 313.5,265.1 313.6,265.1 313.7,265.0 313.8,265.0 313.9,265.0 314.0,265.0 314.1,265.0 314.2,265.1 314.3,265.1 314.4,265.2 314.5,265.3 314.6,265.4 314.7,265.5 314.8,265.6 314.9,265.7 315.0,265.8 315.1,265.9 315.2,266.0 315.3,266.1 315.4,266.2 315.5,266.3 315.6,266.4 315.7,266.5 315.8,266.6 315.9,266.6 316.0,266.7 316.1,266.8 316.2,266.8 316.3,266.9 316.4,266.9 316.5,266.9 316.6,267.0 316.7,267.0 316.8,267.0 316.9,267.0 317.0,267.0 317.1,267.1 317.2,267.1 317.3,267.1 317.4,267.1 317.6,267.1 317.7,267.1 317.8,267.1 317.9,267.1 318.0,267.1 318.1,267.0 318.2,267.0 318.3,267.0 318.4,267.0 318.5,267.0 318.6,266.9 318.7,266.9 318.8,266.8 318.9,266.8 319.0,266.7 319.1,266.7 319.2,266.6 319.3,266.5 319.4,266.5 319.5,266.4 319.6,266.3 319.7,266.1 319.8,266.0 319.9,265.9 320.0,265.8 320.1,265.6 320.2,265.5 320.3,265.3 320.4,265.2 320.5,265.0 320.6,264.9 320.7,264.7 320.8,264.6 320.9,264.4 321.0,264.3 321.1,264.2 321.2,264.1 321.3,264.0 321.4,263.9 321.5,263.9 321.6,263.9 321.7,264.0 321.9,264.0 322.0,264.1 322.1,264.2 322.2,264.4 322.3,264.5 322.4,264.6 322.5,264.8 322.6,264.9 322.7,265.1 322.8,265.2 322.9,265.4 323.0,265.5 323.1,265.6 323.2,265.7 323.3,265.8 323.4,265.9 323.5,266.0 323.6,266.0 323.7,266.0 323.8,266.1 323.9,266.1 324.0,266.1 324.1,266.0 324.2,266.0 324.3,265.9 324.4,265.8 324.5,265.7 324.6,265.6 324.7,265.5 324.8,265.3 324.9,265.1 325.0,265.0 325.1,264.8 325.2,264.6 325.3,264.4 325.4,264.2 325.5,264.0 325.6,263.8 325.7,263.7 325.8,263.5 325.9,263.4 326.0,263.4 326.2,263.3 326.3,263.4 326.4,263.4 326.5,263.5 326.6,263.7 326.7,263.8 326.8,264.0 326.9,264.2 327.0,264.4 327.1,264.6 327.2,264.8 327.3,265.0 327.4,265.2 327.5,265.3 327.6,265.5 327.7,265.6 327.8,265.7 327.9,265.9 328.0,265.9 328.1,266.0 328.2,266.1 328.3,266.1 328.4,266.1 328.5,266.1 328.6,266.1 328.7,266.0 328.8,265.9 328.9,265.8 329.0,265.7 329.1,265.6 329.2,265.4 329.3,265.3 329.4,265.1 329.5,264.9 329.6,264.7 329.7,264.5 329.8,264.2 329.9,264.0 330.0,263.8 330.1,263.6 330.2,263.4 330.3,263.2 330.4,263.0 330.6,262.9 330.7,262.8 330.8,262.8 330.9,262.8 331.0,262.8 331.1,262.9 331.2,263.1 331.3,263.2 331.4,263.4 331.5,263.6 331.6,263.8 331.7,264.0 331.8,264.2 331.9,264.4 332.0,264.5 332.1,264.7 332.2,264.8 332.3,264.9 332.4,265.0 332.5,265.0 332.6,265.0 332.7,265.0 332.8,265.0 332.9,264.9 333.0,264.9 333.1,264.8 333.2,264.6 333.3,264.5 333.4,264.3 333.5,264.1 333.6,263.9 333.7,263.7 333.8,263.5 333.9,263.2 334.0,263.0 334.1,262.8 334.2,262.6 334.3,262.4 334.4,262.2 334.5,262.0 334.6,261.9 334.7,261.9 334.9,261.8 335.0,261.9 335.1,261.9 335.2,262.1 335.3,262.2 335.4,262.4 335.5,262.6 335.6,262.8 335.7,263.0 335.8,263.3 335.9,263.5 336.0,263.7 336.1,264.0 336.2,264.2 336.3,264.4 336.4,264.5 336.5,264.7 336.6,264.8 336.7,264.9 336.8,265.0 336.9,265.1 337.0,265.1 337.1,265.1 337.2,265.1 337.3,265.1 337.4,265.0 337.5,264.9 337.6,264.8 337.7,264.7 337.8,264.6 337.9,264.5 338.0,264.4 338.1,264.3 338.2,264.3 338.3,264.2 338.4,264.2 338.5,264.3 338.6,264.4 338.7,264.5 338.8,264.6 338.9,264.8 339.0,265.0 339.2,265.2 339.3,265.4 339.4,265.5 339.5,265.7 339.6,265.9 339.7,266.0 339.8,266.2 339.9,266.3 340.0,266.5 340.1,266.6 340.2,266.7 340.3,266.7 340.4,266.8 340.5,266.9 340.6,266.9 340.7,267.0 340.8,267.0 340.9,267.1 341.0,267.1 341.1,267.1 341.2,267.1 341.3,267.1 341.4,267.2 341.5,267.2 341.6,267.2 341.7,267.2 341.8,267.2 341.9,267.2 342.0,267.2 342.1,267.2 342.2,267.2 342.3,267.2 342.4,267.2 342.5,267.2 342.6,267.2 342.7,267.2 342.8,267.2 342.9,267.2 343.0,267.2 343.1,267.3 343.2,267.3 343.3,267.3 343.5,267.3 343.6,267.3 343.7,267.3 343.8,267.3 343.9,267.3 344.0,267.3 344.1,267.3 344.2,267.3 344.3,267.3 344.4,267.3 344.5,267.3 344.6,267.3 344.7,267.3 344.8,267.3 344.9,267.3 345.0,267.3 345.1,267.3 345.2,267.3 345.3,267.3 345.4,267.3 345.5,267.3 345.6,267.3" fill="none" stroke="#ff0808" stroke-width="1.85" stroke-linejoin="round"/>
<circle cx="56.4" cy="179.7" r="1.9" fill="#fff" stroke="#222" stroke-width="1"/>
<circle cx="91.0" cy="82.7" r="1.9" fill="#fff" stroke="#222" stroke-width="1"/>
<circle cx="103.5" cy="138.2" r="1.9" fill="#fff" stroke="#222" stroke-width="1"/>
<circle cx="155.2" cy="138.2" r="1.9" fill="#fff" stroke="#222" stroke-width="1"/>
<polyline points="38.5,279.8 38.7,279.9 38.9,279.8 39.1,279.9 39.3,280.0 39.5,279.7 39.7,279.7 39.9,280.0 40.1,279.8 40.3,279.8 40.5,280.1 40.8,279.9 41.0,280.0 41.2,279.9 41.4,280.0 41.6,279.8 41.8,280.0 42.0,280.0 42.2,279.9 42.4,280.0 42.6,280.0 42.8,279.7 43.0,280.0 43.2,279.9 43.4,279.8 43.6,279.7 43.8,280.0 44.0,279.9 44.2,280.0 44.4,280.1 44.6,280.0 44.8,280.1 45.1,279.9 45.3,280.0 45.5,279.9 45.7,280.1 45.9,280.1 46.1,279.7 46.3,279.8 46.5,279.8 46.7,280.1 46.9,279.9 47.1,280.0 47.3,279.8 47.5,279.9 47.7,279.9 47.9,279.8 48.1,279.9 48.3,279.9 48.5,280.1 48.7,280.0 48.9,280.1 49.1,280.0 49.4,280.1 49.6,280.0 49.8,279.8 50.0,280.0 50.2,280.1 50.4,280.1 50.6,279.9 50.8,280.0 51.0,279.8 51.2,280.0 51.4,279.9 51.6,279.8 51.8,279.7 52.0,280.0 52.2,280.1 52.4,279.7 52.6,280.0 52.8,279.9 53.0,279.8 53.2,279.8 53.4,280.0 53.7,280.0 53.9,279.7 54.1,279.9 54.3,279.7 54.5,280.0 54.7,279.9 54.9,280.1 55.1,280.0 55.3,279.5 55.5,279.2 55.7,278.6 55.9,278.9 56.1,280.2 56.3,281.4 56.5,282.3 56.7,282.2 56.9,281.3 57.1,280.1 57.3,279.4 57.5,279.7 57.7,279.6 57.9,280.0 58.2,280.0 58.4,279.9 58.6,279.9 58.8,279.9 59.0,280.0 59.2,279.9 59.4,279.9 59.6,279.9 59.8,280.1 60.0,279.9 60.2,279.9 60.4,280.0 60.6,279.8 60.8,279.8 61.0,280.1 61.2,279.9 61.4,279.9 61.6,279.7 61.8,279.9 62.0,279.9 62.2,279.7 62.5,279.9 62.7,280.0 62.9,279.7 63.1,280.0 63.3,279.9 63.5,280.0 63.7,279.8 63.9,280.0 64.1,280.0 64.3,279.7 64.5,279.7 64.7,280.0 64.9,280.1 65.1,279.8 65.3,279.9 65.5,279.9 65.7,279.8 65.9,279.8 66.1,279.8 66.3,279.8 66.5,279.9 66.8,279.8 67.0,279.9 67.2,280.0 67.4,279.7 67.6,279.9 67.8,280.0 68.0,279.8 68.2,279.8 68.4,280.0 68.6,279.8 68.8,279.8 69.0,279.9 69.2,280.0 69.4,279.7 69.6,279.8 69.8,279.8 70.0,280.0 70.2,279.9 70.4,280.0 70.6,279.8 70.8,279.8 71.1,280.0 71.3,280.1 71.5,279.9 71.7,279.8 71.9,279.7 72.1,279.9 72.3,279.8 72.5,280.0 72.7,280.0 72.9,279.8 73.1,279.8 73.3,280.0 73.5,280.0 73.7,280.0 73.9,279.8 74.1,279.8 74.3,279.8 74.5,280.0 74.7,279.8 74.9,279.8 75.1,279.9 75.4,279.9 75.6,279.9 75.8,280.1 76.0,279.8 76.2,279.7 76.4,280.1 76.6,280.1 76.8,280.1 77.0,279.9 77.2,280.1 77.4,280.1 77.6,279.8 77.8,280.0 78.0,280.0 78.2,280.0 78.4,279.9 78.6,279.8 78.8,279.8 79.0,279.8 79.2,279.7 79.4,279.9 79.7,279.8 79.9,280.0 80.1,279.7 80.3,280.1 80.5,280.0 80.7,280.1 80.9,280.1 81.1,280.1 81.3,279.9 81.5,279.7 81.7,280.0 81.9,279.8 82.1,279.8 82.3,280.0 82.5,279.9 82.7,279.9 82.9,280.1 83.1,279.9 83.3,279.8 83.5,279.8 83.7,280.0 84.0,279.9 84.2,280.0 84.4,279.8 84.6,279.8 84.8,279.9 85.0,280.0 85.2,279.8 85.4,280.0 85.6,280.1 85.8,280.0 86.0,280.0 86.2,279.7 86.4,280.0 86.6,280.0 86.8,279.7 87.0,279.8 87.2,279.8 87.4,279.9 87.6,279.9 87.8,279.9 88.0,280.0 88.3,279.7 88.5,279.7 88.7,279.8 88.9,279.8 89.1,279.7 89.3,280.1 89.5,279.9 89.7,279.3 89.9,279.0 90.1,278.6 90.3,278.9 90.5,280.3 90.7,282.3 90.9,283.7 91.1,283.6 91.3,282.1 91.5,280.4 91.7,279.1 91.9,279.0 92.1,279.4 92.3,279.6 92.5,279.7 92.8,279.8 93.0,279.8 93.2,279.8 93.4,279.7 93.6,279.5 93.8,280.0 94.0,280.7 94.2,281.6 94.4,282.0 94.6,281.7 94.8,280.7 95.0,279.5 95.2,279.1 95.4,279.0 95.6,279.2 95.8,279.7 96.0,280.2 96.2,280.5 96.4,281.1 96.6,281.2 96.8,280.9 97.1,280.1 97.3,279.2 97.5,279.2 97.7,279.4 97.9,279.5 98.1,279.8 98.3,279.8 98.5,280.1 98.7,280.0 98.9,280.1 99.1,280.0 99.3,280.0 99.5,280.0 99.7,279.9 99.9,279.7 100.1,279.9 100.3,279.7 100.5,279.8 100.7,280.0 100.9,279.7 101.1,279.7 101.4,279.7 101.6,280.0 101.8,279.7 102.0,279.7 102.2,280.1 102.4,280.2 102.6,281.1 102.8,281.6 103.0,281.5 103.2,280.5 103.4,278.6 103.6,277.3 103.8,276.8 104.0,278.0 104.2,279.1 104.4,280.1 104.6,280.1 104.8,280.3 105.0,280.2 105.2,279.8 105.4,279.8 105.7,279.9 105.9,280.0 106.1,279.8 106.3,279.8 106.5,279.8 106.7,279.9 106.9,280.0 107.1,279.9 107.3,279.8 107.5,279.9 107.7,279.8 107.9,279.9 108.1,279.7 108.3,279.9 108.5,280.1 108.7,279.9 108.9,280.0 109.1,279.8 109.3,280.0 109.5,280.0 109.7,280.0 110.0,279.9 110.2,279.9 110.4,280.0 110.6,280.1 110.8,279.8 111.0,279.7 111.2,280.0 111.4,280.1 111.6,279.9 111.8,279.9 112.0,280.0 112.2,279.8 112.4,279.8 112.6,279.8 112.8,279.9 113.0,279.8 113.2,279.8 113.4,280.0 113.6,280.1 113.8,279.8 114.0,280.0 114.3,279.9 114.5,280.0 114.7,279.9 114.9,279.8 115.1,279.8 115.3,279.7 115.5,279.9 115.7,279.9 115.9,279.8 116.1,279.8 116.3,279.8 116.5,280.0 116.7,279.8 116.9,280.1 117.1,279.9 117.3,279.9 117.5,279.9 117.7,280.0 117.9,280.0 118.1,279.9 118.3,279.9 118.6,280.0 118.8,280.0 119.0,279.9 119.2,280.0 119.4,280.1 119.6,279.9 119.8,279.8 120.0,279.8 120.2,280.0 120.4,280.0 120.6,280.1 120.8,280.0 121.0,279.8 121.2,279.8 121.4,279.8 121.6,279.8 121.8,280.0 122.0,280.0 122.2,280.1 122.4,279.8 122.6,280.0 122.9,279.8 123.1,279.9 123.3,280.0 123.5,279.7 123.7,279.7 123.9,280.0 124.1,279.8 124.3,279.8 124.5,279.9 124.7,280.0 124.9,279.7 125.1,279.8 125.3,279.9 125.5,279.8 125.7,279.6 125.9,279.7 126.1,279.9 126.3,280.0 126.5,280.7 126.7,281.2 126.9,281.4 127.1,281.0 127.4,279.9 127.6,279.6 127.8,279.4 128.0,279.2 128.2,279.8 128.4,279.8 128.6,280.0 128.8,280.0 129.0,279.8 129.2,280.0 129.4,280.0 129.6,280.0 129.8,279.8 130.0,280.0 130.2,280.1 130.4,280.0 130.6,279.9 130.8,279.7 131.0,279.9 131.2,279.8 131.4,280.0 131.7,280.0 131.9,279.9 132.1,279.8 132.3,280.0 132.5,280.0 132.7,279.8 132.9,280.1 133.1,280.0 133.3,279.7 133.5,280.1 133.7,279.8 133.9,279.8 134.1,280.0 134.3,279.9 134.5,279.9 134.7,280.0 134.9,279.9 135.1,279.8 135.3,279.8 135.5,279.7 135.7,280.0 136.0,280.0 136.2,279.9 136.4,280.0 136.6,279.8 136.8,279.8 137.0,279.8 137.2,280.0 137.4,279.8 137.6,280.2 137.8,280.3 138.0,280.7 138.2,280.3 138.4,279.5 138.6,278.4 138.8,277.8 139.0,278.0 139.2,278.7 139.4,279.9 139.6,280.1 139.8,280.3 140.0,280.0 140.3,279.9 140.5,280.0 140.7,280.0 140.9,279.8 141.1,279.8 141.3,279.9 141.5,280.0 141.7,280.0 141.9,280.0 142.1,279.9 142.3,279.8 142.5,279.9 142.7,279.8 142.9,279.9 143.1,279.9 143.3,279.8 143.5,279.8 143.7,280.0 143.9,279.7 144.1,280.0 144.3,280.1 144.6,280.1 144.8,279.9 145.0,279.9 145.2,279.9 145.4,280.0 145.6,280.1 145.8,280.0 146.0,279.8 146.2,280.0 146.4,279.9 146.6,279.9 146.8,280.0 147.0,279.7 147.2,280.0 147.4,280.0 147.6,279.9 147.8,279.9 148.0,279.9 148.2,279.8 148.4,279.9 148.6,279.7 148.9,279.9 149.1,280.0 149.3,279.9 149.5,279.9 149.7,280.1 149.9,280.1 150.1,279.8 150.3,280.0 150.5,279.9 150.7,279.7 150.9,279.8 151.1,279.8 151.3,279.7 151.5,279.9 151.7,280.1 151.9,279.8 152.1,280.0 152.3,280.0 152.5,279.8 152.7,280.0 152.9,279.9 153.2,280.1 153.4,280.0 153.6,280.0 153.8,279.7 154.0,279.6 154.2,279.3 154.4,279.0 154.6,279.3 154.8,280.7 155.0,282.2 155.2,283.0 155.4,282.7 155.6,281.3 155.8,279.9 156.0,279.1 156.2,279.2 156.4,279.5 156.6,279.7 156.8,279.8 157.0,280.0 157.2,279.8 157.5,279.9 157.7,280.0 157.9,279.8 158.1,279.6 158.3,279.8 158.5,280.0 158.7,280.3 158.9,281.0 159.1,281.5 159.3,281.3 159.5,280.4 159.7,279.5 159.9,279.1 160.1,279.4 160.3,279.4 160.5,279.7 160.7,279.8 160.9,279.8 161.1,279.8 161.3,279.9 161.5,279.8 161.7,279.7 162.0,279.7 162.2,279.8 162.4,279.9 162.6,279.7 162.8,279.7 163.0,279.9 163.2,279.9 163.4,280.0 163.6,279.7 163.8,279.9 164.0,279.9 164.2,279.7 164.4,280.1 164.6,279.8 164.8,279.7 165.0,279.9 165.2,279.7 165.4,279.9 165.6,279.8 165.8,280.0 166.0,280.3 166.3,281.0 166.5,280.9 166.7,280.5 166.9,279.4 167.1,278.7 167.3,278.1 167.5,278.5 167.7,279.2 167.9,280.0 168.1,280.1 168.3,280.0 168.5,279.8 168.7,280.0 168.9,280.1 169.1,279.9 169.3,279.7 169.5,279.7 169.7,279.7 169.9,279.8 170.1,279.7 170.3,279.7 170.6,280.0 170.8,280.1 171.0,279.8 171.2,280.1 171.4,279.9 171.6,280.1 171.8,280.2 172.0,280.4 172.2,280.1 172.4,280.0 172.6,279.5 172.8,278.9 173.0,278.1 173.2,278.3 173.4,279.2 173.6,279.7 173.8,280.3 174.0,280.3 174.2,280.3 174.4,280.2 174.6,279.8 174.9,280.0 175.1,280.0 175.3,280.0 175.5,279.9 175.7,280.1 175.9,279.8 176.1,279.9 176.3,279.8 176.5,280.0 176.7,279.9 176.9,279.8 177.1,279.8 177.3,280.0 177.5,279.9 177.7,280.0 177.9,279.9 178.1,279.9 178.3,279.8 178.5,280.0 178.7,279.7 178.9,279.9 179.2,280.0 179.4,280.0 179.6,279.7 179.8,279.8 180.0,280.0 180.2,280.0 180.4,280.1 180.6,280.0 180.8,279.9 181.0,280.1 181.2,280.0 181.4,279.8 181.6,279.8 181.8,279.7 182.0,279.9 182.2,280.1 182.4,279.7 182.6,279.9 182.8,279.7 183.0,279.7 183.2,280.0 183.5,279.8 183.7,279.7 183.9,279.8 184.1,280.0 184.3,279.9 184.5,279.7 184.7,279.8 184.9,280.1 185.1,279.8 185.3,279.9 185.5,279.9 185.7,280.0 185.9,279.9 186.1,280.0 186.3,279.9 186.5,279.8 186.7,279.8 186.9,279.7 187.1,280.0 187.3,279.7 187.5,279.7 187.8,280.1 188.0,279.8 188.2,280.1 188.4,279.7 188.6,279.9 188.8,279.8 189.0,280.0 189.2,279.9 189.4,280.0 189.6,280.0 189.8,280.0 190.0,279.8 190.2,279.9 190.4,279.9 190.6,279.7 190.8,280.0 191.0,279.9 191.2,280.0 191.4,279.8 191.6,279.9 191.8,279.9 192.0,280.0 192.3,279.7 192.5,279.8 192.7,279.9 192.9,279.7 193.1,279.9 193.3,280.0 193.5,279.9 193.7,280.0 193.9,279.9 194.1,279.8 194.3,279.8 194.5,280.1 194.7,279.8 194.9,279.9 195.1,279.7 195.3,279.8 195.5,279.8 195.7,280.1 195.9,280.0 196.1,280.0 196.3,280.1 196.6,279.9 196.8,280.1 197.0,279.9 197.2,279.9 197.4,280.1 197.6,280.0 197.8,280.1 198.0,280.0 198.2,280.4 198.4,280.7 198.6,281.2 198.8,280.9 199.0,279.8 199.2,279.0 199.4,278.1 199.6,278.2 199.8,279.0 200.0,279.5 200.2,280.0 200.4,280.1 200.6,279.8 200.9,280.1 201.1,279.8 201.3,279.9 201.5,279.8 201.7,280.0 201.9,280.0 202.1,279.8 202.3,279.7 202.5,279.8 202.7,279.9 202.9,279.7 203.1,279.8 203.3,280.0 203.5,280.0 203.7,280.1 203.9,280.1 204.1,280.1 204.3,279.8 204.5,279.8 204.7,279.8 204.9,279.9 205.2,279.9 205.4,279.9 205.6,279.8 205.8,280.0 206.0,279.8 206.2,279.9 206.4,280.1 206.6,280.0 206.8,279.8 207.0,279.8 207.2,280.0 207.4,279.7 207.6,279.8 207.8,279.9 208.0,279.9 208.2,279.8 208.4,279.7 208.6,279.8 208.8,280.0 209.0,279.9 209.2,280.1 209.5,280.0 209.7,280.1 209.9,279.7 210.1,279.8 210.3,279.7 210.5,279.9 210.7,279.8 210.9,279.7 211.1,279.9 211.3,279.7 211.5,279.8 211.7,279.8 211.9,280.0 212.1,279.9 212.3,279.8 212.5,279.7 212.7,279.9 212.9,280.0 213.1,280.0 213.3,280.1 213.5,280.0 213.8,279.8 214.0,279.8 214.2,280.0 214.4,280.0 214.6,279.9 214.8,280.0 215.0,279.9 215.2,279.8 215.4,279.8 215.6,279.7 215.8,280.0 216.0,280.1 216.2,280.1 216.4,279.9 216.6,280.0 216.8,280.1 217.0,280.0 217.2,279.9 217.4,279.9 217.6,279.9 217.8,279.8 218.1,279.8 218.3,280.0 218.5,280.1 218.7,279.9 218.9,279.9 219.1,279.8 219.3,279.9 219.5,280.0 219.7,279.9 219.9,280.1 220.1,279.8 220.3,279.8 220.5,279.9 220.7,279.9 220.9,280.0 221.1,280.0 221.3,280.1 221.5,279.9 221.7,279.7 221.9,279.9 222.1,279.9 222.4,279.9 222.6,279.8 222.8,280.0 223.0,280.1 223.2,279.7 223.4,280.0 223.6,279.8 223.8,279.9 224.0,280.1 224.2,280.1 224.4,280.0 224.6,279.8 224.8,280.1 225.0,279.8 225.2,279.9 225.4,280.0 225.6,279.8 225.8,279.8 226.0,280.1 226.2,280.1 226.4,279.8 226.6,279.9 226.9,279.8 227.1,279.8 227.3,279.8 227.5,280.1 227.7,279.7 227.9,279.8 228.1,279.8 228.3,279.7 228.5,279.9 228.7,280.0 228.9,280.0 229.1,280.0 229.3,280.0 229.5,279.7 229.7,279.8 229.9,280.1 230.1,279.7 230.3,279.8 230.5,279.9 230.7,279.8 230.9,279.9 231.2,279.7 231.4,279.8 231.6,280.1 231.8,279.8 232.0,280.1 232.2,279.8 232.4,280.1 232.6,280.0 232.8,280.0 233.0,279.8 233.2,279.7 233.4,280.0 233.6,279.8 233.8,279.8 234.0,280.0 234.2,280.0 234.4,279.7 234.6,280.1 234.8,279.9 235.0,279.9 235.2,279.7 235.5,279.9 235.7,280.1 235.9,279.8 236.1,279.8 236.3,279.9 236.5,280.0 236.7,280.1 236.9,280.2 237.1,279.4 237.3,278.8 237.5,278.7 237.7,278.9 237.9,279.5 238.1,279.8 238.3,280.2 238.5,280.5 238.7,280.2 238.9,280.1 239.1,279.8 239.3,279.7 239.5,279.8 239.8,280.0 240.0,280.0 240.2,279.9 240.4,279.9 240.6,279.9 240.8,279.9 241.0,279.9 241.2,280.0 241.4,279.8 241.6,279.9 241.8,280.1 242.0,280.0 242.2,279.8 242.4,280.1 242.6,280.0 242.8,279.8 243.0,279.8 243.2,279.8 243.4,279.7 243.6,280.1 243.8,279.9 244.1,280.0 244.3,279.7 244.5,279.7 244.7,280.0 244.9,280.0 245.1,280.1 245.3,280.0 245.5,279.9 245.7,280.0 245.9,279.7 246.1,279.9 246.3,279.9 246.5,279.8 246.7,279.9 246.9,279.8 247.1,279.9 247.3,279.8 247.5,279.8 247.7,279.8 247.9,279.9 248.1,280.1 248.4,280.1 248.6,280.0 248.8,280.0 249.0,279.8 249.2,280.1 249.4,279.8 249.6,279.7 249.8,279.9 250.0,280.0 250.2,279.8 250.4,280.0 250.6,279.8 250.8,280.1 251.0,279.9 251.2,279.9 251.4,279.9 251.6,280.0 251.8,280.1 252.0,279.9 252.2,279.9 252.4,279.9 252.7,279.7 252.9,279.9 253.1,280.0 253.3,280.0 253.5,279.7 253.7,280.0 253.9,279.9 254.1,280.1 254.3,279.8 254.5,279.8 254.7,279.9 254.9,280.1 255.1,279.9 255.3,280.0 255.5,280.0 255.7,279.8 255.9,279.8 256.1,279.9 256.3,279.9 256.5,279.8 256.7,280.0 257.0,280.1 257.2,279.9 257.4,279.8 257.6,279.8 257.8,279.8 258.0,279.9 258.2,279.8 258.4,279.7 258.6,279.8 258.8,279.8 259.0,279.7 259.2,279.9 259.4,280.1 259.6,279.9 259.8,280.0 260.0,280.0 260.2,280.0 260.4,280.1 260.6,279.9 260.8,280.0 261.0,279.7 261.2,280.1 261.5,279.9 261.7,279.9 261.9,280.1 262.1,279.8 262.3,279.8 262.5,280.0 262.7,279.9 262.9,279.7 263.1,279.7 263.3,279.8 263.5,279.7 263.7,280.0 263.9,279.8 264.1,279.8 264.3,279.9 264.5,279.9 264.7,279.9 264.9,280.0 265.1,280.0 265.3,279.9 265.5,279.7 265.8,280.1 266.0,280.0 266.2,279.7 266.4,279.9 266.6,280.0 266.8,280.1 267.0,279.7 267.2,279.7 267.4,279.9 267.6,279.9 267.8,280.1 268.0,280.0 268.2,279.8 268.4,279.9 268.6,279.9 268.8,280.1 269.0,279.8 269.2,279.9 269.4,279.7 269.6,280.0 269.8,279.7 270.1,280.1 270.3,279.9 270.5,279.9 270.7,279.7 270.9,279.8 271.1,279.9 271.3,280.0 271.5,279.9 271.7,279.8 271.9,280.1 272.1,280.0 272.3,279.9 272.5,279.8 272.7,279.8 272.9,280.1 273.1,279.8 273.3,279.9 273.5,279.9 273.7,279.8 273.9,280.0 274.1,280.1 274.4,280.0 274.6,280.0 274.8,279.8 275.0,279.7 275.2,279.9 275.4,279.8 275.6,279.8 275.8,280.0 276.0,279.8 276.2,280.0 276.4,280.1 276.6,279.7 276.8,280.1 277.0,279.9 277.2,279.8 277.4,279.8 277.6,279.7 277.8,279.9 278.0,279.9 278.2,280.0 278.4,280.0 278.7,279.7 278.9,279.9 279.1,279.9 279.3,279.8 279.5,279.8 279.7,279.8 279.9,280.0 280.1,279.8 280.3,279.7 280.5,279.8 280.7,279.9 280.9,279.9 281.1,279.8 281.3,280.0 281.5,279.8 281.7,280.0 281.9,279.9 282.1,279.8 282.3,280.0 282.5,279.9 282.7,279.9 283.0,279.9 283.2,280.0 283.4,279.9 283.6,279.7 283.8,280.0 284.0,280.0 284.2,279.9 284.4,279.9 284.6,279.8 284.8,280.1 285.0,280.0 285.2,279.8 285.4,280.0 285.6,280.1 285.8,279.8 286.0,280.1 286.2,279.9 286.4,279.8 286.6,280.0 286.8,279.8 287.0,280.0 287.3,279.9 287.5,279.7 287.7,279.9 287.9,280.0 288.1,279.9 288.3,279.9 288.5,280.0 288.7,279.9 288.9,279.9 289.1,279.9 289.3,280.0 289.5,279.8 289.7,279.7 289.9,280.0 290.1,279.9 290.3,279.8 290.5,280.1 290.7,280.1 290.9,279.9 291.1,280.1 291.3,280.0 291.6,280.0 291.8,279.8 292.0,279.7 292.2,280.0 292.4,280.0 292.6,279.8 292.8,279.9 293.0,279.9 293.2,279.8 293.4,280.0 293.6,279.9 293.8,279.9 294.0,279.7 294.2,279.9 294.4,279.8 294.6,280.0 294.8,279.8 295.0,279.9 295.2,279.8 295.4,279.9 295.6,279.9 295.8,279.7 296.1,279.7 296.3,279.9 296.5,279.8 296.7,279.9 296.9,279.8 297.1,279.7 297.3,279.9 297.5,280.1 297.7,280.0 297.9,279.9 298.1,279.9 298.3,279.7 298.5,279.8 298.7,279.8 298.9,280.1 299.1,279.7 299.3,280.1 299.5,279.9 299.7,279.9 299.9,279.8 300.1,280.1 300.4,279.8 300.6,279.9 300.8,279.9 301.0,279.8 301.2,279.8 301.4,280.1 301.6,280.0 301.8,280.0 302.0,280.1 302.2,279.7 302.4,280.0 302.6,280.0 302.8,279.8 303.0,279.9 303.2,280.1 303.4,279.8 303.6,280.0 303.8,279.8 304.0,280.0 304.2,279.8 304.4,279.9 304.7,279.8 304.9,280.0 305.1,280.0 305.3,279.9 305.5,280.0 305.7,279.9 305.9,280.0 306.1,279.8 306.3,279.9 306.5,279.9 306.7,279.9 306.9,279.7 307.1,279.8 307.3,280.0 307.5,279.8 307.7,280.0 307.9,279.9 308.1,280.1 308.3,280.0 308.5,280.0 308.7,279.8 309.0,279.7 309.2,279.9 309.4,280.0 309.6,280.1 309.8,279.8 310.0,279.8 310.2,280.1 310.4,280.0 310.6,279.9 310.8,280.0 311.0,279.8 311.2,279.9 311.4,280.0 311.6,279.9 311.8,279.8 312.0,279.8 312.2,279.9 312.4,280.1 312.6,279.8 312.8,279.7 313.0,279.7 313.3,280.0 313.5,279.9 313.7,279.9 313.9,280.1 314.1,279.9 314.3,279.8 314.5,280.0 314.7,279.7 314.9,279.8 315.1,280.0 315.3,279.8 315.5,279.7 315.7,279.9 315.9,279.8 316.1,280.1 316.3,279.7 316.5,280.0 316.7,279.9 316.9,280.0 317.1,279.9 317.3,280.0 317.6,279.8 317.8,279.8 318.0,279.9 318.2,280.0 318.4,279.8 318.6,279.8 318.8,279.9 319.0,279.7 319.2,279.8 319.4,279.9 319.6,279.9 319.8,279.9 320.0,279.8 320.2,279.7 320.4,279.7 320.6,279.8 320.8,279.8 321.0,279.9 321.2,279.8 321.4,280.0 321.6,279.9 321.9,280.0 322.1,280.0 322.3,279.9 322.5,279.9 322.7,279.8 322.9,279.7 323.1,280.0 323.3,279.9 323.5,279.7 323.7,280.1 323.9,279.9 324.1,279.9 324.3,279.9 324.5,279.8 324.7,280.1 324.9,279.8 325.1,279.8 325.3,280.1 325.5,279.7 325.7,279.9 325.9,279.9 326.2,279.8 326.4,280.1 326.6,279.9 326.8,279.7 327.0,279.9 327.2,279.7 327.4,280.0 327.6,280.0 327.8,280.1 328.0,279.7 328.2,280.0 328.4,279.8 328.6,279.9 328.8,279.8 329.0,279.8 329.2,279.8 329.4,280.0 329.6,279.7 329.8,280.1 330.0,279.7 330.2,280.1 330.4,279.8 330.7,279.7 330.9,280.0 331.1,279.9 331.3,280.0 331.5,279.9 331.7,280.0 331.9,279.7 332.1,280.0 332.3,279.9 332.5,280.1 332.7,279.7 332.9,279.7 333.1,280.0 333.3,280.1 333.5,279.9 333.7,280.0 333.9,279.9 334.1,279.9 334.3,279.9 334.5,279.9 334.7,279.7 335.0,279.8 335.2,280.0 335.4,279.8 335.6,279.9 335.8,279.8 336.0,279.8 336.2,280.0 336.4,280.0 336.6,280.1 336.8,279.9 337.0,279.8 337.2,279.8 337.4,279.7 337.6,279.8 337.8,279.9 338.0,279.9 338.2,279.8 338.4,279.8 338.6,279.7 338.8,279.8 339.0,279.9 339.3,279.8 339.5,280.1 339.7,279.9 339.9,279.8 340.1,279.9 340.3,279.7 340.5,280.0 340.7,280.0 340.9,279.8 341.1,280.0 341.3,279.8 341.5,279.8 341.7,279.8 341.9,279.8 342.1,279.9 342.3,280.0 342.5,280.0 342.7,279.7 342.9,280.0 343.1,279.9 343.3,279.9 343.6,279.9 343.8,279.9 344.0,279.8 344.2,279.9 344.4,280.0 344.6,280.0 344.8,280.1 345.0,279.8 345.2,280.1 345.4,280.0 345.6,280.0" fill="none" stroke="#1a1af0" stroke-width="1.6"/>
<rect x="38.5" y="42.5" width="307.1" height="247.10000000000002" fill="none" stroke="#000" stroke-width="3.2"/>
<line x1="38.5" y1="289.6" x2="38.5" y2="295.1" stroke="#000" stroke-width="2.6"/>
<line x1="64.1" y1="289.6" x2="64.1" y2="293.1" stroke="#000" stroke-width="2.6"/>
<line x1="89.7" y1="289.6" x2="89.7" y2="295.1" stroke="#000" stroke-width="2.6"/>
<line x1="115.3" y1="289.6" x2="115.3" y2="293.1" stroke="#000" stroke-width="2.6"/>
<line x1="140.9" y1="289.6" x2="140.9" y2="295.1" stroke="#000" stroke-width="2.6"/>
<line x1="166.5" y1="289.6" x2="166.5" y2="293.1" stroke="#000" stroke-width="2.6"/>
<line x1="192.1" y1="289.6" x2="192.1" y2="295.1" stroke="#000" stroke-width="2.6"/>
<line x1="217.6" y1="289.6" x2="217.6" y2="293.1" stroke="#000" stroke-width="2.6"/>
<line x1="243.2" y1="289.6" x2="243.2" y2="295.1" stroke="#000" stroke-width="2.6"/>
<line x1="268.8" y1="289.6" x2="268.8" y2="293.1" stroke="#000" stroke-width="2.6"/>
<line x1="294.4" y1="289.6" x2="294.4" y2="295.1" stroke="#000" stroke-width="2.6"/>
<line x1="320.0" y1="289.6" x2="320.0" y2="293.1" stroke="#000" stroke-width="2.6"/>
<line x1="345.6" y1="289.6" x2="345.6" y2="295.1" stroke="#000" stroke-width="2.6"/>
<text x="38.5" y="316.4" font-size="21" font-weight="bold" text-anchor="middle" fill="#000">10</text>
<text x="89.7" y="316.4" font-size="21" font-weight="bold" text-anchor="middle" fill="#000">20</text>
<text x="140.9" y="316.4" font-size="21" font-weight="bold" text-anchor="middle" fill="#000">30</text>
<text x="192.1" y="316.4" font-size="21" font-weight="bold" text-anchor="middle" fill="#000">40</text>
<text x="243.2" y="316.4" font-size="21" font-weight="bold" text-anchor="middle" fill="#000">50</text>
<text x="294.4" y="316.4" font-size="21" font-weight="bold" text-anchor="middle" fill="#000">60</text>
<text x="345.6" y="316.4" font-size="21" font-weight="bold" text-anchor="middle" fill="#000">70</text>
<line x1="32.5" y1="42.5" x2="38.5" y2="42.5" stroke="#000" stroke-width="2.6"/>
<line x1="32.5" y1="117.8" x2="38.5" y2="117.8" stroke="#000" stroke-width="2.6"/>
<line x1="32.5" y1="192.2" x2="38.5" y2="192.2" stroke="#000" stroke-width="2.6"/>
<line x1="32.5" y1="266.7" x2="38.5" y2="266.7" stroke="#000" stroke-width="2.6"/>
<line x1="35.0" y1="80.2" x2="38.5" y2="80.2" stroke="#000" stroke-width="2.2"/>
<line x1="35.0" y1="155" x2="38.5" y2="155" stroke="#000" stroke-width="2.2"/>
<line x1="35.0" y1="229.5" x2="38.5" y2="229.5" stroke="#000" stroke-width="2.2"/>
<text x="192" y="337" font-size="20.9" font-weight="bold" text-anchor="middle" fill="#000">2Theta / degree</text>
<text transform="translate(25.0,153.7) rotate(-90)" font-size="20.9" font-weight="bold" text-anchor="middle" fill="#000">Counts / arb. unit</text>
</g>
<rect x="6" y="6" width="35" height="35" fill="#0b0b70"/>
<text x="24.9" y="29.4" font-size="18.6" font-weight="bold" fill="#fff200" text-anchor="middle">(a)</text>
</g>
</svg>
</body></html>
